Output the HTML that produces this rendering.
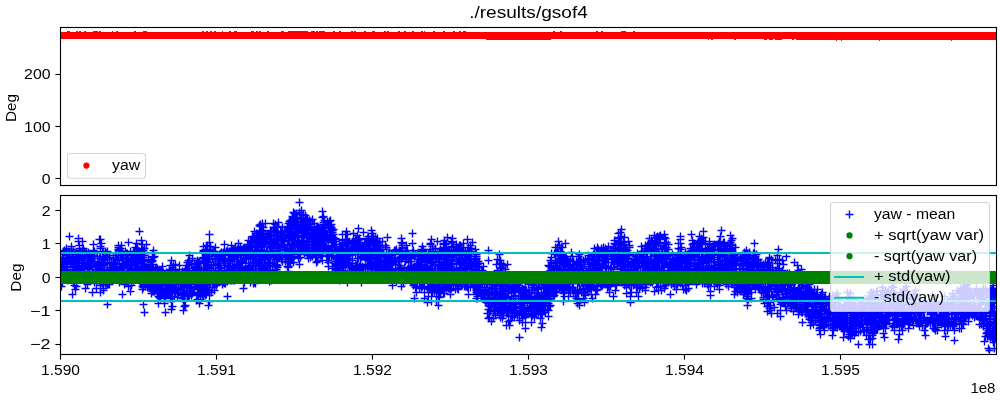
<!DOCTYPE html><html><head><meta charset="utf-8"><title>gsof4</title><style>html,body{margin:0;padding:0;background:#fff;width:1000px;height:400px;overflow:hidden}</style></head><body><svg width="1000" height="400" viewBox="0 0 1000 400" style="position:absolute;left:0;top:0;will-change:transform" font-family="Liberation Sans, sans-serif" fill="#000">
<defs><clipPath id="c1"><rect x="60.5" y="27.5" width="936" height="158"/></clipPath><clipPath id="c2"><rect x="60.5" y="195.5" width="936" height="159"/></clipPath></defs>
<g clip-path="url(#c1)"><path d="M60 32.0L61 32.0L62 32.0L63 32.0L64 32.0L65 32.0L66 32.0L67 31.0L68 31.0L69 31.0L70 31.8L71 31.8L72 31.9L73 31.9L74 32.0L75 32.0L76 31.8L77 31.0L78 31.8L79 31.8L80 31.0L81 31.8L82 31.8L83 31.8L84 31.8L85 31.0L86 32.0L87 32.0L88 32.0L89 32.0L90 32.0L91 32.0L92 31.9L93 31.9L94 31.1L95 31.1L96 31.9L97 31.0L98 31.8L99 31.8L100 31.0L101 31.8L102 31.8L103 31.8L104 32.0L105 32.0L106 32.0L107 32.0L108 32.0L109 32.0L110 32.0L111 32.1L112 31.3L113 31.2L114 32.0L115 32.0L116 31.9L117 31.1L118 31.9L119 31.9L120 31.9L121 31.9L122 31.9L123 31.9L124 31.2L125 32.0L126 31.8L127 31.8L128 31.8L129 31.8L130 31.8L131 31.8L132 32.0L133 31.9L134 31.9L135 31.1L136 31.9L137 31.7L138 31.7L139 31.7L140 31.7L141 31.7L142 31.7L143 31.8L144 31.0L145 31.9L146 31.1L147 31.9L148 31.9L149 32.1L150 32.1L151 31.2L152 32.0L153 32.0L154 31.2L155 32.0L156 32.1L157 32.1L158 32.2L159 32.2L160 31.4L161 32.2L162 32.2L163 32.2L164 32.2L165 32.2L166 32.2L167 32.2L168 31.4L169 32.1L170 31.3L171 32.1L172 32.1L173 32.1L174 32.2L175 32.2L176 32.2L177 31.4L178 32.2L179 32.2L180 32.2L181 32.2L182 32.2L183 32.2L184 31.4L185 32.2L186 32.1L187 32.1L188 32.1L189 32.1L190 32.1L191 32.1L192 32.1L193 31.3L194 32.1L195 31.3L196 32.1L197 31.3L198 32.1L199 32.1L200 32.1L201 31.9L202 31.9L203 31.1L204 31.9L205 31.9L206 31.9L207 30.9L208 31.7L209 31.7L210 31.7L211 30.9L212 31.7L213 32.0L214 31.9L215 31.1L216 31.9L217 31.9L218 31.9L219 32.0L220 32.0L221 32.0L222 31.1L223 31.9L224 31.9L225 31.9L226 31.9L227 31.9L228 32.0L229 31.9L230 31.1L231 31.9L232 31.9L233 31.9L234 31.9L235 31.1L236 31.1L237 31.9L238 31.9L239 31.9L240 31.9L241 31.9L242 31.9L243 31.9L244 31.9L245 31.9L246 31.8L247 31.8L248 31.8L249 31.8L250 31.8L251 31.8L252 30.9L253 30.9L254 31.7L255 31.7L256 31.7L257 30.9L258 31.6L259 31.6L260 30.8L261 31.6L262 31.6L263 31.6L264 31.6L265 31.6L266 31.6L267 31.6L268 30.9L269 31.7L270 31.7L271 31.6L272 31.6L273 31.6L274 31.6L275 31.6L276 31.5L277 31.5L278 31.5L279 31.5L280 31.5L281 31.5L282 30.8L283 30.8L284 31.6L285 31.6L286 31.6L287 31.5L288 31.5L289 30.7L290 31.4L291 31.4L292 31.4L293 31.4L294 31.4L295 31.4L296 31.4L297 31.2L298 31.2L299 31.2L300 30.4L301 31.2L302 31.4L303 31.4L304 31.4L305 31.4L306 31.4L307 31.4L308 31.5L309 31.5L310 31.5L311 31.5L312 30.7L313 31.5L314 30.7L315 31.6L316 31.6L317 30.8L318 31.6L319 31.6L320 30.6L321 31.4L322 30.6L323 30.6L324 30.6L325 31.5L326 31.5L327 31.5L328 31.5L329 31.5L330 31.5L331 31.5L332 31.5L333 31.5L334 30.8L335 31.7L336 31.7L337 31.8L338 31.8L339 31.9L340 30.9L341 31.7L342 31.7L343 31.7L344 31.7L345 31.7L346 31.7L347 31.7L348 31.7L349 31.7L350 31.8L351 31.7L352 30.9L353 31.7L354 31.7L355 30.9L356 31.7L357 31.6L358 31.6L359 31.6L360 31.6L361 31.6L362 31.7L363 31.7L364 31.7L365 30.9L366 31.8L367 31.8L368 31.8L369 31.7L370 31.7L371 31.7L372 31.7L373 30.9L374 30.9L375 31.7L376 31.8L377 31.8L378 31.8L379 31.8L380 31.8L381 31.8L382 31.8L383 31.8L384 31.8L385 31.0L386 31.8L387 31.8L388 31.0L389 31.8L390 32.0L391 32.0L392 32.0L393 32.0L394 32.0L395 32.0L396 31.2L397 32.0L398 31.2L399 31.0L400 31.8L401 31.8L402 31.8L403 31.8L404 31.9L405 31.1L406 31.9L407 31.9L408 31.9L409 32.0L410 31.7L411 31.7L412 31.7L413 30.9L414 31.7L415 32.0L416 32.0L417 32.0L418 32.0L419 32.0L420 32.0L421 31.9L422 31.1L423 31.9L424 31.9L425 31.1L426 32.0L427 32.0L428 32.0L429 31.8L430 31.8L431 31.8L432 31.8L433 31.8L434 31.1L435 31.8L436 31.8L437 31.8L438 31.8L439 31.8L440 32.0L441 31.9L442 31.9L443 31.8L444 31.0L445 31.8L446 31.8L447 31.8L448 31.8L449 31.8L450 31.8L451 31.8L452 31.8L453 31.8L454 31.0L455 31.9L456 31.9L457 31.9L458 31.9L459 31.9L460 31.1L461 31.9L462 31.9L463 31.9L464 31.1L465 31.1L466 31.8L467 31.8L468 31.8L469 31.8L470 31.8L471 31.9L472 31.9L473 31.9L474 31.9L475 32.0L476 32.0L477 32.0L478 32.0L479 32.1L480 32.1L481 32.2L482 31.4L483 32.2L484 32.2L485 32.2L486 32.0L487 32.0L488 32.0L489 31.2L490 32.0L491 31.4L492 32.2L493 32.2L494 32.2L495 31.3L496 32.1L497 32.0L498 31.2L499 32.0L500 32.0L501 32.0L502 31.3L503 32.2L504 32.2L505 31.4L506 32.2L507 31.4L508 32.2L509 31.4L510 32.2L511 32.2L512 32.2L513 32.2L514 32.2L515 32.2L516 31.4L517 32.2L518 32.2L519 32.2L520 32.2L521 31.4L522 32.2L523 32.2L524 32.2L525 32.2L526 31.4L527 32.2L528 32.2L529 32.2L530 32.2L531 31.4L532 32.2L533 32.2L534 32.2L535 32.2L536 31.4L537 32.2L538 32.2L539 32.2L540 32.2L541 32.2L542 32.2L543 31.4L544 32.2L545 31.4L546 32.2L547 32.2L548 32.1L549 32.1L550 32.0L551 32.0L552 32.0L553 31.9L554 31.1L555 31.9L556 31.8L557 31.8L558 31.8L559 31.8L560 31.8L561 31.1L562 31.9L563 31.9L564 31.9L565 31.9L566 31.9L567 31.9L568 32.1L569 32.1L570 32.0L571 31.2L572 32.0L573 32.0L574 32.0L575 32.1L576 32.1L577 32.1L578 32.0L579 32.0L580 31.2L581 32.0L582 32.0L583 32.1L584 31.3L585 32.1L586 31.3L587 32.1L588 32.1L589 32.1L590 32.1L591 32.0L592 32.0L593 32.0L594 32.0L595 31.9L596 31.9L597 31.1L598 31.9L599 31.9L600 32.0L601 31.9L602 31.1L603 31.9L604 31.9L605 31.9L606 31.9L607 31.9L608 31.9L609 31.9L610 31.9L611 32.0L612 31.9L613 31.8L614 31.8L615 31.8L616 31.7L617 31.7L618 31.7L619 31.7L620 31.6L621 31.6L622 30.8L623 30.8L624 31.6L625 31.0L626 31.8L627 31.8L628 31.8L629 31.8L630 31.8L631 31.9L632 31.9L633 31.3L634 31.3L635 31.3L636 32.0L637 32.0L638 32.0L639 31.9L640 31.9L641 31.9L642 31.9L643 31.9L644 31.9L645 31.9L646 31.9L647 31.8L648 31.8L649 31.8L650 31.8L651 31.8L652 31.8L653 31.8L654 31.8L655 31.8L656 31.8L657 31.8L658 31.8L659 31.8L660 31.8L661 31.8L662 31.7L663 31.7L664 31.7L665 31.7L666 31.7L667 31.8L668 31.9L669 31.9L670 31.9L671 32.0L672 32.0L673 32.0L674 32.0L675 32.0L676 32.1L677 31.9L678 31.8L679 31.8L680 31.8L681 31.8L682 31.8L683 31.8L684 32.0L685 32.0L686 32.0L687 32.0L688 32.0L689 31.7L690 31.7L691 31.7L692 31.7L693 31.7L694 31.8L695 31.9L696 31.9L697 31.8L698 31.8L699 31.8L700 31.8L701 31.7L702 31.7L703 31.7L704 31.7L705 31.7L706 31.8L707 31.8L708 31.8L709 31.8L710 31.8L711 31.8L712 31.9L713 31.9L714 31.9L715 31.9L716 31.9L717 31.9L718 31.8L719 31.8L720 31.7L721 31.7L722 31.7L723 31.7L724 31.7L725 31.9L726 31.9L727 31.9L728 31.9L729 31.8L730 31.8L731 31.8L732 31.8L733 31.8L734 31.8L735 31.9L736 31.9L737 31.9L738 32.0L739 32.1L740 32.1L741 32.1L742 32.0L743 32.0L744 32.0L745 32.0L746 32.0L747 32.0L748 32.0L749 32.0L750 32.0L751 32.0L752 31.9L753 31.9L754 31.9L755 31.9L756 31.9L757 32.0L758 32.0L759 32.1L760 32.1L761 32.1L762 32.2L763 32.2L764 32.2L765 32.2L766 32.2L767 32.1L768 32.1L769 32.1L770 32.1L771 32.1L772 32.1L773 32.1L774 32.1L775 32.1L776 32.1L777 32.0L778 32.0L779 32.0L780 32.0L781 32.0L782 32.1L783 32.1L784 32.1L785 32.1L786 32.1L787 32.1L788 32.1L789 32.2L790 32.2L791 32.2L792 32.2L793 32.2L794 32.2L795 32.2L796 32.2L797 32.2L798 32.2L799 32.2L800 32.2L801 32.2L802 32.2L803 32.2L804 32.2L805 32.2L806 32.2L807 32.2L808 32.2L809 32.2L810 32.2L811 32.2L812 32.2L813 32.2L814 32.2L815 32.2L816 32.2L817 32.2L818 32.2L819 32.2L820 32.2L821 32.2L822 32.2L823 32.2L824 32.2L825 32.2L826 32.2L827 32.2L828 32.2L829 32.2L830 32.2L831 32.2L832 32.2L833 32.2L834 32.2L835 32.2L836 32.2L837 32.2L838 32.2L839 32.2L840 32.2L841 32.2L842 32.2L843 32.2L844 32.2L845 32.2L846 32.2L847 32.2L848 32.2L849 32.2L850 32.2L851 32.2L852 32.2L853 32.2L854 32.2L855 32.2L856 32.2L857 32.2L858 32.2L859 32.2L860 32.2L861 32.2L862 32.2L863 32.2L864 32.2L865 32.2L866 32.2L867 32.2L868 32.2L869 32.2L870 32.2L871 32.2L872 32.2L873 32.2L874 32.2L875 32.2L876 32.2L877 32.2L878 32.2L879 32.2L880 32.2L881 32.2L882 32.2L883 32.2L884 32.2L885 32.2L886 32.2L887 32.2L888 32.2L889 32.2L890 32.2L891 32.2L892 32.2L893 32.2L894 32.2L895 32.2L896 32.2L897 32.2L898 32.2L899 32.2L900 32.2L901 32.2L902 32.2L903 32.2L904 32.2L905 32.2L906 32.2L907 32.2L908 32.2L909 32.2L910 32.2L911 32.2L912 32.2L913 32.2L914 32.2L915 32.2L916 32.2L917 32.2L918 32.2L919 32.2L920 32.2L921 32.2L922 32.2L923 32.2L924 32.2L925 32.2L926 32.2L927 32.2L928 32.2L929 32.2L930 32.2L931 32.2L932 32.2L933 32.2L934 32.2L935 32.2L936 32.2L937 32.2L938 32.2L939 32.2L940 32.2L941 32.2L942 32.2L943 32.2L944 32.2L945 32.2L946 32.2L947 32.2L948 32.2L949 32.2L950 32.2L951 32.2L952 32.2L953 32.2L954 32.2L955 32.2L956 32.2L957 32.2L958 32.2L959 32.2L960 32.2L961 32.2L962 32.2L963 32.2L964 32.2L965 32.2L966 32.2L967 32.2L968 32.2L969 32.2L970 32.2L971 32.2L972 32.2L973 32.2L974 32.2L975 32.2L976 32.2L977 32.2L978 32.2L979 32.2L980 32.2L981 32.2L982 32.2L983 32.2L984 32.2L985 32.2L986 32.2L987 32.2L988 32.2L989 32.2L990 32.2L991 32.2L992 32.2L993 32.2L994 32.2L995 32.2L996 32.2L997 32.2L997 40.0L996 40.0L995 40.0L994 40.0L993 40.0L992 39.9L991 40.0L990 40.0L989 40.0L988 40.8L987 40.0L986 40.0L985 40.7L984 39.9L983 39.9L982 39.7L981 39.6L980 39.6L979 39.6L978 39.6L977 39.6L976 39.5L975 39.5L974 39.5L973 39.5L972 39.5L971 39.5L970 39.6L969 40.4L968 39.6L967 39.6L966 39.6L965 39.6L964 39.6L963 39.7L962 39.7L961 39.7L960 39.7L959 39.7L958 39.7L957 39.6L956 39.9L955 40.7L954 39.9L953 39.9L952 40.7L951 40.4L950 39.7L949 39.7L948 39.7L947 39.8L946 39.8L945 39.8L944 39.8L943 39.8L942 39.7L941 39.6L940 39.7L939 39.7L938 39.7L937 39.7L936 39.7L935 39.7L934 39.7L933 39.7L932 40.5L931 39.7L930 39.6L929 39.6L928 39.6L927 39.8L926 39.8L925 39.8L924 39.8L923 39.8L922 40.5L921 39.7L920 39.7L919 39.7L918 39.7L917 40.5L916 39.6L915 39.6L914 39.6L913 39.6L912 40.4L911 40.4L910 39.7L909 39.7L908 39.7L907 39.7L906 39.7L905 39.7L904 39.7L903 39.7L902 39.7L901 40.7L900 39.9L899 40.7L898 39.9L897 39.9L896 39.7L895 40.5L894 39.7L893 39.7L892 39.7L891 39.7L890 40.4L889 39.6L888 39.6L887 39.7L886 39.8L885 39.8L884 39.8L883 39.8L882 39.8L881 39.7L880 40.5L879 40.5L878 39.7L877 40.5L876 39.8L875 40.6L874 39.9L873 40.7L872 39.9L871 39.9L870 39.9L869 39.9L868 39.9L867 39.9L866 40.7L865 39.8L864 39.8L863 40.5L862 39.7L861 39.8L860 39.9L859 39.9L858 39.9L857 39.9L856 39.9L855 40.6L854 39.8L853 39.9L852 39.9L851 39.9L850 39.9L849 39.9L848 39.9L847 39.8L846 39.8L845 39.8L844 39.8L843 39.8L842 40.6L841 40.6L840 39.7L839 39.7L838 39.7L837 40.5L836 40.5L835 39.8L834 39.8L833 39.8L832 40.6L831 39.8L830 39.6L829 40.4L828 39.6L827 40.5L826 39.7L825 39.7L824 39.7L823 39.7L822 39.8L821 40.6L820 39.8L819 39.8L818 39.8L817 39.6L816 39.6L815 39.6L814 39.6L813 39.6L812 39.6L811 39.6L810 40.4L809 39.6L808 39.6L807 40.4L806 39.5L805 39.5L804 39.6L803 39.6L802 39.6L801 39.6L800 39.6L799 39.5L798 39.5L797 39.5L796 39.5L795 39.4L794 39.4L793 40.2L792 39.4L791 39.4L790 39.4L789 39.4L788 39.4L787 39.4L786 39.4L785 39.4L784 39.4L783 39.3L782 39.5L781 39.5L780 39.5L779 40.3L778 39.5L777 39.5L776 40.3L775 39.5L774 39.4L773 39.5L772 39.5L771 39.5L770 39.5L769 39.5L768 39.4L767 39.4L766 40.2L765 40.2L764 39.3L763 39.3L762 39.3L761 39.2L760 39.1L759 39.1L758 39.1L757 39.1L756 39.1L755 39.1L754 39.2L753 39.2L752 39.2L751 39.2L750 39.2L749 39.3L748 39.3L747 39.3L746 39.3L745 39.3L744 39.2L743 39.2L742 39.2L741 39.2L740 39.1L739 39.1L738 39.1L737 39.2L736 39.2L735 40.0L734 39.2L733 39.2L732 39.0L731 39.0L730 39.0L729 39.8L728 39.0L727 39.0L726 39.0L725 39.0L724 39.8L723 39.0L722 39.1L721 39.1L720 39.9L719 39.1L718 39.1L717 39.0L716 39.8L715 39.0L714 39.8L713 39.2L712 40.0L711 39.2L710 39.2L709 39.2L708 39.9L707 39.0L706 39.0L705 39.0L704 39.0L703 39.0L702 39.0L701 39.0L700 39.0L699 39.0L698 39.8L697 39.0L696 39.0L695 39.0L694 39.0L693 38.9L692 39.7L691 39.0L690 39.1L689 39.1L688 39.1L687 39.1L686 39.1L685 39.1L684 39.1L683 39.1L682 39.1L681 39.1L680 39.0L679 39.1L678 39.1L677 39.1L676 39.1L675 39.1L674 39.0L673 39.0L672 39.2L671 39.2L670 39.2L669 39.2L668 39.2L667 39.8L666 39.1L665 39.1L664 39.1L663 39.1L662 39.9L661 39.1L660 39.1L659 39.9L658 39.1L657 39.1L656 39.1L655 39.1L654 39.9L653 39.1L652 39.1L651 39.0L650 39.0L649 39.0L648 39.8L647 39.1L646 39.1L645 39.1L644 39.1L643 39.9L642 39.1L641 39.2L640 39.2L639 39.2L638 39.2L637 39.2L636 39.2L635 39.1L634 39.1L633 39.1L632 39.3L631 39.3L630 39.3L629 39.3L628 39.3L627 39.2L626 39.2L625 39.2L624 39.2L623 39.0L622 39.0L621 39.0L620 39.0L619 39.0L618 39.0L617 39.1L616 39.1L615 39.2L614 39.2L613 39.2L612 39.2L611 39.2L610 39.1L609 39.1L608 39.1L607 39.1L606 39.1L605 39.0L604 39.0L603 39.0L602 39.0L601 39.0L600 39.1L599 39.1L598 39.1L597 39.2L596 39.2L595 39.2L594 39.2L593 39.2L592 39.2L591 39.2L590 39.2L589 39.2L588 39.2L587 39.3L586 39.3L585 39.3L584 39.3L583 39.3L582 39.3L581 39.3L580 39.3L579 39.3L578 39.3L577 39.3L576 39.3L575 39.2L574 39.2L573 39.2L572 39.1L571 39.2L570 39.2L569 39.2L568 39.2L567 39.2L566 39.2L565 39.3L564 39.3L563 39.3L562 39.3L561 39.3L560 39.1L559 39.1L558 39.1L557 39.2L556 39.2L555 39.2L554 39.2L553 39.3L552 39.3L551 39.5L550 39.5L549 39.5L548 39.5L547 39.5L546 39.5L545 39.5L544 39.6L543 39.7L542 39.7L541 39.7L540 39.7L539 39.7L538 39.5L537 39.5L536 39.5L535 39.5L534 39.6L533 39.6L532 39.6L531 39.6L530 39.6L529 39.5L528 39.7L527 39.7L526 39.7L525 39.7L524 39.7L523 39.6L522 39.6L521 39.8L520 39.8L519 39.8L518 39.8L517 39.8L516 39.5L515 39.5L514 39.5L513 39.5L512 39.7L511 39.7L510 39.7L509 39.7L508 39.7L507 39.6L506 39.6L505 39.6L504 39.6L503 39.5L502 39.5L501 39.5L500 39.5L499 39.5L498 39.5L497 39.5L496 39.5L495 39.5L494 39.6L493 39.6L492 39.6L491 39.6L490 39.6L489 39.5L488 39.5L487 39.5L486 39.5L485 39.3L484 39.3L483 39.3L482 39.2L481 39.2L480 39.2L479 39.2L478 39.2L477 39.2L476 39.2L475 39.2L474 39.2L473 39.1L472 39.1L471 39.1L470 39.2L469 39.2L468 39.2L467 39.2L466 39.2L465 39.1L464 39.0L463 39.0L462 39.0L461 39.1L460 39.1L459 39.1L458 39.1L457 39.1L456 39.1L455 39.1L454 39.1L453 39.2L452 39.2L451 39.2L450 39.2L449 39.2L448 39.1L447 39.1L446 39.2L445 39.2L444 39.2L443 39.2L442 39.2L441 39.3L440 39.3L439 39.3L438 39.3L437 39.3L436 39.3L435 39.3L434 39.3L433 39.3L432 39.3L431 39.3L430 39.3L429 39.3L428 39.3L427 39.3L426 39.3L425 39.3L424 39.2L423 39.2L422 39.1L421 39.1L420 39.1L419 39.1L418 39.1L417 39.2L416 39.2L415 39.2L414 39.2L413 39.2L412 39.0L411 39.0L410 39.0L409 38.9L408 38.9L407 38.9L406 38.9L405 39.0L404 39.0L403 39.0L402 39.0L401 39.0L400 39.0L399 39.0L398 39.0L397 39.0L396 39.0L395 39.0L394 39.0L393 39.0L392 39.0L391 39.0L390 38.9L389 38.9L388 38.8L387 38.9L386 38.9L385 38.9L384 38.9L383 38.9L382 38.9L381 38.9L380 38.8L379 38.8L378 38.8L377 38.8L376 38.8L375 38.8L374 38.8L373 38.8L372 38.8L371 38.8L370 38.8L369 38.8L368 38.8L367 38.8L366 38.8L365 38.8L364 38.8L363 39.0L362 39.0L361 39.0L360 39.0L359 39.0L358 38.8L357 38.8L356 38.8L355 38.8L354 38.8L353 38.8L352 38.8L351 38.8L350 38.8L349 39.0L348 39.0L347 39.0L346 39.0L345 39.0L344 38.8L343 38.8L342 39.0L341 39.0L340 39.0L339 39.0L338 39.0L337 39.0L336 38.9L335 38.9L334 38.8L333 38.8L332 38.8L331 38.8L330 38.7L329 38.7L328 38.7L327 38.7L326 38.7L325 38.7L324 38.7L323 38.7L322 38.7L321 38.7L320 38.7L319 38.7L318 38.7L317 38.7L316 38.7L315 38.7L314 38.7L313 38.7L312 38.7L311 38.7L310 38.7L309 38.7L308 38.7L307 38.7L306 38.7L305 38.7L304 38.7L303 38.7L302 38.7L301 38.7L300 38.7L299 38.7L298 38.7L297 38.7L296 38.7L295 38.7L294 38.7L293 38.7L292 38.7L291 38.8L290 38.8L289 38.8L288 38.8L287 38.8L286 38.7L285 38.7L284 38.7L283 38.7L282 38.7L281 38.7L280 38.7L279 38.8L278 38.8L277 38.8L276 38.8L275 38.8L274 38.9L273 39.0L272 39.0L271 39.0L270 39.0L269 39.0L268 39.0L267 39.0L266 38.8L265 38.8L264 38.8L263 38.8L262 38.8L261 38.8L260 38.9L259 38.9L258 38.9L257 39.0L256 39.0L255 39.0L254 39.0L253 39.0L252 39.0L251 39.0L250 39.0L249 39.0L248 39.0L247 39.0L246 39.0L245 39.1L244 39.1L243 39.1L242 39.1L241 39.1L240 38.9L239 38.8L238 38.8L237 39.0L236 39.0L235 39.0L234 39.0L233 39.0L232 39.0L231 39.0L230 39.2L229 39.2L228 39.2L227 39.2L226 39.2L225 39.2L224 39.0L223 39.0L222 39.0L221 39.0L220 39.0L219 39.0L218 39.0L217 39.1L216 39.1L215 39.1L214 39.1L213 39.1L212 39.3L211 39.3L210 39.3L209 39.3L208 39.3L207 39.3L206 39.3L205 39.2L204 39.2L203 39.2L202 39.3L201 39.3L200 39.3L199 39.3L198 39.3L197 39.3L196 39.3L195 39.3L194 39.3L193 39.2L192 39.2L191 39.2L190 39.2L189 39.2L188 39.3L187 39.4L186 39.4L185 39.4L184 39.4L183 39.4L182 39.4L181 39.4L180 39.2L179 39.2L178 39.2L177 39.2L176 39.2L175 39.3L174 39.4L173 39.4L172 39.4L171 39.4L170 39.4L169 39.3L168 39.4L167 39.4L166 39.4L165 39.4L164 39.4L163 39.4L162 39.3L161 39.2L160 39.3L159 39.3L158 39.3L157 39.3L156 39.3L155 39.1L154 39.1L153 39.1L152 39.1L151 39.1L150 39.1L149 39.1L148 39.1L147 39.4L146 39.4L145 39.4L144 39.4L143 39.4L142 39.4L141 39.3L140 39.0L139 38.9L138 38.9L137 38.8L136 38.8L135 38.9L134 39.0L133 39.1L132 39.1L131 39.1L130 39.1L129 39.1L128 39.0L127 39.0L126 39.0L125 39.2L124 39.2L123 39.2L122 39.2L121 39.2L120 39.2L119 39.0L118 39.0L117 38.9L116 38.9L115 38.9L114 38.9L113 38.9L112 38.9L111 39.0L110 39.0L109 39.3L108 39.3L107 39.3L106 39.3L105 39.3L104 39.1L103 39.1L102 39.1L101 39.1L100 39.1L99 39.1L98 39.1L97 39.1L96 39.1L95 39.1L94 39.1L93 39.1L92 39.1L91 39.1L90 39.1L89 39.0L88 39.1L87 39.1L86 39.1L85 39.1L84 39.1L83 38.9L82 38.9L81 38.9L80 38.9L79 38.9L78 39.1L77 39.1L76 39.1L75 39.2L74 39.2L73 39.2L72 39.2L71 39.2L70 39.2L69 39.0L68 39.0L67 39.0L66 39.0L65 39.0L64 39.0L63 39.0L62 39.0L61 39.0L60 39.0Z" fill="#f00" shape-rendering="crispEdges"/></g>
<g clip-path="url(#c2)"><path d="M635.5 283.5h8m-4-4v8M882.5 309.5h8m-4-4v8M763.5 287.5h8m-4-4v8M276.5 255.5h8m-4-4v8M342.5 239.5h8m-4-4v8M862.5 319.5h8m-4-4v8M62.5 266.5h8m-4-4v8M805.5 290.5h8m-4-4v8M499.5 282.5h8m-4-4v8M345.5 253.5h8m-4-4v8M322.5 247.5h8m-4-4v8M299.5 223.5h8m-4-4v8M476.5 291.5h8m-4-4v8M534.5 287.5h8m-4-4v8M575.5 273.5h8m-4-4v8M989.5 301.5h8m-4-4v8M779.5 302.5h8m-4-4v8M632.5 262.5h8m-4-4v8M985.5 331.5h8m-4-4v8M268.5 248.5h8m-4-4v8M220.5 258.5h8m-4-4v8M623.5 265.5h8m-4-4v8M103.5 257.5h8m-4-4v8M96.5 271.5h8m-4-4v8M544.5 295.5h8m-4-4v8M497.5 294.5h8m-4-4v8M901.5 317.5h8m-4-4v8M543.5 297.5h8m-4-4v8M526.5 308.5h8m-4-4v8M294.5 230.5h8m-4-4v8M69.5 254.5h8m-4-4v8M250.5 258.5h8m-4-4v8M694.5 259.5h8m-4-4v8M256.5 239.5h8m-4-4v8M60.5 262.5h8m-4-4v8M815.5 314.5h8m-4-4v8M215.5 256.5h8m-4-4v8M311.5 230.5h8m-4-4v8M868.5 297.5h8m-4-4v8M540.5 310.5h8m-4-4v8M833.5 320.5h8m-4-4v8M647.5 256.5h8m-4-4v8M733.5 257.5h8m-4-4v8M564.5 283.5h8m-4-4v8M538.5 310.5h8m-4-4v8M860.5 306.5h8m-4-4v8M613.5 248.5h8m-4-4v8M122.5 253.5h8m-4-4v8M429.5 256.5h8m-4-4v8M363.5 239.5h8m-4-4v8M211.5 259.5h8m-4-4v8M800.5 307.5h8m-4-4v8M422.5 271.5h8m-4-4v8M977.5 316.5h8m-4-4v8M607.5 251.5h8m-4-4v8M617.5 272.5h8m-4-4v8M645.5 249.5h8m-4-4v8M680.5 261.5h8m-4-4v8M211.5 284.5h8m-4-4v8M471.5 280.5h8m-4-4v8M288.5 247.5h8m-4-4v8M441.5 274.5h8m-4-4v8M161.5 280.5h8m-4-4v8M965.5 306.5h8m-4-4v8M267.5 245.5h8m-4-4v8M342.5 262.5h8m-4-4v8M863.5 329.5h8m-4-4v8M197.5 289.5h8m-4-4v8M831.5 303.5h8m-4-4v8M940.5 303.5h8m-4-4v8M888.5 302.5h8m-4-4v8M590.5 287.5h8m-4-4v8M250.5 260.5h8m-4-4v8M915.5 320.5h8m-4-4v8M574.5 282.5h8m-4-4v8M239.5 248.5h8m-4-4v8M871.5 309.5h8m-4-4v8M590.5 282.5h8m-4-4v8M420.5 257.5h8m-4-4v8M447.5 288.5h8m-4-4v8M288.5 238.5h8m-4-4v8M98.5 262.5h8m-4-4v8M865.5 313.5h8m-4-4v8M499.5 311.5h8m-4-4v8M570.5 290.5h8m-4-4v8M362.5 251.5h8m-4-4v8M84.5 252.5h8m-4-4v8M416.5 281.5h8m-4-4v8M90.5 253.5h8m-4-4v8M190.5 286.5h8m-4-4v8M964.5 298.5h8m-4-4v8M661.5 253.5h8m-4-4v8M461.5 255.5h8m-4-4v8M550.5 295.5h8m-4-4v8M862.5 308.5h8m-4-4v8M385.5 259.5h8m-4-4v8M607.5 254.5h8m-4-4v8M687.5 263.5h8m-4-4v8M399.5 270.5h8m-4-4v8M547.5 270.5h8m-4-4v8M893.5 301.5h8m-4-4v8M212.5 254.5h8m-4-4v8M923.5 320.5h8m-4-4v8M62.5 259.5h8m-4-4v8M795.5 311.5h8m-4-4v8M201.5 283.5h8m-4-4v8M453.5 261.5h8m-4-4v8M799.5 302.5h8m-4-4v8M72.5 270.5h8m-4-4v8M638.5 257.5h8m-4-4v8M779.5 302.5h8m-4-4v8M542.5 282.5h8m-4-4v8M720.5 243.5h8m-4-4v8M278.5 247.5h8m-4-4v8M254.5 254.5h8m-4-4v8M407.5 257.5h8m-4-4v8M238.5 261.5h8m-4-4v8M387.5 255.5h8m-4-4v8M944.5 321.5h8m-4-4v8M593.5 270.5h8m-4-4v8M380.5 260.5h8m-4-4v8M315.5 228.5h8m-4-4v8M949.5 325.5h8m-4-4v8M475.5 271.5h8m-4-4v8M979.5 311.5h8m-4-4v8M545.5 298.5h8m-4-4v8M882.5 300.5h8m-4-4v8M460.5 255.5h8m-4-4v8M867.5 305.5h8m-4-4v8M448.5 255.5h8m-4-4v8M908.5 302.5h8m-4-4v8M133.5 267.5h8m-4-4v8M463.5 287.5h8m-4-4v8M547.5 271.5h8m-4-4v8M948.5 325.5h8m-4-4v8M296.5 228.5h8m-4-4v8M791.5 306.5h8m-4-4v8M680.5 255.5h8m-4-4v8M713.5 255.5h8m-4-4v8M639.5 280.5h8m-4-4v8M969.5 312.5h8m-4-4v8M372.5 267.5h8m-4-4v8M258.5 245.5h8m-4-4v8M266.5 251.5h8m-4-4v8M899.5 318.5h8m-4-4v8M826.5 309.5h8m-4-4v8M180.5 295.5h8m-4-4v8M616.5 265.5h8m-4-4v8M509.5 306.5h8m-4-4v8M610.5 248.5h8m-4-4v8M662.5 263.5h8m-4-4v8M348.5 242.5h8m-4-4v8M958.5 300.5h8m-4-4v8M497.5 298.5h8m-4-4v8M637.5 260.5h8m-4-4v8M643.5 245.5h8m-4-4v8M242.5 258.5h8m-4-4v8M125.5 270.5h8m-4-4v8M448.5 263.5h8m-4-4v8M752.5 279.5h8m-4-4v8M799.5 294.5h8m-4-4v8M723.5 264.5h8m-4-4v8M897.5 294.5h8m-4-4v8M787.5 300.5h8m-4-4v8M866.5 315.5h8m-4-4v8M550.5 288.5h8m-4-4v8M899.5 316.5h8m-4-4v8M90.5 261.5h8m-4-4v8M79.5 258.5h8m-4-4v8M298.5 222.5h8m-4-4v8M294.5 232.5h8m-4-4v8M246.5 263.5h8m-4-4v8M588.5 285.5h8m-4-4v8M99.5 290.5h8m-4-4v8M225.5 267.5h8m-4-4v8M681.5 260.5h8m-4-4v8M80.5 266.5h8m-4-4v8M352.5 249.5h8m-4-4v8M930.5 321.5h8m-4-4v8M561.5 262.5h8m-4-4v8M796.5 292.5h8m-4-4v8M661.5 255.5h8m-4-4v8M621.5 256.5h8m-4-4v8M249.5 268.5h8m-4-4v8M594.5 259.5h8m-4-4v8M100.5 264.5h8m-4-4v8M956.5 318.5h8m-4-4v8M842.5 328.5h8m-4-4v8M111.5 264.5h8m-4-4v8M378.5 271.5h8m-4-4v8M358.5 246.5h8m-4-4v8M636.5 271.5h8m-4-4v8M354.5 270.5h8m-4-4v8M852.5 331.5h8m-4-4v8M195.5 274.5h8m-4-4v8M754.5 270.5h8m-4-4v8M870.5 331.5h8m-4-4v8M593.5 254.5h8m-4-4v8M646.5 282.5h8m-4-4v8M620.5 270.5h8m-4-4v8M161.5 283.5h8m-4-4v8M664.5 265.5h8m-4-4v8M808.5 294.5h8m-4-4v8M789.5 288.5h8m-4-4v8M366.5 243.5h8m-4-4v8M716.5 257.5h8m-4-4v8M856.5 326.5h8m-4-4v8M878.5 319.5h8m-4-4v8M221.5 254.5h8m-4-4v8M86.5 257.5h8m-4-4v8M655.5 270.5h8m-4-4v8M267.5 236.5h8m-4-4v8M585.5 258.5h8m-4-4v8M940.5 322.5h8m-4-4v8M422.5 255.5h8m-4-4v8M298.5 249.5h8m-4-4v8M489.5 297.5h8m-4-4v8M660.5 261.5h8m-4-4v8M423.5 267.5h8m-4-4v8M199.5 291.5h8m-4-4v8M665.5 270.5h8m-4-4v8M815.5 299.5h8m-4-4v8M420.5 274.5h8m-4-4v8M415.5 265.5h8m-4-4v8M562.5 288.5h8m-4-4v8M267.5 236.5h8m-4-4v8M294.5 233.5h8m-4-4v8M369.5 241.5h8m-4-4v8M490.5 286.5h8m-4-4v8M145.5 280.5h8m-4-4v8M598.5 285.5h8m-4-4v8M342.5 244.5h8m-4-4v8M142.5 270.5h8m-4-4v8M751.5 256.5h8m-4-4v8M197.5 283.5h8m-4-4v8M199.5 257.5h8m-4-4v8M197.5 293.5h8m-4-4v8M145.5 273.5h8m-4-4v8M890.5 307.5h8m-4-4v8M312.5 234.5h8m-4-4v8M348.5 253.5h8m-4-4v8M818.5 320.5h8m-4-4v8M630.5 282.5h8m-4-4v8M245.5 255.5h8m-4-4v8M467.5 281.5h8m-4-4v8M871.5 306.5h8m-4-4v8M419.5 257.5h8m-4-4v8M708.5 252.5h8m-4-4v8M161.5 282.5h8m-4-4v8M721.5 259.5h8m-4-4v8M763.5 270.5h8m-4-4v8M810.5 312.5h8m-4-4v8M677.5 259.5h8m-4-4v8M128.5 264.5h8m-4-4v8M547.5 288.5h8m-4-4v8M746.5 285.5h8m-4-4v8M248.5 266.5h8m-4-4v8M309.5 241.5h8m-4-4v8M739.5 274.5h8m-4-4v8M882.5 324.5h8m-4-4v8M193.5 289.5h8m-4-4v8M243.5 248.5h8m-4-4v8M650.5 260.5h8m-4-4v8M990.5 296.5h8m-4-4v8M931.5 308.5h8m-4-4v8M829.5 327.5h8m-4-4v8M764.5 289.5h8m-4-4v8M435.5 271.5h8m-4-4v8M648.5 250.5h8m-4-4v8M243.5 244.5h8m-4-4v8M748.5 263.5h8m-4-4v8M746.5 258.5h8m-4-4v8M475.5 280.5h8m-4-4v8M421.5 272.5h8m-4-4v8M454.5 272.5h8m-4-4v8M94.5 265.5h8m-4-4v8M830.5 307.5h8m-4-4v8M565.5 282.5h8m-4-4v8M429.5 280.5h8m-4-4v8M570.5 290.5h8m-4-4v8M716.5 261.5h8m-4-4v8M424.5 258.5h8m-4-4v8M815.5 322.5h8m-4-4v8M903.5 297.5h8m-4-4v8M429.5 257.5h8m-4-4v8M202.5 282.5h8m-4-4v8M748.5 282.5h8m-4-4v8M987.5 336.5h8m-4-4v8M209.5 273.5h8m-4-4v8M709.5 254.5h8m-4-4v8M809.5 293.5h8m-4-4v8M905.5 316.5h8m-4-4v8M191.5 284.5h8m-4-4v8M155.5 271.5h8m-4-4v8M984.5 325.5h8m-4-4v8M185.5 295.5h8m-4-4v8M236.5 252.5h8m-4-4v8M594.5 274.5h8m-4-4v8M477.5 281.5h8m-4-4v8M248.5 243.5h8m-4-4v8M898.5 320.5h8m-4-4v8M269.5 240.5h8m-4-4v8M756.5 280.5h8m-4-4v8M132.5 257.5h8m-4-4v8M504.5 286.5h8m-4-4v8M354.5 248.5h8m-4-4v8M353.5 271.5h8m-4-4v8M487.5 295.5h8m-4-4v8M118.5 266.5h8m-4-4v8M989.5 291.5h8m-4-4v8M875.5 318.5h8m-4-4v8M900.5 314.5h8m-4-4v8M293.5 237.5h8m-4-4v8M434.5 282.5h8m-4-4v8M278.5 245.5h8m-4-4v8M192.5 274.5h8m-4-4v8M94.5 271.5h8m-4-4v8M533.5 300.5h8m-4-4v8M190.5 283.5h8m-4-4v8M235.5 252.5h8m-4-4v8M849.5 309.5h8m-4-4v8M514.5 290.5h8m-4-4v8M242.5 271.5h8m-4-4v8M673.5 281.5h8m-4-4v8M309.5 252.5h8m-4-4v8M553.5 275.5h8m-4-4v8M326.5 251.5h8m-4-4v8M545.5 271.5h8m-4-4v8M638.5 261.5h8m-4-4v8M560.5 289.5h8m-4-4v8M435.5 261.5h8m-4-4v8M862.5 314.5h8m-4-4v8M238.5 270.5h8m-4-4v8M201.5 295.5h8m-4-4v8M181.5 269.5h8m-4-4v8M978.5 312.5h8m-4-4v8M935.5 321.5h8m-4-4v8M282.5 256.5h8m-4-4v8M967.5 313.5h8m-4-4v8M261.5 255.5h8m-4-4v8M536.5 309.5h8m-4-4v8M527.5 298.5h8m-4-4v8M899.5 310.5h8m-4-4v8M100.5 273.5h8m-4-4v8M356.5 254.5h8m-4-4v8M614.5 259.5h8m-4-4v8M130.5 269.5h8m-4-4v8M286.5 224.5h8m-4-4v8M496.5 307.5h8m-4-4v8M869.5 320.5h8m-4-4v8M749.5 257.5h8m-4-4v8M813.5 304.5h8m-4-4v8M749.5 281.5h8m-4-4v8M705.5 259.5h8m-4-4v8M836.5 325.5h8m-4-4v8M685.5 262.5h8m-4-4v8M728.5 283.5h8m-4-4v8M343.5 252.5h8m-4-4v8M227.5 280.5h8m-4-4v8M745.5 266.5h8m-4-4v8M225.5 263.5h8m-4-4v8M903.5 301.5h8m-4-4v8M369.5 243.5h8m-4-4v8M928.5 319.5h8m-4-4v8M215.5 267.5h8m-4-4v8M544.5 303.5h8m-4-4v8M155.5 286.5h8m-4-4v8M962.5 315.5h8m-4-4v8M594.5 271.5h8m-4-4v8M789.5 282.5h8m-4-4v8M325.5 254.5h8m-4-4v8M787.5 304.5h8m-4-4v8M649.5 267.5h8m-4-4v8M947.5 307.5h8m-4-4v8M466.5 251.5h8m-4-4v8M450.5 280.5h8m-4-4v8M694.5 267.5h8m-4-4v8M820.5 309.5h8m-4-4v8M374.5 259.5h8m-4-4v8M262.5 239.5h8m-4-4v8M574.5 262.5h8m-4-4v8M756.5 262.5h8m-4-4v8M721.5 250.5h8m-4-4v8M955.5 292.5h8m-4-4v8M500.5 302.5h8m-4-4v8M446.5 269.5h8m-4-4v8M715.5 261.5h8m-4-4v8M550.5 253.5h8m-4-4v8M723.5 265.5h8m-4-4v8M149.5 281.5h8m-4-4v8M584.5 286.5h8m-4-4v8M579.5 288.5h8m-4-4v8M921.5 320.5h8m-4-4v8M99.5 253.5h8m-4-4v8M485.5 305.5h8m-4-4v8M640.5 267.5h8m-4-4v8M573.5 290.5h8m-4-4v8M139.5 284.5h8m-4-4v8M609.5 247.5h8m-4-4v8M274.5 244.5h8m-4-4v8M252.5 256.5h8m-4-4v8M867.5 317.5h8m-4-4v8M254.5 274.5h8m-4-4v8M705.5 262.5h8m-4-4v8M575.5 265.5h8m-4-4v8M792.5 299.5h8m-4-4v8M497.5 304.5h8m-4-4v8M630.5 261.5h8m-4-4v8M803.5 288.5h8m-4-4v8M681.5 266.5h8m-4-4v8M648.5 282.5h8m-4-4v8M443.5 281.5h8m-4-4v8M580.5 282.5h8m-4-4v8M436.5 265.5h8m-4-4v8M735.5 289.5h8m-4-4v8M423.5 270.5h8m-4-4v8M498.5 284.5h8m-4-4v8M534.5 288.5h8m-4-4v8M377.5 269.5h8m-4-4v8M811.5 307.5h8m-4-4v8M424.5 280.5h8m-4-4v8M831.5 324.5h8m-4-4v8M772.5 294.5h8m-4-4v8M478.5 293.5h8m-4-4v8M709.5 274.5h8m-4-4v8M95.5 263.5h8m-4-4v8M431.5 251.5h8m-4-4v8M849.5 311.5h8m-4-4v8M579.5 271.5h8m-4-4v8M667.5 284.5h8m-4-4v8M681.5 261.5h8m-4-4v8M455.5 253.5h8m-4-4v8M242.5 259.5h8m-4-4v8M335.5 267.5h8m-4-4v8M335.5 270.5h8m-4-4v8M463.5 252.5h8m-4-4v8M991.5 329.5h8m-4-4v8M395.5 272.5h8m-4-4v8M415.5 281.5h8m-4-4v8M600.5 252.5h8m-4-4v8M944.5 318.5h8m-4-4v8M875.5 326.5h8m-4-4v8M420.5 258.5h8m-4-4v8M310.5 245.5h8m-4-4v8M872.5 295.5h8m-4-4v8M523.5 303.5h8m-4-4v8M688.5 256.5h8m-4-4v8M138.5 272.5h8m-4-4v8M856.5 325.5h8m-4-4v8M354.5 245.5h8m-4-4v8M524.5 295.5h8m-4-4v8M254.5 239.5h8m-4-4v8M455.5 264.5h8m-4-4v8M812.5 296.5h8m-4-4v8M812.5 294.5h8m-4-4v8M504.5 305.5h8m-4-4v8M755.5 281.5h8m-4-4v8M568.5 282.5h8m-4-4v8M256.5 247.5h8m-4-4v8M357.5 249.5h8m-4-4v8M704.5 251.5h8m-4-4v8M758.5 280.5h8m-4-4v8M118.5 255.5h8m-4-4v8M725.5 264.5h8m-4-4v8M801.5 296.5h8m-4-4v8M476.5 281.5h8m-4-4v8M126.5 270.5h8m-4-4v8M686.5 254.5h8m-4-4v8M293.5 226.5h8m-4-4v8M649.5 262.5h8m-4-4v8M420.5 266.5h8m-4-4v8M645.5 272.5h8m-4-4v8M302.5 221.5h8m-4-4v8M507.5 312.5h8m-4-4v8M551.5 292.5h8m-4-4v8M640.5 251.5h8m-4-4v8M258.5 251.5h8m-4-4v8M958.5 299.5h8m-4-4v8M332.5 250.5h8m-4-4v8M347.5 246.5h8m-4-4v8M300.5 235.5h8m-4-4v8M132.5 272.5h8m-4-4v8M457.5 258.5h8m-4-4v8M759.5 287.5h8m-4-4v8M707.5 273.5h8m-4-4v8M252.5 261.5h8m-4-4v8M201.5 290.5h8m-4-4v8M361.5 259.5h8m-4-4v8M756.5 284.5h8m-4-4v8M518.5 315.5h8m-4-4v8M908.5 320.5h8m-4-4v8M659.5 267.5h8m-4-4v8M631.5 267.5h8m-4-4v8M740.5 281.5h8m-4-4v8M384.5 266.5h8m-4-4v8M301.5 230.5h8m-4-4v8M469.5 280.5h8m-4-4v8M519.5 295.5h8m-4-4v8M205.5 256.5h8m-4-4v8M472.5 289.5h8m-4-4v8M647.5 281.5h8m-4-4v8M200.5 271.5h8m-4-4v8M233.5 249.5h8m-4-4v8M327.5 256.5h8m-4-4v8M958.5 300.5h8m-4-4v8M85.5 267.5h8m-4-4v8M242.5 248.5h8m-4-4v8M224.5 254.5h8m-4-4v8M505.5 300.5h8m-4-4v8M73.5 268.5h8m-4-4v8M490.5 310.5h8m-4-4v8M222.5 272.5h8m-4-4v8M313.5 242.5h8m-4-4v8M778.5 290.5h8m-4-4v8M243.5 252.5h8m-4-4v8M627.5 269.5h8m-4-4v8M443.5 273.5h8m-4-4v8M452.5 254.5h8m-4-4v8M801.5 292.5h8m-4-4v8M220.5 255.5h8m-4-4v8M909.5 302.5h8m-4-4v8M879.5 305.5h8m-4-4v8M671.5 264.5h8m-4-4v8M109.5 270.5h8m-4-4v8M666.5 265.5h8m-4-4v8M614.5 241.5h8m-4-4v8M759.5 290.5h8m-4-4v8M266.5 232.5h8m-4-4v8M950.5 296.5h8m-4-4v8M873.5 291.5h8m-4-4v8M182.5 291.5h8m-4-4v8M356.5 251.5h8m-4-4v8M815.5 304.5h8m-4-4v8M899.5 305.5h8m-4-4v8M986.5 323.5h8m-4-4v8M622.5 284.5h8m-4-4v8M669.5 281.5h8m-4-4v8M682.5 262.5h8m-4-4v8M949.5 298.5h8m-4-4v8M619.5 266.5h8m-4-4v8M375.5 263.5h8m-4-4v8M543.5 284.5h8m-4-4v8M77.5 268.5h8m-4-4v8M718.5 253.5h8m-4-4v8M695.5 272.5h8m-4-4v8M455.5 252.5h8m-4-4v8M839.5 317.5h8m-4-4v8M745.5 289.5h8m-4-4v8M376.5 263.5h8m-4-4v8M141.5 286.5h8m-4-4v8M198.5 294.5h8m-4-4v8M243.5 269.5h8m-4-4v8M345.5 266.5h8m-4-4v8M479.5 293.5h8m-4-4v8M915.5 313.5h8m-4-4v8M322.5 248.5h8m-4-4v8M883.5 316.5h8m-4-4v8M841.5 304.5h8m-4-4v8M441.5 250.5h8m-4-4v8M60.5 263.5h8m-4-4v8M773.5 292.5h8m-4-4v8M292.5 231.5h8m-4-4v8M205.5 267.5h8m-4-4v8M785.5 273.5h8m-4-4v8M689.5 266.5h8m-4-4v8M265.5 265.5h8m-4-4v8M310.5 242.5h8m-4-4v8M932.5 308.5h8m-4-4v8M311.5 242.5h8m-4-4v8M701.5 255.5h8m-4-4v8M196.5 271.5h8m-4-4v8M799.5 283.5h8m-4-4v8M185.5 288.5h8m-4-4v8M545.5 266.5h8m-4-4v8M572.5 261.5h8m-4-4v8M833.5 322.5h8m-4-4v8M148.5 272.5h8m-4-4v8M317.5 234.5h8m-4-4v8M752.5 270.5h8m-4-4v8M619.5 250.5h8m-4-4v8M353.5 246.5h8m-4-4v8M487.5 307.5h8m-4-4v8M851.5 307.5h8m-4-4v8M335.5 250.5h8m-4-4v8M746.5 288.5h8m-4-4v8M643.5 272.5h8m-4-4v8M732.5 285.5h8m-4-4v8M421.5 268.5h8m-4-4v8M719.5 272.5h8m-4-4v8M698.5 269.5h8m-4-4v8M429.5 280.5h8m-4-4v8M86.5 263.5h8m-4-4v8M959.5 297.5h8m-4-4v8M710.5 257.5h8m-4-4v8M259.5 237.5h8m-4-4v8M723.5 246.5h8m-4-4v8M322.5 236.5h8m-4-4v8M500.5 309.5h8m-4-4v8M848.5 313.5h8m-4-4v8M480.5 291.5h8m-4-4v8M331.5 264.5h8m-4-4v8M347.5 243.5h8m-4-4v8M141.5 267.5h8m-4-4v8M272.5 243.5h8m-4-4v8M314.5 245.5h8m-4-4v8M126.5 251.5h8m-4-4v8M497.5 298.5h8m-4-4v8M267.5 230.5h8m-4-4v8M730.5 262.5h8m-4-4v8M907.5 310.5h8m-4-4v8M316.5 232.5h8m-4-4v8M592.5 267.5h8m-4-4v8M537.5 294.5h8m-4-4v8M139.5 270.5h8m-4-4v8M192.5 269.5h8m-4-4v8M872.5 306.5h8m-4-4v8M505.5 287.5h8m-4-4v8M790.5 289.5h8m-4-4v8M131.5 269.5h8m-4-4v8M610.5 243.5h8m-4-4v8M854.5 332.5h8m-4-4v8M856.5 307.5h8m-4-4v8M62.5 271.5h8m-4-4v8M549.5 268.5h8m-4-4v8M413.5 256.5h8m-4-4v8M748.5 279.5h8m-4-4v8M138.5 272.5h8m-4-4v8M308.5 230.5h8m-4-4v8M797.5 292.5h8m-4-4v8M500.5 309.5h8m-4-4v8M485.5 300.5h8m-4-4v8M966.5 296.5h8m-4-4v8M360.5 246.5h8m-4-4v8M101.5 273.5h8m-4-4v8M433.5 255.5h8m-4-4v8M214.5 258.5h8m-4-4v8M146.5 284.5h8m-4-4v8M588.5 280.5h8m-4-4v8M950.5 296.5h8m-4-4v8M598.5 268.5h8m-4-4v8M652.5 259.5h8m-4-4v8M363.5 264.5h8m-4-4v8M591.5 268.5h8m-4-4v8M742.5 261.5h8m-4-4v8M606.5 281.5h8m-4-4v8M788.5 280.5h8m-4-4v8M573.5 282.5h8m-4-4v8M254.5 246.5h8m-4-4v8M601.5 274.5h8m-4-4v8M521.5 291.5h8m-4-4v8M629.5 270.5h8m-4-4v8M801.5 305.5h8m-4-4v8M200.5 285.5h8m-4-4v8M726.5 264.5h8m-4-4v8M441.5 253.5h8m-4-4v8M313.5 240.5h8m-4-4v8M416.5 272.5h8m-4-4v8M564.5 288.5h8m-4-4v8M689.5 255.5h8m-4-4v8M580.5 264.5h8m-4-4v8M174.5 282.5h8m-4-4v8M802.5 309.5h8m-4-4v8M909.5 302.5h8m-4-4v8M167.5 273.5h8m-4-4v8M295.5 254.5h8m-4-4v8M233.5 265.5h8m-4-4v8M836.5 322.5h8m-4-4v8M894.5 305.5h8m-4-4v8M103.5 259.5h8m-4-4v8M371.5 263.5h8m-4-4v8M250.5 247.5h8m-4-4v8M501.5 295.5h8m-4-4v8M906.5 305.5h8m-4-4v8M230.5 261.5h8m-4-4v8M517.5 307.5h8m-4-4v8M551.5 260.5h8m-4-4v8M469.5 263.5h8m-4-4v8M204.5 256.5h8m-4-4v8M396.5 257.5h8m-4-4v8M980.5 292.5h8m-4-4v8M184.5 283.5h8m-4-4v8M793.5 306.5h8m-4-4v8M352.5 240.5h8m-4-4v8M768.5 280.5h8m-4-4v8M860.5 312.5h8m-4-4v8M222.5 251.5h8m-4-4v8M488.5 303.5h8m-4-4v8M664.5 254.5h8m-4-4v8M538.5 304.5h8m-4-4v8M225.5 266.5h8m-4-4v8M203.5 289.5h8m-4-4v8M328.5 245.5h8m-4-4v8M113.5 270.5h8m-4-4v8M269.5 239.5h8m-4-4v8M196.5 295.5h8m-4-4v8M496.5 286.5h8m-4-4v8M400.5 271.5h8m-4-4v8M324.5 240.5h8m-4-4v8M95.5 262.5h8m-4-4v8M370.5 244.5h8m-4-4v8M744.5 283.5h8m-4-4v8M300.5 223.5h8m-4-4v8M442.5 283.5h8m-4-4v8M744.5 287.5h8m-4-4v8M444.5 257.5h8m-4-4v8M874.5 301.5h8m-4-4v8M902.5 315.5h8m-4-4v8M351.5 265.5h8m-4-4v8M728.5 250.5h8m-4-4v8M298.5 246.5h8m-4-4v8M203.5 287.5h8m-4-4v8M926.5 323.5h8m-4-4v8M208.5 258.5h8m-4-4v8M709.5 280.5h8m-4-4v8M506.5 309.5h8m-4-4v8M971.5 292.5h8m-4-4v8M696.5 279.5h8m-4-4v8M195.5 286.5h8m-4-4v8M890.5 302.5h8m-4-4v8M169.5 280.5h8m-4-4v8M156.5 295.5h8m-4-4v8M371.5 248.5h8m-4-4v8M930.5 320.5h8m-4-4v8M93.5 263.5h8m-4-4v8M902.5 315.5h8m-4-4v8M131.5 254.5h8m-4-4v8M589.5 263.5h8m-4-4v8M491.5 282.5h8m-4-4v8M585.5 270.5h8m-4-4v8M729.5 255.5h8m-4-4v8M990.5 328.5h8m-4-4v8M217.5 270.5h8m-4-4v8M797.5 285.5h8m-4-4v8M447.5 256.5h8m-4-4v8M770.5 286.5h8m-4-4v8M877.5 322.5h8m-4-4v8M987.5 335.5h8m-4-4v8M309.5 251.5h8m-4-4v8M485.5 287.5h8m-4-4v8M937.5 318.5h8m-4-4v8M941.5 314.5h8m-4-4v8M416.5 273.5h8m-4-4v8M933.5 317.5h8m-4-4v8M443.5 260.5h8m-4-4v8M418.5 264.5h8m-4-4v8M745.5 267.5h8m-4-4v8M502.5 288.5h8m-4-4v8M480.5 297.5h8m-4-4v8M428.5 265.5h8m-4-4v8M465.5 251.5h8m-4-4v8M743.5 274.5h8m-4-4v8M585.5 266.5h8m-4-4v8M788.5 295.5h8m-4-4v8M281.5 249.5h8m-4-4v8M284.5 240.5h8m-4-4v8M321.5 247.5h8m-4-4v8M345.5 262.5h8m-4-4v8M749.5 270.5h8m-4-4v8M418.5 266.5h8m-4-4v8M363.5 266.5h8m-4-4v8M644.5 281.5h8m-4-4v8M245.5 245.5h8m-4-4v8M173.5 272.5h8m-4-4v8M697.5 244.5h8m-4-4v8M745.5 285.5h8m-4-4v8M339.5 260.5h8m-4-4v8M644.5 260.5h8m-4-4v8M95.5 280.5h8m-4-4v8M442.5 286.5h8m-4-4v8M597.5 267.5h8m-4-4v8M298.5 228.5h8m-4-4v8M390.5 261.5h8m-4-4v8M620.5 269.5h8m-4-4v8M607.5 281.5h8m-4-4v8M214.5 281.5h8m-4-4v8M705.5 253.5h8m-4-4v8M144.5 284.5h8m-4-4v8M967.5 291.5h8m-4-4v8M257.5 241.5h8m-4-4v8M298.5 230.5h8m-4-4v8M256.5 236.5h8m-4-4v8M987.5 306.5h8m-4-4v8M329.5 234.5h8m-4-4v8M617.5 274.5h8m-4-4v8M986.5 322.5h8m-4-4v8M947.5 307.5h8m-4-4v8M102.5 272.5h8m-4-4v8M549.5 274.5h8m-4-4v8M701.5 252.5h8m-4-4v8M375.5 251.5h8m-4-4v8M367.5 266.5h8m-4-4v8M61.5 270.5h8m-4-4v8M96.5 274.5h8m-4-4v8M572.5 263.5h8m-4-4v8M140.5 255.5h8m-4-4v8M257.5 270.5h8m-4-4v8M372.5 272.5h8m-4-4v8M135.5 257.5h8m-4-4v8M91.5 264.5h8m-4-4v8M913.5 312.5h8m-4-4v8M467.5 261.5h8m-4-4v8M259.5 234.5h8m-4-4v8M706.5 253.5h8m-4-4v8M292.5 232.5h8m-4-4v8M957.5 296.5h8m-4-4v8M883.5 292.5h8m-4-4v8M644.5 270.5h8m-4-4v8M157.5 293.5h8m-4-4v8M358.5 247.5h8m-4-4v8M88.5 271.5h8m-4-4v8M271.5 231.5h8m-4-4v8M85.5 254.5h8m-4-4v8M193.5 283.5h8m-4-4v8M642.5 248.5h8m-4-4v8M166.5 283.5h8m-4-4v8M216.5 267.5h8m-4-4v8M887.5 290.5h8m-4-4v8M375.5 268.5h8m-4-4v8M372.5 265.5h8m-4-4v8M150.5 288.5h8m-4-4v8M782.5 293.5h8m-4-4v8M680.5 260.5h8m-4-4v8M569.5 283.5h8m-4-4v8M166.5 287.5h8m-4-4v8M303.5 244.5h8m-4-4v8M601.5 261.5h8m-4-4v8M949.5 324.5h8m-4-4v8M801.5 298.5h8m-4-4v8M647.5 256.5h8m-4-4v8M547.5 283.5h8m-4-4v8M877.5 315.5h8m-4-4v8M131.5 253.5h8m-4-4v8M195.5 267.5h8m-4-4v8M694.5 268.5h8m-4-4v8M797.5 312.5h8m-4-4v8M773.5 286.5h8m-4-4v8M485.5 294.5h8m-4-4v8M236.5 246.5h8m-4-4v8M96.5 256.5h8m-4-4v8M839.5 325.5h8m-4-4v8M977.5 297.5h8m-4-4v8M291.5 236.5h8m-4-4v8M855.5 323.5h8m-4-4v8M441.5 272.5h8m-4-4v8M352.5 265.5h8m-4-4v8M535.5 304.5h8m-4-4v8M65.5 258.5h8m-4-4v8M255.5 263.5h8m-4-4v8M709.5 245.5h8m-4-4v8M532.5 314.5h8m-4-4v8M858.5 321.5h8m-4-4v8M882.5 323.5h8m-4-4v8M357.5 268.5h8m-4-4v8M324.5 225.5h8m-4-4v8M931.5 305.5h8m-4-4v8M534.5 310.5h8m-4-4v8M105.5 284.5h8m-4-4v8M986.5 337.5h8m-4-4v8M598.5 280.5h8m-4-4v8M116.5 268.5h8m-4-4v8M541.5 293.5h8m-4-4v8M534.5 312.5h8m-4-4v8M467.5 274.5h8m-4-4v8M948.5 301.5h8m-4-4v8M945.5 319.5h8m-4-4v8M192.5 272.5h8m-4-4v8M212.5 255.5h8m-4-4v8M444.5 263.5h8m-4-4v8M819.5 320.5h8m-4-4v8M634.5 280.5h8m-4-4v8M723.5 257.5h8m-4-4v8M595.5 282.5h8m-4-4v8M263.5 251.5h8m-4-4v8M802.5 294.5h8m-4-4v8M72.5 253.5h8m-4-4v8M698.5 268.5h8m-4-4v8M251.5 246.5h8m-4-4v8M502.5 297.5h8m-4-4v8M974.5 295.5h8m-4-4v8M119.5 254.5h8m-4-4v8M462.5 260.5h8m-4-4v8M663.5 271.5h8m-4-4v8M118.5 273.5h8m-4-4v8M297.5 243.5h8m-4-4v8M77.5 258.5h8m-4-4v8M563.5 269.5h8m-4-4v8M424.5 271.5h8m-4-4v8M534.5 313.5h8m-4-4v8M338.5 246.5h8m-4-4v8M232.5 252.5h8m-4-4v8M891.5 318.5h8m-4-4v8M957.5 293.5h8m-4-4v8M523.5 297.5h8m-4-4v8M497.5 292.5h8m-4-4v8M848.5 322.5h8m-4-4v8M332.5 252.5h8m-4-4v8M788.5 301.5h8m-4-4v8M330.5 268.5h8m-4-4v8M715.5 270.5h8m-4-4v8M373.5 243.5h8m-4-4v8M616.5 241.5h8m-4-4v8M912.5 319.5h8m-4-4v8M115.5 263.5h8m-4-4v8M792.5 293.5h8m-4-4v8M564.5 286.5h8m-4-4v8M392.5 261.5h8m-4-4v8M134.5 259.5h8m-4-4v8M302.5 218.5h8m-4-4v8M633.5 261.5h8m-4-4v8M162.5 272.5h8m-4-4v8M672.5 265.5h8m-4-4v8M959.5 316.5h8m-4-4v8M979.5 293.5h8m-4-4v8M875.5 308.5h8m-4-4v8M792.5 297.5h8m-4-4v8M968.5 315.5h8m-4-4v8M257.5 259.5h8m-4-4v8M858.5 320.5h8m-4-4v8M867.5 322.5h8m-4-4v8M632.5 271.5h8m-4-4v8M549.5 290.5h8m-4-4v8M256.5 268.5h8m-4-4v8M547.5 268.5h8m-4-4v8M333.5 258.5h8m-4-4v8M193.5 271.5h8m-4-4v8M195.5 262.5h8m-4-4v8M787.5 287.5h8m-4-4v8M907.5 314.5h8m-4-4v8M205.5 273.5h8m-4-4v8M71.5 260.5h8m-4-4v8M307.5 238.5h8m-4-4v8M199.5 274.5h8m-4-4v8M247.5 241.5h8m-4-4v8M462.5 267.5h8m-4-4v8M260.5 256.5h8m-4-4v8M667.5 262.5h8m-4-4v8M332.5 264.5h8m-4-4v8M438.5 267.5h8m-4-4v8M495.5 301.5h8m-4-4v8M889.5 312.5h8m-4-4v8M293.5 231.5h8m-4-4v8M714.5 249.5h8m-4-4v8M350.5 271.5h8m-4-4v8M880.5 319.5h8m-4-4v8M434.5 265.5h8m-4-4v8M535.5 296.5h8m-4-4v8M866.5 327.5h8m-4-4v8M676.5 274.5h8m-4-4v8M201.5 288.5h8m-4-4v8M986.5 306.5h8m-4-4v8M89.5 273.5h8m-4-4v8M343.5 243.5h8m-4-4v8M955.5 321.5h8m-4-4v8M73.5 260.5h8m-4-4v8M221.5 280.5h8m-4-4v8M266.5 239.5h8m-4-4v8M150.5 274.5h8m-4-4v8M503.5 288.5h8m-4-4v8M609.5 269.5h8m-4-4v8M359.5 247.5h8m-4-4v8M176.5 289.5h8m-4-4v8M795.5 301.5h8m-4-4v8M790.5 301.5h8m-4-4v8M583.5 273.5h8m-4-4v8M202.5 270.5h8m-4-4v8M564.5 265.5h8m-4-4v8M639.5 266.5h8m-4-4v8M461.5 269.5h8m-4-4v8M853.5 311.5h8m-4-4v8M431.5 272.5h8m-4-4v8M541.5 284.5h8m-4-4v8M182.5 280.5h8m-4-4v8M584.5 268.5h8m-4-4v8M754.5 273.5h8m-4-4v8M724.5 273.5h8m-4-4v8M301.5 215.5h8m-4-4v8M987.5 311.5h8m-4-4v8M715.5 246.5h8m-4-4v8M457.5 262.5h8m-4-4v8M766.5 286.5h8m-4-4v8M235.5 270.5h8m-4-4v8M714.5 255.5h8m-4-4v8M545.5 281.5h8m-4-4v8M862.5 307.5h8m-4-4v8M500.5 291.5h8m-4-4v8M496.5 300.5h8m-4-4v8M328.5 250.5h8m-4-4v8M903.5 315.5h8m-4-4v8M357.5 257.5h8m-4-4v8M696.5 242.5h8m-4-4v8M446.5 274.5h8m-4-4v8M926.5 321.5h8m-4-4v8M944.5 323.5h8m-4-4v8M90.5 251.5h8m-4-4v8M988.5 308.5h8m-4-4v8M617.5 260.5h8m-4-4v8M138.5 274.5h8m-4-4v8M527.5 310.5h8m-4-4v8M109.5 258.5h8m-4-4v8M571.5 290.5h8m-4-4v8M244.5 257.5h8m-4-4v8M412.5 286.5h8m-4-4v8M346.5 266.5h8m-4-4v8M615.5 256.5h8m-4-4v8M806.5 316.5h8m-4-4v8M928.5 313.5h8m-4-4v8M368.5 244.5h8m-4-4v8M590.5 260.5h8m-4-4v8M62.5 264.5h8m-4-4v8M416.5 280.5h8m-4-4v8M957.5 299.5h8m-4-4v8M187.5 295.5h8m-4-4v8M859.5 310.5h8m-4-4v8M656.5 281.5h8m-4-4v8M336.5 262.5h8m-4-4v8M765.5 289.5h8m-4-4v8M332.5 252.5h8m-4-4v8M880.5 308.5h8m-4-4v8M147.5 270.5h8m-4-4v8M187.5 281.5h8m-4-4v8M740.5 286.5h8m-4-4v8M481.5 297.5h8m-4-4v8M209.5 283.5h8m-4-4v8M543.5 288.5h8m-4-4v8M339.5 249.5h8m-4-4v8M571.5 280.5h8m-4-4v8M735.5 288.5h8m-4-4v8M845.5 323.5h8m-4-4v8M121.5 257.5h8m-4-4v8M982.5 328.5h8m-4-4v8M492.5 303.5h8m-4-4v8M757.5 283.5h8m-4-4v8M162.5 289.5h8m-4-4v8M863.5 319.5h8m-4-4v8M600.5 265.5h8m-4-4v8M875.5 316.5h8m-4-4v8M773.5 282.5h8m-4-4v8M858.5 307.5h8m-4-4v8M119.5 274.5h8m-4-4v8M253.5 240.5h8m-4-4v8M309.5 247.5h8m-4-4v8M364.5 260.5h8m-4-4v8M608.5 259.5h8m-4-4v8M637.5 262.5h8m-4-4v8M920.5 306.5h8m-4-4v8M70.5 262.5h8m-4-4v8M250.5 246.5h8m-4-4v8M406.5 272.5h8m-4-4v8M802.5 314.5h8m-4-4v8M572.5 271.5h8m-4-4v8M542.5 286.5h8m-4-4v8M748.5 270.5h8m-4-4v8M658.5 249.5h8m-4-4v8M332.5 246.5h8m-4-4v8M151.5 269.5h8m-4-4v8M494.5 307.5h8m-4-4v8M868.5 313.5h8m-4-4v8M114.5 273.5h8m-4-4v8M471.5 264.5h8m-4-4v8M427.5 258.5h8m-4-4v8M600.5 253.5h8m-4-4v8M948.5 313.5h8m-4-4v8M377.5 269.5h8m-4-4v8M445.5 274.5h8m-4-4v8M624.5 258.5h8m-4-4v8M873.5 308.5h8m-4-4v8M704.5 258.5h8m-4-4v8M502.5 284.5h8m-4-4v8M799.5 285.5h8m-4-4v8M515.5 307.5h8m-4-4v8M960.5 308.5h8m-4-4v8M326.5 239.5h8m-4-4v8M194.5 263.5h8m-4-4v8M815.5 302.5h8m-4-4v8M339.5 254.5h8m-4-4v8M834.5 322.5h8m-4-4v8M620.5 261.5h8m-4-4v8M539.5 305.5h8m-4-4v8M773.5 288.5h8m-4-4v8M130.5 270.5h8m-4-4v8M962.5 301.5h8m-4-4v8M866.5 314.5h8m-4-4v8M345.5 241.5h8m-4-4v8M194.5 262.5h8m-4-4v8M872.5 317.5h8m-4-4v8M510.5 285.5h8m-4-4v8M192.5 267.5h8m-4-4v8M528.5 300.5h8m-4-4v8M293.5 252.5h8m-4-4v8M445.5 288.5h8m-4-4v8M899.5 304.5h8m-4-4v8M220.5 263.5h8m-4-4v8M508.5 283.5h8m-4-4v8M521.5 294.5h8m-4-4v8M985.5 324.5h8m-4-4v8M151.5 283.5h8m-4-4v8M541.5 310.5h8m-4-4v8M898.5 302.5h8m-4-4v8M438.5 265.5h8m-4-4v8M305.5 244.5h8m-4-4v8M578.5 270.5h8m-4-4v8M360.5 246.5h8m-4-4v8M914.5 323.5h8m-4-4v8M148.5 272.5h8m-4-4v8M260.5 265.5h8m-4-4v8M148.5 273.5h8m-4-4v8M336.5 268.5h8m-4-4v8M885.5 299.5h8m-4-4v8M879.5 291.5h8m-4-4v8M927.5 317.5h8m-4-4v8M300.5 227.5h8m-4-4v8M56.5 259.5h8m-4-4v8M959.5 301.5h8m-4-4v8M751.5 262.5h8m-4-4v8M122.5 273.5h8m-4-4v8M702.5 273.5h8m-4-4v8M901.5 317.5h8m-4-4v8M965.5 298.5h8m-4-4v8M712.5 281.5h8m-4-4v8M852.5 318.5h8m-4-4v8M827.5 308.5h8m-4-4v8M402.5 254.5h8m-4-4v8M164.5 292.5h8m-4-4v8M721.5 270.5h8m-4-4v8M201.5 293.5h8m-4-4v8M426.5 255.5h8m-4-4v8M989.5 292.5h8m-4-4v8M581.5 289.5h8m-4-4v8M549.5 267.5h8m-4-4v8M944.5 310.5h8m-4-4v8M327.5 230.5h8m-4-4v8M991.5 314.5h8m-4-4v8M896.5 297.5h8m-4-4v8M408.5 255.5h8m-4-4v8M367.5 271.5h8m-4-4v8M193.5 264.5h8m-4-4v8M899.5 304.5h8m-4-4v8M244.5 249.5h8m-4-4v8M66.5 272.5h8m-4-4v8M876.5 318.5h8m-4-4v8M612.5 281.5h8m-4-4v8M675.5 266.5h8m-4-4v8M725.5 273.5h8m-4-4v8M102.5 283.5h8m-4-4v8M156.5 292.5h8m-4-4v8M530.5 290.5h8m-4-4v8M110.5 267.5h8m-4-4v8M534.5 304.5h8m-4-4v8M728.5 259.5h8m-4-4v8M105.5 280.5h8m-4-4v8M286.5 250.5h8m-4-4v8M882.5 304.5h8m-4-4v8M191.5 266.5h8m-4-4v8M557.5 261.5h8m-4-4v8M110.5 268.5h8m-4-4v8M931.5 323.5h8m-4-4v8M231.5 255.5h8m-4-4v8M446.5 281.5h8m-4-4v8M569.5 269.5h8m-4-4v8M714.5 265.5h8m-4-4v8M929.5 322.5h8m-4-4v8M728.5 264.5h8m-4-4v8M388.5 254.5h8m-4-4v8M140.5 264.5h8m-4-4v8M705.5 272.5h8m-4-4v8M970.5 305.5h8m-4-4v8M75.5 267.5h8m-4-4v8M762.5 270.5h8m-4-4v8M235.5 271.5h8m-4-4v8M492.5 306.5h8m-4-4v8M550.5 274.5h8m-4-4v8M624.5 262.5h8m-4-4v8M985.5 319.5h8m-4-4v8M690.5 272.5h8m-4-4v8M433.5 268.5h8m-4-4v8M711.5 265.5h8m-4-4v8M498.5 305.5h8m-4-4v8M449.5 284.5h8m-4-4v8M410.5 256.5h8m-4-4v8M523.5 307.5h8m-4-4v8M324.5 227.5h8m-4-4v8M290.5 225.5h8m-4-4v8M471.5 259.5h8m-4-4v8M336.5 262.5h8m-4-4v8M822.5 319.5h8m-4-4v8M834.5 320.5h8m-4-4v8M384.5 268.5h8m-4-4v8M887.5 306.5h8m-4-4v8M576.5 273.5h8m-4-4v8M474.5 267.5h8m-4-4v8M655.5 262.5h8m-4-4v8M956.5 308.5h8m-4-4v8M202.5 267.5h8m-4-4v8M962.5 316.5h8m-4-4v8M668.5 264.5h8m-4-4v8M643.5 266.5h8m-4-4v8M859.5 308.5h8m-4-4v8M366.5 261.5h8m-4-4v8M706.5 254.5h8m-4-4v8M307.5 232.5h8m-4-4v8M539.5 303.5h8m-4-4v8M685.5 271.5h8m-4-4v8M256.5 235.5h8m-4-4v8M124.5 265.5h8m-4-4v8M777.5 288.5h8m-4-4v8M794.5 289.5h8m-4-4v8M668.5 266.5h8m-4-4v8M361.5 259.5h8m-4-4v8M148.5 285.5h8m-4-4v8M595.5 271.5h8m-4-4v8M627.5 266.5h8m-4-4v8M478.5 291.5h8m-4-4v8M277.5 235.5h8m-4-4v8M719.5 242.5h8m-4-4v8M496.5 284.5h8m-4-4v8M736.5 258.5h8m-4-4v8M409.5 267.5h8m-4-4v8M565.5 290.5h8m-4-4v8M633.5 284.5h8m-4-4v8M906.5 319.5h8m-4-4v8M874.5 317.5h8m-4-4v8M119.5 257.5h8m-4-4v8M759.5 266.5h8m-4-4v8M304.5 247.5h8m-4-4v8M697.5 271.5h8m-4-4v8M422.5 256.5h8m-4-4v8M362.5 253.5h8m-4-4v8M518.5 293.5h8m-4-4v8M555.5 274.5h8m-4-4v8M695.5 259.5h8m-4-4v8M645.5 263.5h8m-4-4v8M682.5 270.5h8m-4-4v8M426.5 281.5h8m-4-4v8M386.5 260.5h8m-4-4v8M619.5 258.5h8m-4-4v8M491.5 307.5h8m-4-4v8M584.5 258.5h8m-4-4v8M76.5 271.5h8m-4-4v8M528.5 287.5h8m-4-4v8M272.5 240.5h8m-4-4v8M428.5 287.5h8m-4-4v8M138.5 263.5h8m-4-4v8M660.5 248.5h8m-4-4v8M879.5 294.5h8m-4-4v8M397.5 273.5h8m-4-4v8M171.5 282.5h8m-4-4v8M630.5 269.5h8m-4-4v8M194.5 292.5h8m-4-4v8M877.5 320.5h8m-4-4v8M190.5 271.5h8m-4-4v8M406.5 256.5h8m-4-4v8M524.5 313.5h8m-4-4v8M359.5 254.5h8m-4-4v8M318.5 228.5h8m-4-4v8M710.5 259.5h8m-4-4v8M983.5 332.5h8m-4-4v8M407.5 281.5h8m-4-4v8M598.5 256.5h8m-4-4v8M465.5 269.5h8m-4-4v8M331.5 263.5h8m-4-4v8M805.5 295.5h8m-4-4v8M199.5 261.5h8m-4-4v8M335.5 250.5h8m-4-4v8M803.5 305.5h8m-4-4v8M987.5 306.5h8m-4-4v8M622.5 257.5h8m-4-4v8M861.5 311.5h8m-4-4v8M982.5 323.5h8m-4-4v8M732.5 268.5h8m-4-4v8M650.5 267.5h8m-4-4v8M273.5 239.5h8m-4-4v8M633.5 258.5h8m-4-4v8M913.5 303.5h8m-4-4v8M344.5 246.5h8m-4-4v8M435.5 281.5h8m-4-4v8M81.5 255.5h8m-4-4v8M697.5 257.5h8m-4-4v8M474.5 292.5h8m-4-4v8M783.5 280.5h8m-4-4v8M284.5 227.5h8m-4-4v8M662.5 258.5h8m-4-4v8M676.5 268.5h8m-4-4v8M496.5 310.5h8m-4-4v8M247.5 241.5h8m-4-4v8M441.5 270.5h8m-4-4v8M736.5 257.5h8m-4-4v8M154.5 280.5h8m-4-4v8M494.5 302.5h8m-4-4v8M284.5 231.5h8m-4-4v8M786.5 289.5h8m-4-4v8M801.5 309.5h8m-4-4v8M940.5 305.5h8m-4-4v8M825.5 304.5h8m-4-4v8M652.5 255.5h8m-4-4v8M245.5 271.5h8m-4-4v8M807.5 315.5h8m-4-4v8M721.5 271.5h8m-4-4v8M738.5 266.5h8m-4-4v8M698.5 253.5h8m-4-4v8M814.5 315.5h8m-4-4v8M340.5 254.5h8m-4-4v8M675.5 263.5h8m-4-4v8M546.5 305.5h8m-4-4v8M377.5 253.5h8m-4-4v8M366.5 266.5h8m-4-4v8M216.5 256.5h8m-4-4v8M521.5 314.5h8m-4-4v8M413.5 263.5h8m-4-4v8M456.5 283.5h8m-4-4v8M839.5 322.5h8m-4-4v8M684.5 270.5h8m-4-4v8M982.5 294.5h8m-4-4v8M270.5 244.5h8m-4-4v8M538.5 313.5h8m-4-4v8M156.5 272.5h8m-4-4v8M433.5 271.5h8m-4-4v8M947.5 314.5h8m-4-4v8M746.5 261.5h8m-4-4v8M854.5 312.5h8m-4-4v8M539.5 287.5h8m-4-4v8M783.5 281.5h8m-4-4v8M472.5 256.5h8m-4-4v8M396.5 267.5h8m-4-4v8M536.5 311.5h8m-4-4v8M251.5 245.5h8m-4-4v8M349.5 241.5h8m-4-4v8M347.5 252.5h8m-4-4v8M985.5 294.5h8m-4-4v8M374.5 256.5h8m-4-4v8M280.5 237.5h8m-4-4v8M932.5 315.5h8m-4-4v8M202.5 284.5h8m-4-4v8M963.5 313.5h8m-4-4v8M841.5 323.5h8m-4-4v8M461.5 286.5h8m-4-4v8M253.5 251.5h8m-4-4v8M391.5 260.5h8m-4-4v8M909.5 319.5h8m-4-4v8M560.5 259.5h8m-4-4v8M986.5 315.5h8m-4-4v8M716.5 245.5h8m-4-4v8M208.5 274.5h8m-4-4v8M575.5 290.5h8m-4-4v8M219.5 261.5h8m-4-4v8M938.5 317.5h8m-4-4v8M377.5 264.5h8m-4-4v8M247.5 246.5h8m-4-4v8M167.5 285.5h8m-4-4v8M656.5 245.5h8m-4-4v8M493.5 292.5h8m-4-4v8M69.5 251.5h8m-4-4v8M711.5 280.5h8m-4-4v8M300.5 227.5h8m-4-4v8M767.5 274.5h8m-4-4v8M518.5 314.5h8m-4-4v8M559.5 269.5h8m-4-4v8M489.5 295.5h8m-4-4v8M985.5 315.5h8m-4-4v8M783.5 285.5h8m-4-4v8M134.5 270.5h8m-4-4v8M524.5 295.5h8m-4-4v8M284.5 226.5h8m-4-4v8M168.5 290.5h8m-4-4v8M252.5 256.5h8m-4-4v8M294.5 254.5h8m-4-4v8M956.5 307.5h8m-4-4v8M736.5 287.5h8m-4-4v8M840.5 305.5h8m-4-4v8M699.5 241.5h8m-4-4v8M356.5 251.5h8m-4-4v8M432.5 283.5h8m-4-4v8M472.5 271.5h8m-4-4v8M336.5 260.5h8m-4-4v8M456.5 262.5h8m-4-4v8M758.5 272.5h8m-4-4v8M140.5 265.5h8m-4-4v8M320.5 232.5h8m-4-4v8M509.5 283.5h8m-4-4v8M680.5 272.5h8m-4-4v8M651.5 255.5h8m-4-4v8M172.5 287.5h8m-4-4v8M240.5 250.5h8m-4-4v8M350.5 249.5h8m-4-4v8M325.5 230.5h8m-4-4v8M745.5 281.5h8m-4-4v8M988.5 302.5h8m-4-4v8M686.5 266.5h8m-4-4v8M94.5 263.5h8m-4-4v8M340.5 252.5h8m-4-4v8M788.5 303.5h8m-4-4v8M910.5 313.5h8m-4-4v8M610.5 255.5h8m-4-4v8M390.5 253.5h8m-4-4v8M398.5 257.5h8m-4-4v8M642.5 252.5h8m-4-4v8M853.5 322.5h8m-4-4v8M381.5 266.5h8m-4-4v8M248.5 262.5h8m-4-4v8M59.5 269.5h8m-4-4v8M202.5 284.5h8m-4-4v8M838.5 318.5h8m-4-4v8M634.5 262.5h8m-4-4v8M986.5 321.5h8m-4-4v8M134.5 252.5h8m-4-4v8M410.5 269.5h8m-4-4v8M664.5 273.5h8m-4-4v8M131.5 268.5h8m-4-4v8M440.5 262.5h8m-4-4v8M645.5 267.5h8m-4-4v8M690.5 269.5h8m-4-4v8M484.5 292.5h8m-4-4v8M246.5 250.5h8m-4-4v8M963.5 292.5h8m-4-4v8M498.5 309.5h8m-4-4v8M713.5 246.5h8m-4-4v8M559.5 260.5h8m-4-4v8M145.5 282.5h8m-4-4v8M286.5 220.5h8m-4-4v8M126.5 255.5h8m-4-4v8M248.5 253.5h8m-4-4v8M255.5 240.5h8m-4-4v8M450.5 250.5h8m-4-4v8M361.5 265.5h8m-4-4v8M407.5 258.5h8m-4-4v8M801.5 312.5h8m-4-4v8M80.5 252.5h8m-4-4v8M792.5 296.5h8m-4-4v8M558.5 255.5h8m-4-4v8M470.5 270.5h8m-4-4v8M310.5 238.5h8m-4-4v8M273.5 261.5h8m-4-4v8M847.5 315.5h8m-4-4v8M808.5 317.5h8m-4-4v8M362.5 246.5h8m-4-4v8M84.5 268.5h8m-4-4v8M874.5 306.5h8m-4-4v8M341.5 265.5h8m-4-4v8M660.5 265.5h8m-4-4v8M846.5 327.5h8m-4-4v8M851.5 311.5h8m-4-4v8M519.5 302.5h8m-4-4v8M828.5 317.5h8m-4-4v8M493.5 291.5h8m-4-4v8M307.5 247.5h8m-4-4v8M511.5 295.5h8m-4-4v8M374.5 271.5h8m-4-4v8M754.5 287.5h8m-4-4v8M816.5 297.5h8m-4-4v8M426.5 254.5h8m-4-4v8M495.5 304.5h8m-4-4v8M953.5 312.5h8m-4-4v8M935.5 314.5h8m-4-4v8M964.5 296.5h8m-4-4v8M722.5 271.5h8m-4-4v8M681.5 258.5h8m-4-4v8M313.5 229.5h8m-4-4v8M416.5 266.5h8m-4-4v8M818.5 307.5h8m-4-4v8M319.5 228.5h8m-4-4v8M143.5 269.5h8m-4-4v8M356.5 265.5h8m-4-4v8M363.5 260.5h8m-4-4v8M718.5 270.5h8m-4-4v8M62.5 272.5h8m-4-4v8M281.5 238.5h8m-4-4v8M882.5 301.5h8m-4-4v8M843.5 327.5h8m-4-4v8M638.5 263.5h8m-4-4v8M274.5 258.5h8m-4-4v8M864.5 320.5h8m-4-4v8M749.5 284.5h8m-4-4v8M543.5 274.5h8m-4-4v8M220.5 270.5h8m-4-4v8M268.5 248.5h8m-4-4v8M422.5 268.5h8m-4-4v8M370.5 250.5h8m-4-4v8M124.5 261.5h8m-4-4v8M444.5 281.5h8m-4-4v8M480.5 289.5h8m-4-4v8M330.5 241.5h8m-4-4v8M371.5 267.5h8m-4-4v8M420.5 269.5h8m-4-4v8M629.5 262.5h8m-4-4v8M527.5 308.5h8m-4-4v8M254.5 263.5h8m-4-4v8M781.5 294.5h8m-4-4v8M543.5 274.5h8m-4-4v8M490.5 282.5h8m-4-4v8M710.5 281.5h8m-4-4v8M742.5 274.5h8m-4-4v8M836.5 310.5h8m-4-4v8M796.5 280.5h8m-4-4v8M672.5 267.5h8m-4-4v8M716.5 254.5h8m-4-4v8M217.5 255.5h8m-4-4v8M699.5 266.5h8m-4-4v8M299.5 221.5h8m-4-4v8M302.5 251.5h8m-4-4v8M188.5 271.5h8m-4-4v8M436.5 284.5h8m-4-4v8M78.5 260.5h8m-4-4v8M660.5 257.5h8m-4-4v8M739.5 283.5h8m-4-4v8M763.5 280.5h8m-4-4v8M195.5 262.5h8m-4-4v8M824.5 313.5h8m-4-4v8M96.5 270.5h8m-4-4v8M250.5 252.5h8m-4-4v8M311.5 248.5h8m-4-4v8M494.5 299.5h8m-4-4v8M231.5 251.5h8m-4-4v8M562.5 287.5h8m-4-4v8M384.5 262.5h8m-4-4v8M658.5 255.5h8m-4-4v8M556.5 253.5h8m-4-4v8M689.5 243.5h8m-4-4v8M293.5 218.5h8m-4-4v8M705.5 252.5h8m-4-4v8M727.5 265.5h8m-4-4v8M717.5 250.5h8m-4-4v8M133.5 271.5h8m-4-4v8M941.5 314.5h8m-4-4v8M596.5 267.5h8m-4-4v8M315.5 236.5h8m-4-4v8M466.5 259.5h8m-4-4v8M546.5 285.5h8m-4-4v8M546.5 272.5h8m-4-4v8M294.5 226.5h8m-4-4v8M308.5 237.5h8m-4-4v8M408.5 273.5h8m-4-4v8M99.5 265.5h8m-4-4v8M484.5 305.5h8m-4-4v8M256.5 239.5h8m-4-4v8M70.5 266.5h8m-4-4v8M976.5 300.5h8m-4-4v8M336.5 255.5h8m-4-4v8M561.5 258.5h8m-4-4v8M402.5 259.5h8m-4-4v8M114.5 257.5h8m-4-4v8M886.5 312.5h8m-4-4v8M926.5 319.5h8m-4-4v8M245.5 269.5h8m-4-4v8M453.5 283.5h8m-4-4v8M417.5 267.5h8m-4-4v8M226.5 269.5h8m-4-4v8M664.5 282.5h8m-4-4v8M768.5 283.5h8m-4-4v8M748.5 270.5h8m-4-4v8M679.5 271.5h8m-4-4v8M76.5 251.5h8m-4-4v8M281.5 257.5h8m-4-4v8M544.5 285.5h8m-4-4v8M702.5 271.5h8m-4-4v8M428.5 256.5h8m-4-4v8M481.5 290.5h8m-4-4v8M826.5 314.5h8m-4-4v8M83.5 271.5h8m-4-4v8M311.5 241.5h8m-4-4v8M333.5 261.5h8m-4-4v8M987.5 335.5h8m-4-4v8M279.5 238.5h8m-4-4v8M106.5 269.5h8m-4-4v8M452.5 282.5h8m-4-4v8M654.5 261.5h8m-4-4v8M214.5 271.5h8m-4-4v8M825.5 312.5h8m-4-4v8M703.5 269.5h8m-4-4v8M869.5 292.5h8m-4-4v8M256.5 249.5h8m-4-4v8M724.5 272.5h8m-4-4v8M824.5 302.5h8m-4-4v8M299.5 244.5h8m-4-4v8M157.5 295.5h8m-4-4v8M529.5 307.5h8m-4-4v8M509.5 291.5h8m-4-4v8M768.5 270.5h8m-4-4v8M495.5 311.5h8m-4-4v8M527.5 298.5h8m-4-4v8M517.5 314.5h8m-4-4v8M487.5 299.5h8m-4-4v8M443.5 286.5h8m-4-4v8M220.5 250.5h8m-4-4v8M338.5 266.5h8m-4-4v8M308.5 245.5h8m-4-4v8M294.5 236.5h8m-4-4v8M769.5 272.5h8m-4-4v8M182.5 274.5h8m-4-4v8M260.5 267.5h8m-4-4v8M552.5 268.5h8m-4-4v8M353.5 265.5h8m-4-4v8M288.5 257.5h8m-4-4v8M417.5 262.5h8m-4-4v8M532.5 287.5h8m-4-4v8M677.5 253.5h8m-4-4v8M970.5 300.5h8m-4-4v8M840.5 325.5h8m-4-4v8M484.5 295.5h8m-4-4v8M451.5 249.5h8m-4-4v8M288.5 226.5h8m-4-4v8M948.5 302.5h8m-4-4v8M133.5 255.5h8m-4-4v8M259.5 237.5h8m-4-4v8M664.5 253.5h8m-4-4v8M606.5 268.5h8m-4-4v8M322.5 234.5h8m-4-4v8M928.5 310.5h8m-4-4v8M446.5 259.5h8m-4-4v8M877.5 295.5h8m-4-4v8M434.5 259.5h8m-4-4v8M872.5 304.5h8m-4-4v8M940.5 311.5h8m-4-4v8M888.5 297.5h8m-4-4v8M812.5 311.5h8m-4-4v8M284.5 228.5h8m-4-4v8M484.5 303.5h8m-4-4v8M126.5 263.5h8m-4-4v8M957.5 312.5h8m-4-4v8M65.5 256.5h8m-4-4v8M365.5 249.5h8m-4-4v8M258.5 268.5h8m-4-4v8M71.5 263.5h8m-4-4v8M529.5 308.5h8m-4-4v8M140.5 281.5h8m-4-4v8M885.5 313.5h8m-4-4v8M690.5 259.5h8m-4-4v8M414.5 267.5h8m-4-4v8M827.5 300.5h8m-4-4v8M783.5 300.5h8m-4-4v8M366.5 263.5h8m-4-4v8M834.5 304.5h8m-4-4v8M917.5 320.5h8m-4-4v8M630.5 267.5h8m-4-4v8M394.5 269.5h8m-4-4v8M885.5 294.5h8m-4-4v8M937.5 303.5h8m-4-4v8M388.5 269.5h8m-4-4v8M150.5 291.5h8m-4-4v8M857.5 317.5h8m-4-4v8M667.5 281.5h8m-4-4v8M283.5 227.5h8m-4-4v8M587.5 260.5h8m-4-4v8M349.5 272.5h8m-4-4v8M903.5 321.5h8m-4-4v8M382.5 265.5h8m-4-4v8M253.5 249.5h8m-4-4v8M382.5 247.5h8m-4-4v8M985.5 306.5h8m-4-4v8M270.5 259.5h8m-4-4v8M490.5 285.5h8m-4-4v8M970.5 292.5h8m-4-4v8M63.5 263.5h8m-4-4v8M338.5 262.5h8m-4-4v8M805.5 296.5h8m-4-4v8M160.5 292.5h8m-4-4v8M916.5 322.5h8m-4-4v8M819.5 303.5h8m-4-4v8M205.5 267.5h8m-4-4v8M609.5 279.5h8m-4-4v8M695.5 271.5h8m-4-4v8M348.5 250.5h8m-4-4v8M426.5 283.5h8m-4-4v8M289.5 250.5h8m-4-4v8M334.5 266.5h8m-4-4v8M889.5 302.5h8m-4-4v8M874.5 309.5h8m-4-4v8M404.5 273.5h8m-4-4v8M694.5 270.5h8m-4-4v8M520.5 302.5h8m-4-4v8M324.5 226.5h8m-4-4v8M391.5 254.5h8m-4-4v8M962.5 302.5h8m-4-4v8M381.5 267.5h8m-4-4v8M597.5 285.5h8m-4-4v8M940.5 325.5h8m-4-4v8M340.5 252.5h8m-4-4v8M794.5 310.5h8m-4-4v8M726.5 251.5h8m-4-4v8M792.5 307.5h8m-4-4v8M823.5 300.5h8m-4-4v8M974.5 300.5h8m-4-4v8M708.5 274.5h8m-4-4v8M976.5 308.5h8m-4-4v8M322.5 250.5h8m-4-4v8M267.5 246.5h8m-4-4v8M147.5 271.5h8m-4-4v8M715.5 264.5h8m-4-4v8M765.5 282.5h8m-4-4v8M75.5 268.5h8m-4-4v8M936.5 314.5h8m-4-4v8M293.5 242.5h8m-4-4v8M335.5 257.5h8m-4-4v8M817.5 318.5h8m-4-4v8M879.5 296.5h8m-4-4v8M728.5 261.5h8m-4-4v8M372.5 251.5h8m-4-4v8M494.5 308.5h8m-4-4v8M820.5 313.5h8m-4-4v8M401.5 274.5h8m-4-4v8M790.5 294.5h8m-4-4v8M769.5 297.5h8m-4-4v8M500.5 305.5h8m-4-4v8M882.5 320.5h8m-4-4v8M427.5 263.5h8m-4-4v8M740.5 292.5h8m-4-4v8M646.5 256.5h8m-4-4v8M370.5 265.5h8m-4-4v8M618.5 255.5h8m-4-4v8M560.5 257.5h8m-4-4v8M178.5 271.5h8m-4-4v8M986.5 290.5h8m-4-4v8M963.5 304.5h8m-4-4v8M98.5 272.5h8m-4-4v8M939.5 305.5h8m-4-4v8M556.5 253.5h8m-4-4v8M193.5 260.5h8m-4-4v8M804.5 304.5h8m-4-4v8M811.5 306.5h8m-4-4v8M561.5 282.5h8m-4-4v8M109.5 263.5h8m-4-4v8M806.5 290.5h8m-4-4v8M695.5 264.5h8m-4-4v8M894.5 300.5h8m-4-4v8M313.5 235.5h8m-4-4v8M771.5 272.5h8m-4-4v8M862.5 323.5h8m-4-4v8M398.5 271.5h8m-4-4v8M373.5 247.5h8m-4-4v8M62.5 257.5h8m-4-4v8M282.5 232.5h8m-4-4v8M371.5 273.5h8m-4-4v8M175.5 281.5h8m-4-4v8M753.5 260.5h8m-4-4v8M460.5 280.5h8m-4-4v8M588.5 262.5h8m-4-4v8M328.5 230.5h8m-4-4v8M404.5 262.5h8m-4-4v8M743.5 253.5h8m-4-4v8M501.5 295.5h8m-4-4v8M611.5 260.5h8m-4-4v8M457.5 261.5h8m-4-4v8M882.5 317.5h8m-4-4v8M310.5 233.5h8m-4-4v8M547.5 271.5h8m-4-4v8M690.5 266.5h8m-4-4v8M958.5 297.5h8m-4-4v8M528.5 314.5h8m-4-4v8M292.5 222.5h8m-4-4v8M749.5 265.5h8m-4-4v8M799.5 291.5h8m-4-4v8M900.5 313.5h8m-4-4v8M153.5 293.5h8m-4-4v8M553.5 262.5h8m-4-4v8M734.5 283.5h8m-4-4v8M900.5 313.5h8m-4-4v8M648.5 248.5h8m-4-4v8M615.5 249.5h8m-4-4v8M430.5 283.5h8m-4-4v8M591.5 268.5h8m-4-4v8M577.5 266.5h8m-4-4v8M889.5 293.5h8m-4-4v8M811.5 301.5h8m-4-4v8M729.5 272.5h8m-4-4v8M909.5 304.5h8m-4-4v8M130.5 255.5h8m-4-4v8M757.5 287.5h8m-4-4v8M495.5 288.5h8m-4-4v8M742.5 280.5h8m-4-4v8M338.5 267.5h8m-4-4v8M499.5 305.5h8m-4-4v8M809.5 309.5h8m-4-4v8M96.5 265.5h8m-4-4v8M334.5 264.5h8m-4-4v8M518.5 296.5h8m-4-4v8M839.5 323.5h8m-4-4v8M313.5 244.5h8m-4-4v8M807.5 292.5h8m-4-4v8M292.5 213.5h8m-4-4v8M345.5 262.5h8m-4-4v8M657.5 267.5h8m-4-4v8M868.5 319.5h8m-4-4v8M868.5 312.5h8m-4-4v8M296.5 218.5h8m-4-4v8M643.5 256.5h8m-4-4v8M428.5 270.5h8m-4-4v8M763.5 265.5h8m-4-4v8M882.5 323.5h8m-4-4v8M509.5 288.5h8m-4-4v8M900.5 323.5h8m-4-4v8M194.5 288.5h8m-4-4v8M225.5 261.5h8m-4-4v8M752.5 273.5h8m-4-4v8M347.5 246.5h8m-4-4v8M603.5 251.5h8m-4-4v8M527.5 301.5h8m-4-4v8M207.5 253.5h8m-4-4v8M744.5 258.5h8m-4-4v8M733.5 257.5h8m-4-4v8M207.5 273.5h8m-4-4v8M303.5 241.5h8m-4-4v8M786.5 305.5h8m-4-4v8M896.5 298.5h8m-4-4v8M859.5 327.5h8m-4-4v8M532.5 303.5h8m-4-4v8M411.5 254.5h8m-4-4v8M525.5 308.5h8m-4-4v8M282.5 250.5h8m-4-4v8M221.5 273.5h8m-4-4v8M423.5 288.5h8m-4-4v8M127.5 265.5h8m-4-4v8M501.5 284.5h8m-4-4v8M697.5 242.5h8m-4-4v8M655.5 265.5h8m-4-4v8M974.5 293.5h8m-4-4v8M873.5 326.5h8m-4-4v8M642.5 284.5h8m-4-4v8M882.5 309.5h8m-4-4v8M475.5 282.5h8m-4-4v8M328.5 255.5h8m-4-4v8M553.5 269.5h8m-4-4v8M978.5 317.5h8m-4-4v8M613.5 259.5h8m-4-4v8M537.5 308.5h8m-4-4v8M774.5 273.5h8m-4-4v8M353.5 272.5h8m-4-4v8M816.5 314.5h8m-4-4v8M77.5 259.5h8m-4-4v8M287.5 234.5h8m-4-4v8M236.5 253.5h8m-4-4v8M301.5 234.5h8m-4-4v8M940.5 323.5h8m-4-4v8M83.5 263.5h8m-4-4v8M341.5 250.5h8m-4-4v8M594.5 269.5h8m-4-4v8M702.5 258.5h8m-4-4v8M426.5 272.5h8m-4-4v8M272.5 254.5h8m-4-4v8M840.5 322.5h8m-4-4v8M190.5 263.5h8m-4-4v8M282.5 238.5h8m-4-4v8M522.5 299.5h8m-4-4v8M936.5 314.5h8m-4-4v8M585.5 258.5h8m-4-4v8M549.5 293.5h8m-4-4v8M695.5 268.5h8m-4-4v8M636.5 271.5h8m-4-4v8M376.5 256.5h8m-4-4v8M157.5 284.5h8m-4-4v8M256.5 262.5h8m-4-4v8M769.5 282.5h8m-4-4v8M642.5 282.5h8m-4-4v8M783.5 290.5h8m-4-4v8M103.5 269.5h8m-4-4v8M885.5 320.5h8m-4-4v8M425.5 254.5h8m-4-4v8M913.5 321.5h8m-4-4v8M610.5 263.5h8m-4-4v8M570.5 265.5h8m-4-4v8M802.5 306.5h8m-4-4v8M635.5 263.5h8m-4-4v8M678.5 266.5h8m-4-4v8M217.5 268.5h8m-4-4v8M617.5 282.5h8m-4-4v8M400.5 267.5h8m-4-4v8M140.5 269.5h8m-4-4v8M199.5 281.5h8m-4-4v8M510.5 304.5h8m-4-4v8M306.5 224.5h8m-4-4v8M753.5 267.5h8m-4-4v8M190.5 268.5h8m-4-4v8M71.5 253.5h8m-4-4v8M990.5 306.5h8m-4-4v8M354.5 240.5h8m-4-4v8M540.5 286.5h8m-4-4v8M263.5 237.5h8m-4-4v8M262.5 251.5h8m-4-4v8M440.5 266.5h8m-4-4v8M776.5 273.5h8m-4-4v8M99.5 290.5h8m-4-4v8M822.5 318.5h8m-4-4v8M986.5 323.5h8m-4-4v8M580.5 281.5h8m-4-4v8M404.5 271.5h8m-4-4v8M284.5 229.5h8m-4-4v8M241.5 268.5h8m-4-4v8M363.5 251.5h8m-4-4v8M839.5 309.5h8m-4-4v8M59.5 258.5h8m-4-4v8M772.5 295.5h8m-4-4v8M670.5 266.5h8m-4-4v8M78.5 274.5h8m-4-4v8M727.5 280.5h8m-4-4v8M676.5 266.5h8m-4-4v8M354.5 258.5h8m-4-4v8M850.5 320.5h8m-4-4v8M263.5 234.5h8m-4-4v8M183.5 291.5h8m-4-4v8M651.5 251.5h8m-4-4v8M151.5 274.5h8m-4-4v8M238.5 266.5h8m-4-4v8M754.5 287.5h8m-4-4v8M530.5 296.5h8m-4-4v8M664.5 280.5h8m-4-4v8M726.5 248.5h8m-4-4v8M618.5 264.5h8m-4-4v8M254.5 247.5h8m-4-4v8M183.5 273.5h8m-4-4v8M313.5 226.5h8m-4-4v8M480.5 287.5h8m-4-4v8M182.5 290.5h8m-4-4v8M172.5 290.5h8m-4-4v8M656.5 256.5h8m-4-4v8M414.5 259.5h8m-4-4v8M431.5 268.5h8m-4-4v8M261.5 264.5h8m-4-4v8M549.5 263.5h8m-4-4v8M599.5 260.5h8m-4-4v8M923.5 311.5h8m-4-4v8M100.5 260.5h8m-4-4v8M893.5 307.5h8m-4-4v8M986.5 310.5h8m-4-4v8M387.5 263.5h8m-4-4v8M719.5 243.5h8m-4-4v8M809.5 315.5h8m-4-4v8M655.5 258.5h8m-4-4v8M331.5 241.5h8m-4-4v8M866.5 303.5h8m-4-4v8M510.5 308.5h8m-4-4v8M82.5 252.5h8m-4-4v8M831.5 326.5h8m-4-4v8M765.5 273.5h8m-4-4v8M105.5 274.5h8m-4-4v8M737.5 261.5h8m-4-4v8M693.5 281.5h8m-4-4v8M193.5 294.5h8m-4-4v8M691.5 252.5h8m-4-4v8M374.5 254.5h8m-4-4v8M534.5 302.5h8m-4-4v8M975.5 296.5h8m-4-4v8M644.5 268.5h8m-4-4v8M532.5 312.5h8m-4-4v8M130.5 255.5h8m-4-4v8M189.5 272.5h8m-4-4v8M838.5 328.5h8m-4-4v8M734.5 284.5h8m-4-4v8M820.5 298.5h8m-4-4v8M597.5 255.5h8m-4-4v8M555.5 286.5h8m-4-4v8M727.5 282.5h8m-4-4v8M369.5 245.5h8m-4-4v8M526.5 300.5h8m-4-4v8M501.5 297.5h8m-4-4v8M268.5 247.5h8m-4-4v8M84.5 252.5h8m-4-4v8M152.5 267.5h8m-4-4v8M238.5 262.5h8m-4-4v8M845.5 308.5h8m-4-4v8M713.5 262.5h8m-4-4v8M169.5 286.5h8m-4-4v8M497.5 280.5h8m-4-4v8M852.5 323.5h8m-4-4v8M539.5 281.5h8m-4-4v8M641.5 265.5h8m-4-4v8M418.5 260.5h8m-4-4v8M211.5 265.5h8m-4-4v8M636.5 280.5h8m-4-4v8M515.5 312.5h8m-4-4v8M386.5 270.5h8m-4-4v8M302.5 242.5h8m-4-4v8M696.5 262.5h8m-4-4v8M358.5 266.5h8m-4-4v8M595.5 254.5h8m-4-4v8M303.5 218.5h8m-4-4v8M743.5 287.5h8m-4-4v8M509.5 296.5h8m-4-4v8M915.5 308.5h8m-4-4v8M714.5 280.5h8m-4-4v8M728.5 256.5h8m-4-4v8M379.5 253.5h8m-4-4v8M826.5 325.5h8m-4-4v8M428.5 281.5h8m-4-4v8M984.5 330.5h8m-4-4v8M881.5 322.5h8m-4-4v8M662.5 282.5h8m-4-4v8M816.5 306.5h8m-4-4v8M566.5 267.5h8m-4-4v8M725.5 265.5h8m-4-4v8M192.5 274.5h8m-4-4v8M985.5 305.5h8m-4-4v8M786.5 292.5h8m-4-4v8M205.5 290.5h8m-4-4v8M290.5 237.5h8m-4-4v8M594.5 264.5h8m-4-4v8M750.5 258.5h8m-4-4v8M210.5 282.5h8m-4-4v8M957.5 309.5h8m-4-4v8M387.5 253.5h8m-4-4v8M989.5 330.5h8m-4-4v8M742.5 255.5h8m-4-4v8M515.5 287.5h8m-4-4v8M407.5 261.5h8m-4-4v8M161.5 291.5h8m-4-4v8M152.5 281.5h8m-4-4v8M639.5 274.5h8m-4-4v8M761.5 292.5h8m-4-4v8M892.5 323.5h8m-4-4v8M409.5 281.5h8m-4-4v8M929.5 312.5h8m-4-4v8M339.5 258.5h8m-4-4v8M932.5 303.5h8m-4-4v8M903.5 298.5h8m-4-4v8M215.5 265.5h8m-4-4v8M849.5 313.5h8m-4-4v8M702.5 262.5h8m-4-4v8M701.5 241.5h8m-4-4v8M826.5 325.5h8m-4-4v8M560.5 271.5h8m-4-4v8M537.5 288.5h8m-4-4v8M854.5 320.5h8m-4-4v8M886.5 313.5h8m-4-4v8M220.5 283.5h8m-4-4v8M319.5 224.5h8m-4-4v8M242.5 250.5h8m-4-4v8M253.5 252.5h8m-4-4v8M593.5 261.5h8m-4-4v8M323.5 239.5h8m-4-4v8M290.5 241.5h8m-4-4v8M163.5 285.5h8m-4-4v8M364.5 241.5h8m-4-4v8M761.5 263.5h8m-4-4v8M80.5 251.5h8m-4-4v8M512.5 306.5h8m-4-4v8M616.5 256.5h8m-4-4v8M109.5 269.5h8m-4-4v8M336.5 254.5h8m-4-4v8M891.5 312.5h8m-4-4v8M988.5 339.5h8m-4-4v8M837.5 319.5h8m-4-4v8M229.5 255.5h8m-4-4v8M483.5 284.5h8m-4-4v8M230.5 270.5h8m-4-4v8M511.5 302.5h8m-4-4v8M908.5 301.5h8m-4-4v8M866.5 303.5h8m-4-4v8M432.5 259.5h8m-4-4v8M127.5 260.5h8m-4-4v8M885.5 319.5h8m-4-4v8M983.5 323.5h8m-4-4v8M541.5 294.5h8m-4-4v8M277.5 243.5h8m-4-4v8M566.5 259.5h8m-4-4v8M697.5 249.5h8m-4-4v8M512.5 312.5h8m-4-4v8M395.5 258.5h8m-4-4v8M294.5 224.5h8m-4-4v8M339.5 271.5h8m-4-4v8M109.5 262.5h8m-4-4v8M299.5 245.5h8m-4-4v8M950.5 308.5h8m-4-4v8M65.5 260.5h8m-4-4v8M721.5 255.5h8m-4-4v8M442.5 259.5h8m-4-4v8M611.5 254.5h8m-4-4v8M273.5 246.5h8m-4-4v8M671.5 267.5h8m-4-4v8M705.5 243.5h8m-4-4v8M726.5 260.5h8m-4-4v8M521.5 311.5h8m-4-4v8M968.5 308.5h8m-4-4v8M855.5 307.5h8m-4-4v8M592.5 260.5h8m-4-4v8M686.5 269.5h8m-4-4v8M318.5 243.5h8m-4-4v8M938.5 304.5h8m-4-4v8M651.5 255.5h8m-4-4v8M880.5 307.5h8m-4-4v8M331.5 261.5h8m-4-4v8M980.5 312.5h8m-4-4v8M172.5 288.5h8m-4-4v8M555.5 288.5h8m-4-4v8M178.5 294.5h8m-4-4v8M247.5 247.5h8m-4-4v8M752.5 283.5h8m-4-4v8M130.5 256.5h8m-4-4v8M425.5 253.5h8m-4-4v8M249.5 268.5h8m-4-4v8M837.5 327.5h8m-4-4v8M146.5 262.5h8m-4-4v8M376.5 266.5h8m-4-4v8M844.5 306.5h8m-4-4v8M702.5 260.5h8m-4-4v8M986.5 313.5h8m-4-4v8M667.5 264.5h8m-4-4v8M739.5 259.5h8m-4-4v8M710.5 250.5h8m-4-4v8M137.5 270.5h8m-4-4v8M148.5 288.5h8m-4-4v8M760.5 274.5h8m-4-4v8M622.5 249.5h8m-4-4v8M306.5 227.5h8m-4-4v8M66.5 263.5h8m-4-4v8M558.5 254.5h8m-4-4v8M154.5 271.5h8m-4-4v8M739.5 264.5h8m-4-4v8M380.5 269.5h8m-4-4v8M792.5 291.5h8m-4-4v8M160.5 274.5h8m-4-4v8M523.5 302.5h8m-4-4v8M165.5 286.5h8m-4-4v8M767.5 286.5h8m-4-4v8M581.5 284.5h8m-4-4v8M285.5 244.5h8m-4-4v8M959.5 290.5h8m-4-4v8M685.5 268.5h8m-4-4v8M376.5 262.5h8m-4-4v8M843.5 317.5h8m-4-4v8M423.5 259.5h8m-4-4v8M936.5 307.5h8m-4-4v8M339.5 260.5h8m-4-4v8M982.5 323.5h8m-4-4v8M126.5 253.5h8m-4-4v8M727.5 274.5h8m-4-4v8M334.5 256.5h8m-4-4v8M458.5 272.5h8m-4-4v8M105.5 257.5h8m-4-4v8M275.5 254.5h8m-4-4v8M170.5 291.5h8m-4-4v8M731.5 269.5h8m-4-4v8M273.5 238.5h8m-4-4v8M528.5 303.5h8m-4-4v8M368.5 259.5h8m-4-4v8M285.5 236.5h8m-4-4v8M926.5 314.5h8m-4-4v8M537.5 305.5h8m-4-4v8M655.5 274.5h8m-4-4v8M805.5 316.5h8m-4-4v8M306.5 221.5h8m-4-4v8M143.5 285.5h8m-4-4v8M498.5 309.5h8m-4-4v8M229.5 280.5h8m-4-4v8M79.5 272.5h8m-4-4v8M904.5 322.5h8m-4-4v8M636.5 286.5h8m-4-4v8M450.5 254.5h8m-4-4v8M201.5 257.5h8m-4-4v8M749.5 270.5h8m-4-4v8M557.5 289.5h8m-4-4v8M233.5 264.5h8m-4-4v8M980.5 310.5h8m-4-4v8M947.5 322.5h8m-4-4v8M914.5 315.5h8m-4-4v8M811.5 316.5h8m-4-4v8M342.5 257.5h8m-4-4v8M655.5 262.5h8m-4-4v8M627.5 261.5h8m-4-4v8M130.5 260.5h8m-4-4v8M71.5 253.5h8m-4-4v8M711.5 268.5h8m-4-4v8M383.5 258.5h8m-4-4v8M820.5 322.5h8m-4-4v8M626.5 266.5h8m-4-4v8M833.5 327.5h8m-4-4v8M662.5 279.5h8m-4-4v8M914.5 308.5h8m-4-4v8M882.5 308.5h8m-4-4v8M102.5 255.5h8m-4-4v8M311.5 242.5h8m-4-4v8M297.5 232.5h8m-4-4v8M236.5 260.5h8m-4-4v8M862.5 316.5h8m-4-4v8M84.5 272.5h8m-4-4v8M241.5 251.5h8m-4-4v8M748.5 281.5h8m-4-4v8M275.5 254.5h8m-4-4v8M302.5 230.5h8m-4-4v8M964.5 315.5h8m-4-4v8M750.5 272.5h8m-4-4v8M480.5 290.5h8m-4-4v8M312.5 233.5h8m-4-4v8M980.5 310.5h8m-4-4v8M777.5 273.5h8m-4-4v8M134.5 268.5h8m-4-4v8M705.5 256.5h8m-4-4v8M715.5 265.5h8m-4-4v8M338.5 273.5h8m-4-4v8M196.5 285.5h8m-4-4v8M78.5 250.5h8m-4-4v8M338.5 244.5h8m-4-4v8M849.5 317.5h8m-4-4v8M877.5 309.5h8m-4-4v8M686.5 263.5h8m-4-4v8M739.5 282.5h8m-4-4v8M251.5 274.5h8m-4-4v8M397.5 251.5h8m-4-4v8M884.5 311.5h8m-4-4v8M983.5 303.5h8m-4-4v8M474.5 272.5h8m-4-4v8M763.5 295.5h8m-4-4v8M923.5 304.5h8m-4-4v8M990.5 299.5h8m-4-4v8M338.5 257.5h8m-4-4v8M657.5 273.5h8m-4-4v8M431.5 288.5h8m-4-4v8M497.5 312.5h8m-4-4v8M494.5 310.5h8m-4-4v8M322.5 248.5h8m-4-4v8M78.5 262.5h8m-4-4v8M754.5 266.5h8m-4-4v8M826.5 319.5h8m-4-4v8M286.5 251.5h8m-4-4v8M611.5 282.5h8m-4-4v8M928.5 314.5h8m-4-4v8M503.5 288.5h8m-4-4v8M256.5 234.5h8m-4-4v8M610.5 252.5h8m-4-4v8M954.5 313.5h8m-4-4v8M857.5 313.5h8m-4-4v8M884.5 296.5h8m-4-4v8M447.5 253.5h8m-4-4v8M305.5 220.5h8m-4-4v8M860.5 319.5h8m-4-4v8M774.5 290.5h8m-4-4v8M838.5 328.5h8m-4-4v8M432.5 281.5h8m-4-4v8M329.5 237.5h8m-4-4v8M288.5 223.5h8m-4-4v8M860.5 331.5h8m-4-4v8M903.5 305.5h8m-4-4v8M411.5 271.5h8m-4-4v8M863.5 327.5h8m-4-4v8M479.5 279.5h8m-4-4v8M587.5 271.5h8m-4-4v8M273.5 248.5h8m-4-4v8M310.5 239.5h8m-4-4v8M310.5 226.5h8m-4-4v8M303.5 252.5h8m-4-4v8M545.5 287.5h8m-4-4v8M166.5 289.5h8m-4-4v8M767.5 291.5h8m-4-4v8M234.5 255.5h8m-4-4v8M474.5 263.5h8m-4-4v8M648.5 268.5h8m-4-4v8M202.5 291.5h8m-4-4v8M446.5 284.5h8m-4-4v8M584.5 287.5h8m-4-4v8M572.5 268.5h8m-4-4v8M878.5 321.5h8m-4-4v8M771.5 270.5h8m-4-4v8M189.5 273.5h8m-4-4v8M818.5 319.5h8m-4-4v8M572.5 264.5h8m-4-4v8M682.5 274.5h8m-4-4v8M503.5 311.5h8m-4-4v8M783.5 296.5h8m-4-4v8M791.5 281.5h8m-4-4v8M269.5 234.5h8m-4-4v8M817.5 298.5h8m-4-4v8M589.5 265.5h8m-4-4v8M671.5 263.5h8m-4-4v8M839.5 329.5h8m-4-4v8M443.5 282.5h8m-4-4v8M904.5 300.5h8m-4-4v8M869.5 311.5h8m-4-4v8M792.5 304.5h8m-4-4v8M423.5 268.5h8m-4-4v8M554.5 273.5h8m-4-4v8M748.5 285.5h8m-4-4v8M877.5 295.5h8m-4-4v8M736.5 272.5h8m-4-4v8M695.5 241.5h8m-4-4v8M97.5 262.5h8m-4-4v8M901.5 320.5h8m-4-4v8M509.5 288.5h8m-4-4v8M312.5 228.5h8m-4-4v8M768.5 281.5h8m-4-4v8M377.5 271.5h8m-4-4v8M543.5 283.5h8m-4-4v8M251.5 239.5h8m-4-4v8M618.5 280.5h8m-4-4v8M437.5 262.5h8m-4-4v8M792.5 308.5h8m-4-4v8M669.5 274.5h8m-4-4v8M716.5 274.5h8m-4-4v8M296.5 226.5h8m-4-4v8M127.5 269.5h8m-4-4v8M868.5 325.5h8m-4-4v8M926.5 317.5h8m-4-4v8M649.5 280.5h8m-4-4v8M906.5 321.5h8m-4-4v8M704.5 265.5h8m-4-4v8M618.5 281.5h8m-4-4v8M399.5 272.5h8m-4-4v8M519.5 289.5h8m-4-4v8M274.5 240.5h8m-4-4v8M461.5 255.5h8m-4-4v8M538.5 283.5h8m-4-4v8M91.5 269.5h8m-4-4v8M434.5 288.5h8m-4-4v8M327.5 249.5h8m-4-4v8M642.5 284.5h8m-4-4v8M796.5 307.5h8m-4-4v8M624.5 274.5h8m-4-4v8M666.5 266.5h8m-4-4v8M624.5 259.5h8m-4-4v8M300.5 251.5h8m-4-4v8M420.5 287.5h8m-4-4v8M830.5 325.5h8m-4-4v8M941.5 310.5h8m-4-4v8M240.5 269.5h8m-4-4v8M68.5 264.5h8m-4-4v8M958.5 314.5h8m-4-4v8M848.5 319.5h8m-4-4v8M619.5 242.5h8m-4-4v8M801.5 291.5h8m-4-4v8M610.5 254.5h8m-4-4v8M889.5 300.5h8m-4-4v8M290.5 228.5h8m-4-4v8M475.5 263.5h8m-4-4v8M674.5 267.5h8m-4-4v8M268.5 263.5h8m-4-4v8M711.5 267.5h8m-4-4v8M305.5 226.5h8m-4-4v8M707.5 282.5h8m-4-4v8M789.5 304.5h8m-4-4v8M458.5 282.5h8m-4-4v8M986.5 295.5h8m-4-4v8M640.5 273.5h8m-4-4v8M745.5 264.5h8m-4-4v8M79.5 272.5h8m-4-4v8M708.5 253.5h8m-4-4v8M937.5 324.5h8m-4-4v8M638.5 281.5h8m-4-4v8M896.5 312.5h8m-4-4v8M121.5 264.5h8m-4-4v8M877.5 310.5h8m-4-4v8M866.5 320.5h8m-4-4v8M638.5 265.5h8m-4-4v8M462.5 265.5h8m-4-4v8M703.5 252.5h8m-4-4v8M291.5 240.5h8m-4-4v8M670.5 262.5h8m-4-4v8M695.5 257.5h8m-4-4v8M563.5 265.5h8m-4-4v8M303.5 250.5h8m-4-4v8M58.5 264.5h8m-4-4v8M252.5 242.5h8m-4-4v8M819.5 300.5h8m-4-4v8M265.5 259.5h8m-4-4v8M139.5 285.5h8m-4-4v8M293.5 222.5h8m-4-4v8M547.5 284.5h8m-4-4v8M604.5 268.5h8m-4-4v8M866.5 312.5h8m-4-4v8M842.5 322.5h8m-4-4v8M966.5 310.5h8m-4-4v8M871.5 323.5h8m-4-4v8M482.5 284.5h8m-4-4v8M952.5 298.5h8m-4-4v8M280.5 235.5h8m-4-4v8M632.5 268.5h8m-4-4v8M307.5 239.5h8m-4-4v8M801.5 298.5h8m-4-4v8M256.5 235.5h8m-4-4v8M455.5 267.5h8m-4-4v8M272.5 236.5h8m-4-4v8M849.5 308.5h8m-4-4v8M629.5 285.5h8m-4-4v8M640.5 271.5h8m-4-4v8M355.5 247.5h8m-4-4v8M235.5 271.5h8m-4-4v8M846.5 331.5h8m-4-4v8M752.5 282.5h8m-4-4v8M726.5 251.5h8m-4-4v8M990.5 322.5h8m-4-4v8M581.5 273.5h8m-4-4v8M237.5 260.5h8m-4-4v8M620.5 253.5h8m-4-4v8M330.5 239.5h8m-4-4v8M543.5 309.5h8m-4-4v8M491.5 293.5h8m-4-4v8M584.5 262.5h8m-4-4v8M906.5 310.5h8m-4-4v8M795.5 293.5h8m-4-4v8M450.5 254.5h8m-4-4v8M801.5 307.5h8m-4-4v8M849.5 321.5h8m-4-4v8M761.5 286.5h8m-4-4v8M573.5 289.5h8m-4-4v8M884.5 319.5h8m-4-4v8M521.5 316.5h8m-4-4v8M172.5 289.5h8m-4-4v8M315.5 253.5h8m-4-4v8M660.5 282.5h8m-4-4v8M422.5 261.5h8m-4-4v8M457.5 264.5h8m-4-4v8M440.5 268.5h8m-4-4v8M249.5 256.5h8m-4-4v8M158.5 273.5h8m-4-4v8M108.5 267.5h8m-4-4v8M364.5 256.5h8m-4-4v8M489.5 299.5h8m-4-4v8M926.5 318.5h8m-4-4v8M636.5 274.5h8m-4-4v8M750.5 264.5h8m-4-4v8M950.5 319.5h8m-4-4v8M131.5 260.5h8m-4-4v8M426.5 289.5h8m-4-4v8M946.5 325.5h8m-4-4v8M496.5 296.5h8m-4-4v8M944.5 325.5h8m-4-4v8M243.5 250.5h8m-4-4v8M123.5 263.5h8m-4-4v8M881.5 322.5h8m-4-4v8M447.5 252.5h8m-4-4v8M538.5 298.5h8m-4-4v8M927.5 312.5h8m-4-4v8M271.5 243.5h8m-4-4v8M965.5 301.5h8m-4-4v8M436.5 273.5h8m-4-4v8M294.5 251.5h8m-4-4v8M284.5 223.5h8m-4-4v8M547.5 267.5h8m-4-4v8M498.5 303.5h8m-4-4v8M873.5 311.5h8m-4-4v8M111.5 272.5h8m-4-4v8M103.5 284.5h8m-4-4v8M618.5 253.5h8m-4-4v8M768.5 273.5h8m-4-4v8M510.5 303.5h8m-4-4v8M624.5 254.5h8m-4-4v8M649.5 267.5h8m-4-4v8M78.5 267.5h8m-4-4v8M293.5 233.5h8m-4-4v8M990.5 332.5h8m-4-4v8M370.5 243.5h8m-4-4v8M942.5 303.5h8m-4-4v8M522.5 314.5h8m-4-4v8M274.5 258.5h8m-4-4v8M59.5 251.5h8m-4-4v8M270.5 255.5h8m-4-4v8M361.5 259.5h8m-4-4v8M470.5 258.5h8m-4-4v8M478.5 284.5h8m-4-4v8M570.5 280.5h8m-4-4v8M505.5 301.5h8m-4-4v8M93.5 256.5h8m-4-4v8M310.5 223.5h8m-4-4v8M959.5 291.5h8m-4-4v8M87.5 257.5h8m-4-4v8M726.5 257.5h8m-4-4v8M507.5 288.5h8m-4-4v8M705.5 256.5h8m-4-4v8M371.5 245.5h8m-4-4v8M414.5 267.5h8m-4-4v8M893.5 299.5h8m-4-4v8M368.5 253.5h8m-4-4v8M150.5 290.5h8m-4-4v8M98.5 281.5h8m-4-4v8M869.5 297.5h8m-4-4v8M354.5 242.5h8m-4-4v8M187.5 282.5h8m-4-4v8M611.5 244.5h8m-4-4v8M831.5 323.5h8m-4-4v8M614.5 256.5h8m-4-4v8M212.5 285.5h8m-4-4v8M443.5 263.5h8m-4-4v8M309.5 239.5h8m-4-4v8M75.5 252.5h8m-4-4v8M962.5 294.5h8m-4-4v8M491.5 284.5h8m-4-4v8M200.5 293.5h8m-4-4v8M872.5 329.5h8m-4-4v8M982.5 318.5h8m-4-4v8M800.5 302.5h8m-4-4v8M298.5 244.5h8m-4-4v8M248.5 256.5h8m-4-4v8M552.5 291.5h8m-4-4v8M601.5 259.5h8m-4-4v8M867.5 329.5h8m-4-4v8M964.5 290.5h8m-4-4v8M894.5 309.5h8m-4-4v8M382.5 263.5h8m-4-4v8M191.5 268.5h8m-4-4v8M135.5 280.5h8m-4-4v8M189.5 273.5h8m-4-4v8M343.5 259.5h8m-4-4v8M351.5 273.5h8m-4-4v8M703.5 255.5h8m-4-4v8M140.5 260.5h8m-4-4v8M178.5 273.5h8m-4-4v8M659.5 282.5h8m-4-4v8M676.5 260.5h8m-4-4v8M708.5 273.5h8m-4-4v8M715.5 244.5h8m-4-4v8M665.5 266.5h8m-4-4v8M574.5 280.5h8m-4-4v8M265.5 246.5h8m-4-4v8M733.5 260.5h8m-4-4v8M250.5 254.5h8m-4-4v8M556.5 270.5h8m-4-4v8M304.5 228.5h8m-4-4v8M464.5 255.5h8m-4-4v8M819.5 321.5h8m-4-4v8M663.5 256.5h8m-4-4v8M317.5 237.5h8m-4-4v8M790.5 280.5h8m-4-4v8M471.5 259.5h8m-4-4v8M858.5 327.5h8m-4-4v8M694.5 242.5h8m-4-4v8M979.5 290.5h8m-4-4v8M667.5 269.5h8m-4-4v8M885.5 307.5h8m-4-4v8M707.5 280.5h8m-4-4v8M828.5 320.5h8m-4-4v8M154.5 291.5h8m-4-4v8M505.5 306.5h8m-4-4v8M120.5 272.5h8m-4-4v8M775.5 298.5h8m-4-4v8M711.5 272.5h8m-4-4v8M927.5 307.5h8m-4-4v8M416.5 271.5h8m-4-4v8M500.5 303.5h8m-4-4v8M896.5 307.5h8m-4-4v8M447.5 268.5h8m-4-4v8M819.5 305.5h8m-4-4v8M455.5 255.5h8m-4-4v8M377.5 270.5h8m-4-4v8M320.5 235.5h8m-4-4v8M266.5 231.5h8m-4-4v8M464.5 263.5h8m-4-4v8M221.5 283.5h8m-4-4v8M812.5 294.5h8m-4-4v8M973.5 312.5h8m-4-4v8M116.5 253.5h8m-4-4v8M921.5 308.5h8m-4-4v8M138.5 286.5h8m-4-4v8M684.5 258.5h8m-4-4v8M345.5 251.5h8m-4-4v8M293.5 224.5h8m-4-4v8M692.5 274.5h8m-4-4v8M76.5 273.5h8m-4-4v8M854.5 315.5h8m-4-4v8M588.5 259.5h8m-4-4v8M285.5 254.5h8m-4-4v8M262.5 237.5h8m-4-4v8M658.5 259.5h8m-4-4v8M639.5 256.5h8m-4-4v8M358.5 269.5h8m-4-4v8M373.5 251.5h8m-4-4v8M495.5 298.5h8m-4-4v8M894.5 312.5h8m-4-4v8M561.5 264.5h8m-4-4v8M825.5 314.5h8m-4-4v8M647.5 272.5h8m-4-4v8M583.5 291.5h8m-4-4v8M519.5 299.5h8m-4-4v8M684.5 261.5h8m-4-4v8M521.5 296.5h8m-4-4v8M720.5 264.5h8m-4-4v8M241.5 254.5h8m-4-4v8M362.5 253.5h8m-4-4v8M862.5 321.5h8m-4-4v8M829.5 319.5h8m-4-4v8M930.5 317.5h8m-4-4v8M597.5 256.5h8m-4-4v8M167.5 289.5h8m-4-4v8M746.5 259.5h8m-4-4v8M333.5 270.5h8m-4-4v8M852.5 311.5h8m-4-4v8M513.5 315.5h8m-4-4v8M119.5 268.5h8m-4-4v8M132.5 270.5h8m-4-4v8M280.5 253.5h8m-4-4v8M621.5 272.5h8m-4-4v8M799.5 285.5h8m-4-4v8M164.5 286.5h8m-4-4v8M632.5 283.5h8m-4-4v8M446.5 266.5h8m-4-4v8M472.5 290.5h8m-4-4v8M804.5 314.5h8m-4-4v8M903.5 308.5h8m-4-4v8M964.5 312.5h8m-4-4v8M766.5 274.5h8m-4-4v8M59.5 254.5h8m-4-4v8M211.5 268.5h8m-4-4v8M605.5 280.5h8m-4-4v8M952.5 317.5h8m-4-4v8M145.5 268.5h8m-4-4v8M544.5 288.5h8m-4-4v8M436.5 280.5h8m-4-4v8M311.5 252.5h8m-4-4v8M314.5 228.5h8m-4-4v8M287.5 248.5h8m-4-4v8M169.5 289.5h8m-4-4v8M576.5 271.5h8m-4-4v8M477.5 295.5h8m-4-4v8M710.5 262.5h8m-4-4v8M647.5 269.5h8m-4-4v8M949.5 326.5h8m-4-4v8M379.5 261.5h8m-4-4v8M870.5 318.5h8m-4-4v8M427.5 274.5h8m-4-4v8M790.5 298.5h8m-4-4v8M436.5 255.5h8m-4-4v8M477.5 271.5h8m-4-4v8M640.5 281.5h8m-4-4v8M178.5 290.5h8m-4-4v8M556.5 256.5h8m-4-4v8M159.5 294.5h8m-4-4v8M276.5 252.5h8m-4-4v8M970.5 308.5h8m-4-4v8M991.5 335.5h8m-4-4v8M304.5 228.5h8m-4-4v8M208.5 252.5h8m-4-4v8M547.5 289.5h8m-4-4v8M472.5 266.5h8m-4-4v8M756.5 281.5h8m-4-4v8M707.5 270.5h8m-4-4v8M583.5 285.5h8m-4-4v8M631.5 262.5h8m-4-4v8M600.5 257.5h8m-4-4v8M680.5 267.5h8m-4-4v8M915.5 306.5h8m-4-4v8M942.5 314.5h8m-4-4v8M978.5 299.5h8m-4-4v8M848.5 331.5h8m-4-4v8M171.5 293.5h8m-4-4v8M484.5 301.5h8m-4-4v8M768.5 295.5h8m-4-4v8M337.5 248.5h8m-4-4v8M618.5 263.5h8m-4-4v8M116.5 267.5h8m-4-4v8M258.5 234.5h8m-4-4v8M439.5 259.5h8m-4-4v8M458.5 259.5h8m-4-4v8M281.5 259.5h8m-4-4v8M850.5 317.5h8m-4-4v8M359.5 256.5h8m-4-4v8M423.5 258.5h8m-4-4v8M787.5 302.5h8m-4-4v8M581.5 273.5h8m-4-4v8M110.5 262.5h8m-4-4v8M270.5 236.5h8m-4-4v8M622.5 254.5h8m-4-4v8M255.5 266.5h8m-4-4v8M294.5 228.5h8m-4-4v8M524.5 296.5h8m-4-4v8M312.5 251.5h8m-4-4v8M642.5 263.5h8m-4-4v8M99.5 288.5h8m-4-4v8M317.5 248.5h8m-4-4v8M349.5 272.5h8m-4-4v8M867.5 324.5h8m-4-4v8M111.5 260.5h8m-4-4v8M388.5 260.5h8m-4-4v8M251.5 268.5h8m-4-4v8M696.5 250.5h8m-4-4v8M796.5 293.5h8m-4-4v8M119.5 255.5h8m-4-4v8M852.5 316.5h8m-4-4v8M696.5 263.5h8m-4-4v8M269.5 236.5h8m-4-4v8M899.5 311.5h8m-4-4v8M336.5 246.5h8m-4-4v8M775.5 285.5h8m-4-4v8M488.5 301.5h8m-4-4v8M536.5 297.5h8m-4-4v8M882.5 295.5h8m-4-4v8M822.5 324.5h8m-4-4v8M112.5 266.5h8m-4-4v8M463.5 251.5h8m-4-4v8M419.5 280.5h8m-4-4v8M989.5 328.5h8m-4-4v8M684.5 272.5h8m-4-4v8M442.5 267.5h8m-4-4v8M409.5 268.5h8m-4-4v8M755.5 284.5h8m-4-4v8M160.5 295.5h8m-4-4v8M801.5 302.5h8m-4-4v8M674.5 271.5h8m-4-4v8M467.5 282.5h8m-4-4v8M707.5 257.5h8m-4-4v8M437.5 256.5h8m-4-4v8M206.5 283.5h8m-4-4v8M452.5 272.5h8m-4-4v8M111.5 263.5h8m-4-4v8M151.5 290.5h8m-4-4v8M470.5 280.5h8m-4-4v8M809.5 292.5h8m-4-4v8M258.5 252.5h8m-4-4v8M531.5 306.5h8m-4-4v8M978.5 320.5h8m-4-4v8M812.5 313.5h8m-4-4v8M886.5 297.5h8m-4-4v8M678.5 257.5h8m-4-4v8M606.5 286.5h8m-4-4v8M600.5 283.5h8m-4-4v8M615.5 257.5h8m-4-4v8M496.5 293.5h8m-4-4v8M405.5 273.5h8m-4-4v8M287.5 244.5h8m-4-4v8M129.5 258.5h8m-4-4v8M413.5 270.5h8m-4-4v8M757.5 292.5h8m-4-4v8M223.5 250.5h8m-4-4v8M798.5 283.5h8m-4-4v8M101.5 257.5h8m-4-4v8M920.5 317.5h8m-4-4v8M656.5 257.5h8m-4-4v8M578.5 283.5h8m-4-4v8M448.5 259.5h8m-4-4v8M809.5 314.5h8m-4-4v8M63.5 263.5h8m-4-4v8M548.5 291.5h8m-4-4v8M339.5 256.5h8m-4-4v8M440.5 287.5h8m-4-4v8M560.5 265.5h8m-4-4v8M103.5 270.5h8m-4-4v8M981.5 304.5h8m-4-4v8M681.5 252.5h8m-4-4v8M730.5 254.5h8m-4-4v8M557.5 256.5h8m-4-4v8M690.5 246.5h8m-4-4v8M729.5 263.5h8m-4-4v8M986.5 316.5h8m-4-4v8M186.5 283.5h8m-4-4v8M989.5 321.5h8m-4-4v8M507.5 287.5h8m-4-4v8M256.5 245.5h8m-4-4v8M417.5 259.5h8m-4-4v8M409.5 283.5h8m-4-4v8M881.5 295.5h8m-4-4v8M131.5 264.5h8m-4-4v8M711.5 245.5h8m-4-4v8M527.5 311.5h8m-4-4v8M799.5 298.5h8m-4-4v8M105.5 272.5h8m-4-4v8M854.5 325.5h8m-4-4v8M878.5 300.5h8m-4-4v8M65.5 260.5h8m-4-4v8M507.5 286.5h8m-4-4v8M189.5 292.5h8m-4-4v8M555.5 267.5h8m-4-4v8M153.5 291.5h8m-4-4v8M874.5 322.5h8m-4-4v8M242.5 257.5h8m-4-4v8M671.5 271.5h8m-4-4v8M657.5 253.5h8m-4-4v8M361.5 255.5h8m-4-4v8M267.5 241.5h8m-4-4v8M899.5 321.5h8m-4-4v8M299.5 249.5h8m-4-4v8M366.5 248.5h8m-4-4v8M602.5 258.5h8m-4-4v8M413.5 254.5h8m-4-4v8M179.5 286.5h8m-4-4v8M590.5 263.5h8m-4-4v8M718.5 252.5h8m-4-4v8M703.5 260.5h8m-4-4v8M519.5 303.5h8m-4-4v8M348.5 265.5h8m-4-4v8M68.5 274.5h8m-4-4v8M557.5 259.5h8m-4-4v8M638.5 267.5h8m-4-4v8M472.5 288.5h8m-4-4v8M956.5 301.5h8m-4-4v8M257.5 255.5h8m-4-4v8M798.5 295.5h8m-4-4v8M714.5 271.5h8m-4-4v8M884.5 314.5h8m-4-4v8M910.5 310.5h8m-4-4v8M286.5 229.5h8m-4-4v8M906.5 314.5h8m-4-4v8M441.5 286.5h8m-4-4v8M683.5 263.5h8m-4-4v8M950.5 311.5h8m-4-4v8M611.5 252.5h8m-4-4v8M601.5 284.5h8m-4-4v8M135.5 253.5h8m-4-4v8M611.5 258.5h8m-4-4v8M289.5 218.5h8m-4-4v8M430.5 268.5h8m-4-4v8M971.5 292.5h8m-4-4v8M645.5 271.5h8m-4-4v8M719.5 252.5h8m-4-4v8M232.5 255.5h8m-4-4v8M346.5 250.5h8m-4-4v8M866.5 330.5h8m-4-4v8M188.5 293.5h8m-4-4v8M950.5 305.5h8m-4-4v8M461.5 251.5h8m-4-4v8M431.5 254.5h8m-4-4v8M544.5 287.5h8m-4-4v8M474.5 261.5h8m-4-4v8M502.5 303.5h8m-4-4v8M458.5 271.5h8m-4-4v8M701.5 257.5h8m-4-4v8M319.5 228.5h8m-4-4v8M226.5 280.5h8m-4-4v8M466.5 264.5h8m-4-4v8M152.5 272.5h8m-4-4v8M478.5 298.5h8m-4-4v8M524.5 309.5h8m-4-4v8M771.5 285.5h8m-4-4v8M176.5 280.5h8m-4-4v8M436.5 281.5h8m-4-4v8M767.5 289.5h8m-4-4v8M377.5 270.5h8m-4-4v8M821.5 324.5h8m-4-4v8M714.5 265.5h8m-4-4v8M101.5 283.5h8m-4-4v8M427.5 287.5h8m-4-4v8M754.5 263.5h8m-4-4v8M986.5 328.5h8m-4-4v8M679.5 274.5h8m-4-4v8M832.5 324.5h8m-4-4v8M463.5 268.5h8m-4-4v8M68.5 258.5h8m-4-4v8M316.5 237.5h8m-4-4v8M944.5 304.5h8m-4-4v8M619.5 241.5h8m-4-4v8M327.5 227.5h8m-4-4v8M987.5 296.5h8m-4-4v8M439.5 258.5h8m-4-4v8M279.5 234.5h8m-4-4v8M575.5 262.5h8m-4-4v8M384.5 254.5h8m-4-4v8M179.5 286.5h8m-4-4v8M709.5 272.5h8m-4-4v8M693.5 260.5h8m-4-4v8M970.5 312.5h8m-4-4v8M201.5 254.5h8m-4-4v8M894.5 319.5h8m-4-4v8M783.5 273.5h8m-4-4v8M298.5 237.5h8m-4-4v8M509.5 289.5h8m-4-4v8M356.5 264.5h8m-4-4v8M174.5 292.5h8m-4-4v8M822.5 305.5h8m-4-4v8M224.5 254.5h8m-4-4v8M520.5 309.5h8m-4-4v8M887.5 304.5h8m-4-4v8M580.5 274.5h8m-4-4v8M458.5 268.5h8m-4-4v8M976.5 317.5h8m-4-4v8M395.5 252.5h8m-4-4v8M720.5 265.5h8m-4-4v8M284.5 258.5h8m-4-4v8M746.5 255.5h8m-4-4v8M741.5 282.5h8m-4-4v8M813.5 317.5h8m-4-4v8M514.5 292.5h8m-4-4v8M274.5 241.5h8m-4-4v8M641.5 262.5h8m-4-4v8M894.5 323.5h8m-4-4v8M351.5 270.5h8m-4-4v8M243.5 255.5h8m-4-4v8M922.5 322.5h8m-4-4v8M63.5 263.5h8m-4-4v8M115.5 267.5h8m-4-4v8M163.5 288.5h8m-4-4v8M878.5 316.5h8m-4-4v8M426.5 265.5h8m-4-4v8M693.5 256.5h8m-4-4v8M704.5 247.5h8m-4-4v8M466.5 282.5h8m-4-4v8M725.5 261.5h8m-4-4v8M493.5 311.5h8m-4-4v8M565.5 266.5h8m-4-4v8M348.5 260.5h8m-4-4v8M609.5 273.5h8m-4-4v8M308.5 250.5h8m-4-4v8M318.5 252.5h8m-4-4v8M867.5 315.5h8m-4-4v8M406.5 257.5h8m-4-4v8M168.5 288.5h8m-4-4v8M639.5 272.5h8m-4-4v8M561.5 266.5h8m-4-4v8M119.5 257.5h8m-4-4v8M390.5 257.5h8m-4-4v8M323.5 234.5h8m-4-4v8M983.5 326.5h8m-4-4v8M785.5 284.5h8m-4-4v8M534.5 309.5h8m-4-4v8M899.5 311.5h8m-4-4v8M95.5 280.5h8m-4-4v8M276.5 237.5h8m-4-4v8M898.5 316.5h8m-4-4v8M539.5 295.5h8m-4-4v8M229.5 255.5h8m-4-4v8M590.5 259.5h8m-4-4v8M723.5 252.5h8m-4-4v8M616.5 268.5h8m-4-4v8M104.5 283.5h8m-4-4v8M97.5 262.5h8m-4-4v8M444.5 262.5h8m-4-4v8M74.5 253.5h8m-4-4v8M649.5 247.5h8m-4-4v8M470.5 264.5h8m-4-4v8M149.5 291.5h8m-4-4v8M865.5 316.5h8m-4-4v8M412.5 264.5h8m-4-4v8M870.5 321.5h8m-4-4v8M620.5 245.5h8m-4-4v8M631.5 281.5h8m-4-4v8M675.5 266.5h8m-4-4v8M291.5 222.5h8m-4-4v8M301.5 223.5h8m-4-4v8M864.5 330.5h8m-4-4v8M258.5 260.5h8m-4-4v8M428.5 289.5h8m-4-4v8M736.5 263.5h8m-4-4v8M369.5 254.5h8m-4-4v8M893.5 309.5h8m-4-4v8M260.5 250.5h8m-4-4v8M289.5 220.5h8m-4-4v8M873.5 326.5h8m-4-4v8M318.5 230.5h8m-4-4v8M370.5 264.5h8m-4-4v8M870.5 316.5h8m-4-4v8M361.5 265.5h8m-4-4v8M990.5 328.5h8m-4-4v8M805.5 301.5h8m-4-4v8M833.5 316.5h8m-4-4v8M277.5 232.5h8m-4-4v8M269.5 256.5h8m-4-4v8M742.5 263.5h8m-4-4v8M811.5 296.5h8m-4-4v8M276.5 231.5h8m-4-4v8M260.5 242.5h8m-4-4v8M291.5 219.5h8m-4-4v8M202.5 259.5h8m-4-4v8M455.5 264.5h8m-4-4v8M533.5 295.5h8m-4-4v8M637.5 260.5h8m-4-4v8M117.5 257.5h8m-4-4v8M249.5 262.5h8m-4-4v8M185.5 283.5h8m-4-4v8M313.5 235.5h8m-4-4v8M244.5 249.5h8m-4-4v8M927.5 319.5h8m-4-4v8M417.5 258.5h8m-4-4v8M203.5 268.5h8m-4-4v8M669.5 260.5h8m-4-4v8M971.5 307.5h8m-4-4v8M780.5 288.5h8m-4-4v8M441.5 274.5h8m-4-4v8M344.5 242.5h8m-4-4v8M788.5 296.5h8m-4-4v8M519.5 310.5h8m-4-4v8M851.5 328.5h8m-4-4v8M656.5 282.5h8m-4-4v8M312.5 240.5h8m-4-4v8M289.5 244.5h8m-4-4v8M279.5 241.5h8m-4-4v8M896.5 322.5h8m-4-4v8M786.5 305.5h8m-4-4v8M884.5 313.5h8m-4-4v8M806.5 295.5h8m-4-4v8M790.5 294.5h8m-4-4v8M753.5 282.5h8m-4-4v8M226.5 270.5h8m-4-4v8M102.5 281.5h8m-4-4v8M962.5 307.5h8m-4-4v8M868.5 298.5h8m-4-4v8M224.5 273.5h8m-4-4v8M756.5 274.5h8m-4-4v8M808.5 313.5h8m-4-4v8M101.5 256.5h8m-4-4v8M587.5 272.5h8m-4-4v8M454.5 261.5h8m-4-4v8M629.5 273.5h8m-4-4v8M873.5 328.5h8m-4-4v8M717.5 272.5h8m-4-4v8M264.5 263.5h8m-4-4v8M576.5 289.5h8m-4-4v8M583.5 260.5h8m-4-4v8M69.5 269.5h8m-4-4v8M197.5 285.5h8m-4-4v8M404.5 271.5h8m-4-4v8M237.5 254.5h8m-4-4v8M286.5 233.5h8m-4-4v8M680.5 271.5h8m-4-4v8M958.5 297.5h8m-4-4v8M490.5 295.5h8m-4-4v8M651.5 259.5h8m-4-4v8M749.5 253.5h8m-4-4v8M676.5 255.5h8m-4-4v8M660.5 254.5h8m-4-4v8M57.5 262.5h8m-4-4v8M859.5 330.5h8m-4-4v8M239.5 255.5h8m-4-4v8M540.5 306.5h8m-4-4v8M604.5 280.5h8m-4-4v8M745.5 288.5h8m-4-4v8M335.5 263.5h8m-4-4v8M940.5 316.5h8m-4-4v8M638.5 274.5h8m-4-4v8M830.5 302.5h8m-4-4v8M507.5 301.5h8m-4-4v8M136.5 253.5h8m-4-4v8M70.5 267.5h8m-4-4v8M647.5 270.5h8m-4-4v8M460.5 263.5h8m-4-4v8M472.5 259.5h8m-4-4v8M365.5 257.5h8m-4-4v8M237.5 251.5h8m-4-4v8M504.5 293.5h8m-4-4v8M299.5 242.5h8m-4-4v8M878.5 290.5h8m-4-4v8M965.5 313.5h8m-4-4v8M849.5 314.5h8m-4-4v8M426.5 283.5h8m-4-4v8M760.5 289.5h8m-4-4v8M497.5 293.5h8m-4-4v8M796.5 291.5h8m-4-4v8M815.5 301.5h8m-4-4v8M256.5 266.5h8m-4-4v8M890.5 312.5h8m-4-4v8M62.5 267.5h8m-4-4v8M513.5 284.5h8m-4-4v8M343.5 246.5h8m-4-4v8M457.5 251.5h8m-4-4v8M509.5 292.5h8m-4-4v8M499.5 299.5h8m-4-4v8M892.5 308.5h8m-4-4v8M902.5 312.5h8m-4-4v8M387.5 257.5h8m-4-4v8M330.5 266.5h8m-4-4v8M657.5 261.5h8m-4-4v8M254.5 244.5h8m-4-4v8M439.5 265.5h8m-4-4v8M713.5 257.5h8m-4-4v8M62.5 255.5h8m-4-4v8M759.5 280.5h8m-4-4v8M726.5 264.5h8m-4-4v8M429.5 251.5h8m-4-4v8M294.5 225.5h8m-4-4v8M563.5 259.5h8m-4-4v8M338.5 251.5h8m-4-4v8M805.5 292.5h8m-4-4v8M607.5 250.5h8m-4-4v8M348.5 252.5h8m-4-4v8M619.5 244.5h8m-4-4v8M197.5 284.5h8m-4-4v8M449.5 257.5h8m-4-4v8M519.5 309.5h8m-4-4v8M939.5 312.5h8m-4-4v8M361.5 258.5h8m-4-4v8M480.5 297.5h8m-4-4v8M976.5 292.5h8m-4-4v8M459.5 250.5h8m-4-4v8M811.5 303.5h8m-4-4v8M161.5 296.5h8m-4-4v8M434.5 264.5h8m-4-4v8M242.5 257.5h8m-4-4v8M871.5 315.5h8m-4-4v8M574.5 261.5h8m-4-4v8M271.5 250.5h8m-4-4v8M156.5 287.5h8m-4-4v8M455.5 283.5h8m-4-4v8M161.5 288.5h8m-4-4v8M515.5 306.5h8m-4-4v8M722.5 246.5h8m-4-4v8M351.5 254.5h8m-4-4v8M227.5 256.5h8m-4-4v8M406.5 261.5h8m-4-4v8M225.5 251.5h8m-4-4v8M830.5 311.5h8m-4-4v8M161.5 275.5h8m-4-4v8M732.5 264.5h8m-4-4v8M373.5 244.5h8m-4-4v8M722.5 280.5h8m-4-4v8M758.5 274.5h8m-4-4v8M200.5 267.5h8m-4-4v8M941.5 319.5h8m-4-4v8M651.5 255.5h8m-4-4v8M362.5 257.5h8m-4-4v8M234.5 261.5h8m-4-4v8M735.5 282.5h8m-4-4v8M804.5 298.5h8m-4-4v8M260.5 267.5h8m-4-4v8M181.5 280.5h8m-4-4v8M395.5 254.5h8m-4-4v8M636.5 282.5h8m-4-4v8M409.5 255.5h8m-4-4v8M961.5 317.5h8m-4-4v8M778.5 302.5h8m-4-4v8M900.5 308.5h8m-4-4v8M614.5 253.5h8m-4-4v8M745.5 255.5h8m-4-4v8M948.5 311.5h8m-4-4v8M594.5 259.5h8m-4-4v8M245.5 266.5h8m-4-4v8M781.5 281.5h8m-4-4v8M283.5 245.5h8m-4-4v8M733.5 281.5h8m-4-4v8M372.5 257.5h8m-4-4v8M655.5 268.5h8m-4-4v8M682.5 261.5h8m-4-4v8M893.5 309.5h8m-4-4v8M862.5 327.5h8m-4-4v8M469.5 284.5h8m-4-4v8M241.5 253.5h8m-4-4v8M163.5 274.5h8m-4-4v8M710.5 244.5h8m-4-4v8M891.5 294.5h8m-4-4v8M737.5 282.5h8m-4-4v8M545.5 272.5h8m-4-4v8M723.5 245.5h8m-4-4v8M589.5 282.5h8m-4-4v8M407.5 265.5h8m-4-4v8M838.5 307.5h8m-4-4v8M413.5 274.5h8m-4-4v8M888.5 315.5h8m-4-4v8M785.5 274.5h8m-4-4v8M779.5 284.5h8m-4-4v8M818.5 299.5h8m-4-4v8M984.5 335.5h8m-4-4v8M986.5 310.5h8m-4-4v8M531.5 299.5h8m-4-4v8M725.5 274.5h8m-4-4v8M965.5 314.5h8m-4-4v8M639.5 263.5h8m-4-4v8M85.5 262.5h8m-4-4v8M98.5 283.5h8m-4-4v8M496.5 304.5h8m-4-4v8M774.5 291.5h8m-4-4v8M874.5 320.5h8m-4-4v8M418.5 286.5h8m-4-4v8M546.5 265.5h8m-4-4v8M543.5 294.5h8m-4-4v8M551.5 254.5h8m-4-4v8M534.5 297.5h8m-4-4v8M852.5 317.5h8m-4-4v8M240.5 247.5h8m-4-4v8M840.5 312.5h8m-4-4v8M314.5 235.5h8m-4-4v8M562.5 258.5h8m-4-4v8M705.5 273.5h8m-4-4v8M207.5 265.5h8m-4-4v8M942.5 313.5h8m-4-4v8M954.5 317.5h8m-4-4v8M967.5 313.5h8m-4-4v8M58.5 257.5h8m-4-4v8M649.5 273.5h8m-4-4v8M674.5 261.5h8m-4-4v8M868.5 330.5h8m-4-4v8M256.5 271.5h8m-4-4v8M794.5 280.5h8m-4-4v8M305.5 248.5h8m-4-4v8M130.5 268.5h8m-4-4v8M156.5 291.5h8m-4-4v8M651.5 263.5h8m-4-4v8M559.5 290.5h8m-4-4v8M739.5 269.5h8m-4-4v8M792.5 302.5h8m-4-4v8M59.5 253.5h8m-4-4v8M922.5 322.5h8m-4-4v8M868.5 306.5h8m-4-4v8M923.5 306.5h8m-4-4v8M756.5 272.5h8m-4-4v8M426.5 257.5h8m-4-4v8M294.5 236.5h8m-4-4v8M896.5 311.5h8m-4-4v8M455.5 258.5h8m-4-4v8M518.5 288.5h8m-4-4v8M691.5 268.5h8m-4-4v8M695.5 266.5h8m-4-4v8M633.5 287.5h8m-4-4v8M539.5 284.5h8m-4-4v8M754.5 274.5h8m-4-4v8M435.5 251.5h8m-4-4v8M305.5 248.5h8m-4-4v8M893.5 318.5h8m-4-4v8M832.5 312.5h8m-4-4v8M713.5 265.5h8m-4-4v8M227.5 272.5h8m-4-4v8M907.5 316.5h8m-4-4v8M937.5 309.5h8m-4-4v8M315.5 245.5h8m-4-4v8M77.5 263.5h8m-4-4v8M434.5 271.5h8m-4-4v8M703.5 257.5h8m-4-4v8M405.5 269.5h8m-4-4v8M792.5 307.5h8m-4-4v8M896.5 292.5h8m-4-4v8M201.5 285.5h8m-4-4v8M691.5 270.5h8m-4-4v8M419.5 270.5h8m-4-4v8M233.5 254.5h8m-4-4v8M391.5 264.5h8m-4-4v8M512.5 308.5h8m-4-4v8M881.5 294.5h8m-4-4v8M753.5 273.5h8m-4-4v8M62.5 270.5h8m-4-4v8M118.5 259.5h8m-4-4v8M988.5 330.5h8m-4-4v8M621.5 249.5h8m-4-4v8M395.5 269.5h8m-4-4v8M816.5 296.5h8m-4-4v8M579.5 288.5h8m-4-4v8M609.5 267.5h8m-4-4v8M295.5 212.5h8m-4-4v8M764.5 269.5h8m-4-4v8M267.5 235.5h8m-4-4v8M201.5 280.5h8m-4-4v8M817.5 306.5h8m-4-4v8M335.5 262.5h8m-4-4v8M344.5 258.5h8m-4-4v8M210.5 282.5h8m-4-4v8M616.5 248.5h8m-4-4v8M758.5 265.5h8m-4-4v8M193.5 274.5h8m-4-4v8M559.5 285.5h8m-4-4v8M563.5 264.5h8m-4-4v8M173.5 292.5h8m-4-4v8M555.5 255.5h8m-4-4v8M315.5 249.5h8m-4-4v8M255.5 253.5h8m-4-4v8M983.5 328.5h8m-4-4v8M154.5 280.5h8m-4-4v8M384.5 261.5h8m-4-4v8M629.5 280.5h8m-4-4v8M442.5 255.5h8m-4-4v8M76.5 251.5h8m-4-4v8M855.5 314.5h8m-4-4v8M288.5 221.5h8m-4-4v8M448.5 257.5h8m-4-4v8M892.5 295.5h8m-4-4v8M967.5 292.5h8m-4-4v8M898.5 318.5h8m-4-4v8M447.5 273.5h8m-4-4v8M735.5 268.5h8m-4-4v8M835.5 326.5h8m-4-4v8M253.5 235.5h8m-4-4v8M967.5 313.5h8m-4-4v8M167.5 292.5h8m-4-4v8M661.5 264.5h8m-4-4v8M287.5 257.5h8m-4-4v8M267.5 242.5h8m-4-4v8M201.5 258.5h8m-4-4v8M936.5 305.5h8m-4-4v8M195.5 286.5h8m-4-4v8M896.5 300.5h8m-4-4v8M225.5 258.5h8m-4-4v8M368.5 267.5h8m-4-4v8M264.5 263.5h8m-4-4v8M984.5 308.5h8m-4-4v8M850.5 318.5h8m-4-4v8M342.5 253.5h8m-4-4v8M949.5 323.5h8m-4-4v8M741.5 274.5h8m-4-4v8M307.5 229.5h8m-4-4v8M540.5 279.5h8m-4-4v8M220.5 281.5h8m-4-4v8M444.5 262.5h8m-4-4v8M609.5 262.5h8m-4-4v8M315.5 230.5h8m-4-4v8M71.5 270.5h8m-4-4v8M931.5 305.5h8m-4-4v8M192.5 263.5h8m-4-4v8M367.5 241.5h8m-4-4v8M85.5 266.5h8m-4-4v8M425.5 281.5h8m-4-4v8M440.5 274.5h8m-4-4v8M558.5 289.5h8m-4-4v8M363.5 242.5h8m-4-4v8M295.5 243.5h8m-4-4v8M772.5 291.5h8m-4-4v8M322.5 246.5h8m-4-4v8M371.5 258.5h8m-4-4v8M521.5 289.5h8m-4-4v8M317.5 234.5h8m-4-4v8M720.5 251.5h8m-4-4v8M148.5 291.5h8m-4-4v8M363.5 265.5h8m-4-4v8M455.5 283.5h8m-4-4v8M302.5 237.5h8m-4-4v8M825.5 300.5h8m-4-4v8M397.5 268.5h8m-4-4v8M455.5 262.5h8m-4-4v8M500.5 302.5h8m-4-4v8M815.5 307.5h8m-4-4v8M271.5 250.5h8m-4-4v8M813.5 299.5h8m-4-4v8M944.5 323.5h8m-4-4v8M309.5 232.5h8m-4-4v8M775.5 299.5h8m-4-4v8M353.5 258.5h8m-4-4v8M279.5 235.5h8m-4-4v8M142.5 268.5h8m-4-4v8M624.5 270.5h8m-4-4v8M928.5 309.5h8m-4-4v8M869.5 295.5h8m-4-4v8M606.5 285.5h8m-4-4v8M470.5 275.5h8m-4-4v8M975.5 303.5h8m-4-4v8M663.5 253.5h8m-4-4v8M953.5 310.5h8m-4-4v8M691.5 273.5h8m-4-4v8M697.5 248.5h8m-4-4v8M193.5 267.5h8m-4-4v8M297.5 218.5h8m-4-4v8M130.5 271.5h8m-4-4v8M922.5 307.5h8m-4-4v8M988.5 333.5h8m-4-4v8M617.5 249.5h8m-4-4v8M216.5 253.5h8m-4-4v8M192.5 283.5h8m-4-4v8M477.5 271.5h8m-4-4v8M432.5 254.5h8m-4-4v8M252.5 260.5h8m-4-4v8M153.5 288.5h8m-4-4v8M652.5 263.5h8m-4-4v8M778.5 297.5h8m-4-4v8M126.5 255.5h8m-4-4v8M351.5 266.5h8m-4-4v8M342.5 254.5h8m-4-4v8M565.5 287.5h8m-4-4v8M617.5 243.5h8m-4-4v8M447.5 269.5h8m-4-4v8M855.5 306.5h8m-4-4v8M432.5 257.5h8m-4-4v8M345.5 251.5h8m-4-4v8M754.5 274.5h8m-4-4v8M828.5 315.5h8m-4-4v8M866.5 305.5h8m-4-4v8M228.5 259.5h8m-4-4v8M494.5 280.5h8m-4-4v8M964.5 300.5h8m-4-4v8M630.5 284.5h8m-4-4v8M366.5 259.5h8m-4-4v8M986.5 297.5h8m-4-4v8M241.5 252.5h8m-4-4v8M580.5 293.5h8m-4-4v8M678.5 269.5h8m-4-4v8M795.5 287.5h8m-4-4v8M798.5 312.5h8m-4-4v8M428.5 283.5h8m-4-4v8M314.5 246.5h8m-4-4v8M979.5 298.5h8m-4-4v8M575.5 274.5h8m-4-4v8M325.5 252.5h8m-4-4v8M202.5 264.5h8m-4-4v8M789.5 307.5h8m-4-4v8M835.5 314.5h8m-4-4v8M590.5 271.5h8m-4-4v8M426.5 281.5h8m-4-4v8M662.5 252.5h8m-4-4v8M979.5 312.5h8m-4-4v8M597.5 273.5h8m-4-4v8M773.5 274.5h8m-4-4v8M870.5 298.5h8m-4-4v8M745.5 252.5h8m-4-4v8M516.5 296.5h8m-4-4v8M237.5 267.5h8m-4-4v8M697.5 243.5h8m-4-4v8M816.5 310.5h8m-4-4v8M959.5 294.5h8m-4-4v8M181.5 270.5h8m-4-4v8M644.5 244.5h8m-4-4v8M811.5 312.5h8m-4-4v8M140.5 266.5h8m-4-4v8M624.5 284.5h8m-4-4v8M309.5 235.5h8m-4-4v8M991.5 329.5h8m-4-4v8M406.5 266.5h8m-4-4v8M146.5 274.5h8m-4-4v8M769.5 280.5h8m-4-4v8M342.5 263.5h8m-4-4v8M454.5 250.5h8m-4-4v8M196.5 288.5h8m-4-4v8M370.5 262.5h8m-4-4v8M199.5 284.5h8m-4-4v8M301.5 219.5h8m-4-4v8M341.5 257.5h8m-4-4v8M670.5 275.5h8m-4-4v8M886.5 307.5h8m-4-4v8M596.5 284.5h8m-4-4v8M89.5 273.5h8m-4-4v8M956.5 308.5h8m-4-4v8M387.5 261.5h8m-4-4v8M552.5 266.5h8m-4-4v8M629.5 285.5h8m-4-4v8M382.5 252.5h8m-4-4v8M471.5 281.5h8m-4-4v8M636.5 271.5h8m-4-4v8M489.5 310.5h8m-4-4v8M326.5 227.5h8m-4-4v8M447.5 260.5h8m-4-4v8M427.5 287.5h8m-4-4v8M334.5 260.5h8m-4-4v8M614.5 248.5h8m-4-4v8M542.5 301.5h8m-4-4v8M448.5 268.5h8m-4-4v8M707.5 266.5h8m-4-4v8M797.5 285.5h8m-4-4v8M654.5 243.5h8m-4-4v8M381.5 271.5h8m-4-4v8M928.5 317.5h8m-4-4v8M170.5 296.5h8m-4-4v8M791.5 292.5h8m-4-4v8M455.5 259.5h8m-4-4v8M436.5 251.5h8m-4-4v8M829.5 315.5h8m-4-4v8M659.5 274.5h8m-4-4v8M972.5 311.5h8m-4-4v8M867.5 309.5h8m-4-4v8M533.5 292.5h8m-4-4v8M755.5 288.5h8m-4-4v8M146.5 281.5h8m-4-4v8M987.5 335.5h8m-4-4v8M288.5 248.5h8m-4-4v8M184.5 283.5h8m-4-4v8M332.5 265.5h8m-4-4v8M385.5 264.5h8m-4-4v8M329.5 256.5h8m-4-4v8M464.5 262.5h8m-4-4v8M818.5 316.5h8m-4-4v8M546.5 270.5h8m-4-4v8M606.5 250.5h8m-4-4v8M176.5 284.5h8m-4-4v8M128.5 270.5h8m-4-4v8M948.5 305.5h8m-4-4v8M388.5 270.5h8m-4-4v8M943.5 313.5h8m-4-4v8M375.5 263.5h8m-4-4v8M154.5 286.5h8m-4-4v8M136.5 260.5h8m-4-4v8M472.5 262.5h8m-4-4v8M194.5 280.5h8m-4-4v8M338.5 259.5h8m-4-4v8M252.5 260.5h8m-4-4v8M354.5 252.5h8m-4-4v8M488.5 283.5h8m-4-4v8M352.5 270.5h8m-4-4v8M374.5 264.5h8m-4-4v8M516.5 307.5h8m-4-4v8M686.5 248.5h8m-4-4v8M101.5 272.5h8m-4-4v8M990.5 316.5h8m-4-4v8M463.5 253.5h8m-4-4v8M908.5 306.5h8m-4-4v8M64.5 254.5h8m-4-4v8M119.5 267.5h8m-4-4v8M164.5 294.5h8m-4-4v8M896.5 311.5h8m-4-4v8M448.5 261.5h8m-4-4v8M833.5 324.5h8m-4-4v8M695.5 263.5h8m-4-4v8M152.5 290.5h8m-4-4v8M406.5 269.5h8m-4-4v8M371.5 246.5h8m-4-4v8M485.5 291.5h8m-4-4v8M743.5 262.5h8m-4-4v8M147.5 270.5h8m-4-4v8M913.5 303.5h8m-4-4v8M507.5 307.5h8m-4-4v8M410.5 272.5h8m-4-4v8M698.5 253.5h8m-4-4v8M320.5 245.5h8m-4-4v8M709.5 261.5h8m-4-4v8M451.5 251.5h8m-4-4v8M508.5 309.5h8m-4-4v8M247.5 270.5h8m-4-4v8M258.5 254.5h8m-4-4v8M850.5 322.5h8m-4-4v8M595.5 272.5h8m-4-4v8M456.5 260.5h8m-4-4v8M762.5 265.5h8m-4-4v8M896.5 312.5h8m-4-4v8M218.5 259.5h8m-4-4v8M991.5 326.5h8m-4-4v8M72.5 258.5h8m-4-4v8M624.5 266.5h8m-4-4v8M307.5 250.5h8m-4-4v8M297.5 217.5h8m-4-4v8M524.5 294.5h8m-4-4v8M617.5 269.5h8m-4-4v8M468.5 267.5h8m-4-4v8M947.5 303.5h8m-4-4v8M228.5 250.5h8m-4-4v8M286.5 252.5h8m-4-4v8M620.5 251.5h8m-4-4v8M446.5 259.5h8m-4-4v8M356.5 245.5h8m-4-4v8M534.5 298.5h8m-4-4v8M892.5 306.5h8m-4-4v8M934.5 318.5h8m-4-4v8M803.5 290.5h8m-4-4v8M388.5 261.5h8m-4-4v8M871.5 299.5h8m-4-4v8M707.5 252.5h8m-4-4v8M234.5 257.5h8m-4-4v8M950.5 307.5h8m-4-4v8M293.5 243.5h8m-4-4v8M686.5 251.5h8m-4-4v8M695.5 251.5h8m-4-4v8M892.5 322.5h8m-4-4v8M669.5 265.5h8m-4-4v8M981.5 290.5h8m-4-4v8M122.5 273.5h8m-4-4v8M98.5 251.5h8m-4-4v8M252.5 251.5h8m-4-4v8M458.5 284.5h8m-4-4v8M146.5 287.5h8m-4-4v8M257.5 270.5h8m-4-4v8M598.5 273.5h8m-4-4v8M441.5 287.5h8m-4-4v8M751.5 260.5h8m-4-4v8M498.5 290.5h8m-4-4v8M866.5 320.5h8m-4-4v8M747.5 274.5h8m-4-4v8M524.5 311.5h8m-4-4v8M402.5 254.5h8m-4-4v8M266.5 244.5h8m-4-4v8M335.5 261.5h8m-4-4v8M398.5 252.5h8m-4-4v8M406.5 266.5h8m-4-4v8M238.5 274.5h8m-4-4v8M504.5 281.5h8m-4-4v8M179.5 292.5h8m-4-4v8M858.5 324.5h8m-4-4v8M367.5 266.5h8m-4-4v8M300.5 228.5h8m-4-4v8M216.5 272.5h8m-4-4v8M511.5 287.5h8m-4-4v8M242.5 269.5h8m-4-4v8M212.5 283.5h8m-4-4v8M462.5 286.5h8m-4-4v8M675.5 255.5h8m-4-4v8M501.5 307.5h8m-4-4v8M534.5 292.5h8m-4-4v8M352.5 243.5h8m-4-4v8M511.5 313.5h8m-4-4v8M382.5 249.5h8m-4-4v8M810.5 299.5h8m-4-4v8M293.5 233.5h8m-4-4v8M272.5 259.5h8m-4-4v8M385.5 259.5h8m-4-4v8M772.5 270.5h8m-4-4v8M834.5 321.5h8m-4-4v8M586.5 288.5h8m-4-4v8M405.5 256.5h8m-4-4v8M811.5 320.5h8m-4-4v8M290.5 232.5h8m-4-4v8M707.5 268.5h8m-4-4v8M431.5 289.5h8m-4-4v8M619.5 254.5h8m-4-4v8M263.5 257.5h8m-4-4v8M412.5 265.5h8m-4-4v8M567.5 271.5h8m-4-4v8M959.5 289.5h8m-4-4v8M208.5 253.5h8m-4-4v8M138.5 259.5h8m-4-4v8M937.5 314.5h8m-4-4v8M105.5 267.5h8m-4-4v8M648.5 268.5h8m-4-4v8M87.5 259.5h8m-4-4v8M573.5 272.5h8m-4-4v8M187.5 284.5h8m-4-4v8M662.5 274.5h8m-4-4v8M405.5 273.5h8m-4-4v8M658.5 265.5h8m-4-4v8M302.5 252.5h8m-4-4v8M139.5 287.5h8m-4-4v8M317.5 232.5h8m-4-4v8M224.5 273.5h8m-4-4v8M254.5 239.5h8m-4-4v8M566.5 292.5h8m-4-4v8M469.5 273.5h8m-4-4v8M809.5 294.5h8m-4-4v8M527.5 290.5h8m-4-4v8M707.5 270.5h8m-4-4v8M841.5 313.5h8m-4-4v8M602.5 267.5h8m-4-4v8M97.5 280.5h8m-4-4v8M491.5 304.5h8m-4-4v8M92.5 271.5h8m-4-4v8M617.5 255.5h8m-4-4v8M129.5 260.5h8m-4-4v8M211.5 254.5h8m-4-4v8M843.5 322.5h8m-4-4v8M158.5 289.5h8m-4-4v8M702.5 251.5h8m-4-4v8M318.5 234.5h8m-4-4v8M609.5 254.5h8m-4-4v8M369.5 255.5h8m-4-4v8M302.5 240.5h8m-4-4v8M303.5 233.5h8m-4-4v8M74.5 274.5h8m-4-4v8M676.5 269.5h8m-4-4v8M253.5 275.5h8m-4-4v8M151.5 289.5h8m-4-4v8M789.5 282.5h8m-4-4v8M555.5 265.5h8m-4-4v8M499.5 281.5h8m-4-4v8M601.5 266.5h8m-4-4v8M793.5 292.5h8m-4-4v8M634.5 267.5h8m-4-4v8M543.5 287.5h8m-4-4v8M354.5 246.5h8m-4-4v8M546.5 298.5h8m-4-4v8M984.5 308.5h8m-4-4v8M590.5 254.5h8m-4-4v8M507.5 296.5h8m-4-4v8M875.5 303.5h8m-4-4v8M116.5 257.5h8m-4-4v8M127.5 269.5h8m-4-4v8M776.5 283.5h8m-4-4v8M936.5 319.5h8m-4-4v8M111.5 270.5h8m-4-4v8M67.5 259.5h8m-4-4v8M596.5 253.5h8m-4-4v8M202.5 260.5h8m-4-4v8M582.5 284.5h8m-4-4v8M666.5 259.5h8m-4-4v8M74.5 266.5h8m-4-4v8M859.5 305.5h8m-4-4v8M297.5 248.5h8m-4-4v8M576.5 274.5h8m-4-4v8M397.5 256.5h8m-4-4v8M384.5 270.5h8m-4-4v8M60.5 266.5h8m-4-4v8M462.5 283.5h8m-4-4v8M308.5 247.5h8m-4-4v8M401.5 251.5h8m-4-4v8M222.5 279.5h8m-4-4v8M374.5 249.5h8m-4-4v8M699.5 270.5h8m-4-4v8M982.5 302.5h8m-4-4v8M253.5 247.5h8m-4-4v8M856.5 315.5h8m-4-4v8M625.5 254.5h8m-4-4v8M166.5 293.5h8m-4-4v8M73.5 257.5h8m-4-4v8M871.5 316.5h8m-4-4v8M284.5 226.5h8m-4-4v8M173.5 274.5h8m-4-4v8M659.5 246.5h8m-4-4v8M705.5 261.5h8m-4-4v8M880.5 304.5h8m-4-4v8M530.5 307.5h8m-4-4v8M353.5 254.5h8m-4-4v8M358.5 256.5h8m-4-4v8M259.5 254.5h8m-4-4v8M643.5 250.5h8m-4-4v8M936.5 311.5h8m-4-4v8M148.5 288.5h8m-4-4v8M428.5 289.5h8m-4-4v8M394.5 261.5h8m-4-4v8M144.5 267.5h8m-4-4v8M610.5 280.5h8m-4-4v8M981.5 312.5h8m-4-4v8M320.5 225.5h8m-4-4v8M721.5 248.5h8m-4-4v8M885.5 311.5h8m-4-4v8M314.5 227.5h8m-4-4v8M903.5 310.5h8m-4-4v8M739.5 291.5h8m-4-4v8M651.5 264.5h8m-4-4v8M251.5 255.5h8m-4-4v8M320.5 248.5h8m-4-4v8M167.5 285.5h8m-4-4v8M881.5 319.5h8m-4-4v8M150.5 290.5h8m-4-4v8M556.5 258.5h8m-4-4v8M266.5 238.5h8m-4-4v8M753.5 274.5h8m-4-4v8M940.5 306.5h8m-4-4v8M720.5 273.5h8m-4-4v8M166.5 284.5h8m-4-4v8M416.5 280.5h8m-4-4v8M595.5 265.5h8m-4-4v8M895.5 302.5h8m-4-4v8M415.5 272.5h8m-4-4v8M246.5 265.5h8m-4-4v8M326.5 250.5h8m-4-4v8M294.5 226.5h8m-4-4v8M215.5 272.5h8m-4-4v8M384.5 254.5h8m-4-4v8M295.5 242.5h8m-4-4v8M540.5 292.5h8m-4-4v8M880.5 322.5h8m-4-4v8M951.5 318.5h8m-4-4v8M219.5 252.5h8m-4-4v8M677.5 263.5h8m-4-4v8M213.5 261.5h8m-4-4v8M556.5 260.5h8m-4-4v8M255.5 262.5h8m-4-4v8M408.5 281.5h8m-4-4v8M364.5 254.5h8m-4-4v8M799.5 297.5h8m-4-4v8M284.5 234.5h8m-4-4v8M563.5 284.5h8m-4-4v8M603.5 287.5h8m-4-4v8M369.5 255.5h8m-4-4v8M917.5 312.5h8m-4-4v8M371.5 247.5h8m-4-4v8M365.5 249.5h8m-4-4v8M694.5 256.5h8m-4-4v8M517.5 298.5h8m-4-4v8M719.5 248.5h8m-4-4v8M213.5 263.5h8m-4-4v8M209.5 252.5h8m-4-4v8M728.5 258.5h8m-4-4v8M845.5 328.5h8m-4-4v8M284.5 230.5h8m-4-4v8M288.5 245.5h8m-4-4v8M852.5 310.5h8m-4-4v8M406.5 280.5h8m-4-4v8M272.5 231.5h8m-4-4v8M757.5 290.5h8m-4-4v8M308.5 233.5h8m-4-4v8M577.5 268.5h8m-4-4v8M820.5 309.5h8m-4-4v8M742.5 268.5h8m-4-4v8M976.5 303.5h8m-4-4v8M341.5 261.5h8m-4-4v8M865.5 299.5h8m-4-4v8M573.5 291.5h8m-4-4v8M256.5 262.5h8m-4-4v8M367.5 252.5h8m-4-4v8M202.5 294.5h8m-4-4v8M759.5 264.5h8m-4-4v8M579.5 260.5h8m-4-4v8M103.5 275.5h8m-4-4v8M867.5 320.5h8m-4-4v8M611.5 247.5h8m-4-4v8M474.5 287.5h8m-4-4v8M204.5 270.5h8m-4-4v8M501.5 291.5h8m-4-4v8M901.5 315.5h8m-4-4v8M602.5 266.5h8m-4-4v8M491.5 284.5h8m-4-4v8M619.5 260.5h8m-4-4v8M573.5 262.5h8m-4-4v8M633.5 267.5h8m-4-4v8M254.5 259.5h8m-4-4v8M210.5 253.5h8m-4-4v8M70.5 262.5h8m-4-4v8M816.5 309.5h8m-4-4v8M59.5 251.5h8m-4-4v8M300.5 222.5h8m-4-4v8M603.5 252.5h8m-4-4v8M529.5 301.5h8m-4-4v8M886.5 311.5h8m-4-4v8M266.5 230.5h8m-4-4v8M182.5 284.5h8m-4-4v8M528.5 287.5h8m-4-4v8M334.5 260.5h8m-4-4v8M487.5 288.5h8m-4-4v8M690.5 247.5h8m-4-4v8M361.5 268.5h8m-4-4v8M668.5 264.5h8m-4-4v8M78.5 273.5h8m-4-4v8M568.5 290.5h8m-4-4v8M891.5 298.5h8m-4-4v8M924.5 321.5h8m-4-4v8M592.5 286.5h8m-4-4v8M981.5 289.5h8m-4-4v8M285.5 258.5h8m-4-4v8M340.5 261.5h8m-4-4v8M539.5 298.5h8m-4-4v8M803.5 311.5h8m-4-4v8M478.5 295.5h8m-4-4v8M699.5 261.5h8m-4-4v8M274.5 233.5h8m-4-4v8M870.5 305.5h8m-4-4v8M265.5 241.5h8m-4-4v8M338.5 261.5h8m-4-4v8M201.5 263.5h8m-4-4v8M344.5 258.5h8m-4-4v8M614.5 252.5h8m-4-4v8M310.5 237.5h8m-4-4v8M107.5 272.5h8m-4-4v8M604.5 280.5h8m-4-4v8M727.5 248.5h8m-4-4v8M176.5 283.5h8m-4-4v8M458.5 261.5h8m-4-4v8M133.5 267.5h8m-4-4v8M75.5 269.5h8m-4-4v8M329.5 238.5h8m-4-4v8M864.5 304.5h8m-4-4v8M71.5 273.5h8m-4-4v8M652.5 255.5h8m-4-4v8M726.5 270.5h8m-4-4v8M452.5 249.5h8m-4-4v8M530.5 303.5h8m-4-4v8M293.5 222.5h8m-4-4v8M297.5 240.5h8m-4-4v8M114.5 255.5h8m-4-4v8M890.5 319.5h8m-4-4v8M88.5 269.5h8m-4-4v8M718.5 260.5h8m-4-4v8M490.5 304.5h8m-4-4v8M542.5 292.5h8m-4-4v8M337.5 261.5h8m-4-4v8M221.5 263.5h8m-4-4v8M785.5 273.5h8m-4-4v8M338.5 266.5h8m-4-4v8M340.5 242.5h8m-4-4v8M948.5 299.5h8m-4-4v8M234.5 253.5h8m-4-4v8M561.5 265.5h8m-4-4v8M530.5 293.5h8m-4-4v8M761.5 291.5h8m-4-4v8M105.5 255.5h8m-4-4v8M568.5 287.5h8m-4-4v8M776.5 281.5h8m-4-4v8M110.5 274.5h8m-4-4v8M569.5 270.5h8m-4-4v8M472.5 272.5h8m-4-4v8M442.5 254.5h8m-4-4v8M561.5 264.5h8m-4-4v8M702.5 268.5h8m-4-4v8M883.5 295.5h8m-4-4v8M660.5 270.5h8m-4-4v8M991.5 338.5h8m-4-4v8M667.5 272.5h8m-4-4v8M312.5 232.5h8m-4-4v8M135.5 269.5h8m-4-4v8M311.5 243.5h8m-4-4v8M187.5 291.5h8m-4-4v8M692.5 247.5h8m-4-4v8M623.5 259.5h8m-4-4v8M425.5 257.5h8m-4-4v8M495.5 313.5h8m-4-4v8M303.5 252.5h8m-4-4v8M902.5 316.5h8m-4-4v8M74.5 267.5h8m-4-4v8M360.5 244.5h8m-4-4v8M592.5 263.5h8m-4-4v8M240.5 249.5h8m-4-4v8M842.5 313.5h8m-4-4v8M510.5 286.5h8m-4-4v8M414.5 255.5h8m-4-4v8M126.5 252.5h8m-4-4v8M324.5 239.5h8m-4-4v8M606.5 254.5h8m-4-4v8M324.5 226.5h8m-4-4v8M104.5 280.5h8m-4-4v8M345.5 271.5h8m-4-4v8M833.5 323.5h8m-4-4v8M716.5 267.5h8m-4-4v8M876.5 309.5h8m-4-4v8M795.5 292.5h8m-4-4v8M368.5 251.5h8m-4-4v8M589.5 254.5h8m-4-4v8M302.5 242.5h8m-4-4v8M257.5 246.5h8m-4-4v8M260.5 259.5h8m-4-4v8M178.5 295.5h8m-4-4v8M288.5 250.5h8m-4-4v8M276.5 246.5h8m-4-4v8M676.5 268.5h8m-4-4v8M297.5 249.5h8m-4-4v8M105.5 262.5h8m-4-4v8M456.5 271.5h8m-4-4v8M256.5 258.5h8m-4-4v8M691.5 265.5h8m-4-4v8M273.5 240.5h8m-4-4v8M235.5 263.5h8m-4-4v8M512.5 310.5h8m-4-4v8M856.5 331.5h8m-4-4v8M345.5 241.5h8m-4-4v8M553.5 285.5h8m-4-4v8M470.5 270.5h8m-4-4v8M135.5 270.5h8m-4-4v8M79.5 265.5h8m-4-4v8M828.5 321.5h8m-4-4v8M380.5 257.5h8m-4-4v8M689.5 257.5h8m-4-4v8M448.5 270.5h8m-4-4v8M824.5 325.5h8m-4-4v8M252.5 253.5h8m-4-4v8M514.5 298.5h8m-4-4v8M780.5 303.5h8m-4-4v8M89.5 255.5h8m-4-4v8M407.5 271.5h8m-4-4v8M506.5 301.5h8m-4-4v8M606.5 283.5h8m-4-4v8M204.5 266.5h8m-4-4v8M695.5 251.5h8m-4-4v8M725.5 258.5h8m-4-4v8M276.5 232.5h8m-4-4v8M472.5 264.5h8m-4-4v8M340.5 252.5h8m-4-4v8M429.5 262.5h8m-4-4v8M407.5 265.5h8m-4-4v8M940.5 309.5h8m-4-4v8M71.5 257.5h8m-4-4v8M944.5 310.5h8m-4-4v8M93.5 269.5h8m-4-4v8M260.5 269.5h8m-4-4v8M330.5 238.5h8m-4-4v8M846.5 326.5h8m-4-4v8M827.5 301.5h8m-4-4v8M924.5 308.5h8m-4-4v8M431.5 251.5h8m-4-4v8M74.5 263.5h8m-4-4v8M636.5 254.5h8m-4-4v8M884.5 291.5h8m-4-4v8M174.5 288.5h8m-4-4v8M812.5 312.5h8m-4-4v8M58.5 253.5h8m-4-4v8M725.5 267.5h8m-4-4v8M523.5 299.5h8m-4-4v8M892.5 319.5h8m-4-4v8M864.5 319.5h8m-4-4v8M105.5 271.5h8m-4-4v8M528.5 315.5h8m-4-4v8M290.5 226.5h8m-4-4v8M471.5 269.5h8m-4-4v8M130.5 271.5h8m-4-4v8M405.5 272.5h8m-4-4v8M445.5 250.5h8m-4-4v8M60.5 250.5h8m-4-4v8M505.5 289.5h8m-4-4v8M880.5 324.5h8m-4-4v8M123.5 253.5h8m-4-4v8M939.5 303.5h8m-4-4v8M519.5 314.5h8m-4-4v8M264.5 236.5h8m-4-4v8M966.5 297.5h8m-4-4v8M504.5 309.5h8m-4-4v8M468.5 266.5h8m-4-4v8M420.5 256.5h8m-4-4v8M869.5 308.5h8m-4-4v8M196.5 285.5h8m-4-4v8M264.5 236.5h8m-4-4v8M326.5 234.5h8m-4-4v8M126.5 259.5h8m-4-4v8M830.5 301.5h8m-4-4v8M518.5 307.5h8m-4-4v8M615.5 242.5h8m-4-4v8M872.5 299.5h8m-4-4v8M524.5 299.5h8m-4-4v8M319.5 247.5h8m-4-4v8M556.5 254.5h8m-4-4v8M530.5 314.5h8m-4-4v8M341.5 256.5h8m-4-4v8M283.5 230.5h8m-4-4v8M401.5 255.5h8m-4-4v8M727.5 266.5h8m-4-4v8M224.5 252.5h8m-4-4v8M989.5 297.5h8m-4-4v8M285.5 261.5h8m-4-4v8M316.5 250.5h8m-4-4v8M190.5 283.5h8m-4-4v8M432.5 279.5h8m-4-4v8M416.5 258.5h8m-4-4v8M685.5 257.5h8m-4-4v8M881.5 290.5h8m-4-4v8M294.5 237.5h8m-4-4v8M350.5 243.5h8m-4-4v8M444.5 288.5h8m-4-4v8M195.5 261.5h8m-4-4v8M878.5 325.5h8m-4-4v8M417.5 273.5h8m-4-4v8M700.5 260.5h8m-4-4v8M86.5 254.5h8m-4-4v8M697.5 256.5h8m-4-4v8M278.5 241.5h8m-4-4v8M484.5 298.5h8m-4-4v8M677.5 280.5h8m-4-4v8M230.5 259.5h8m-4-4v8M553.5 252.5h8m-4-4v8M821.5 324.5h8m-4-4v8M223.5 265.5h8m-4-4v8M499.5 293.5h8m-4-4v8M243.5 269.5h8m-4-4v8M519.5 302.5h8m-4-4v8M489.5 282.5h8m-4-4v8M846.5 311.5h8m-4-4v8M704.5 266.5h8m-4-4v8M376.5 250.5h8m-4-4v8M516.5 292.5h8m-4-4v8M677.5 270.5h8m-4-4v8M824.5 318.5h8m-4-4v8M686.5 280.5h8m-4-4v8M532.5 305.5h8m-4-4v8M199.5 280.5h8m-4-4v8M857.5 320.5h8m-4-4v8M325.5 234.5h8m-4-4v8M442.5 285.5h8m-4-4v8M872.5 313.5h8m-4-4v8M261.5 233.5h8m-4-4v8M897.5 307.5h8m-4-4v8M280.5 240.5h8m-4-4v8M151.5 268.5h8m-4-4v8M543.5 298.5h8m-4-4v8M781.5 298.5h8m-4-4v8M440.5 284.5h8m-4-4v8M829.5 323.5h8m-4-4v8M436.5 288.5h8m-4-4v8M799.5 287.5h8m-4-4v8M180.5 285.5h8m-4-4v8M326.5 238.5h8m-4-4v8M190.5 287.5h8m-4-4v8M501.5 282.5h8m-4-4v8M659.5 256.5h8m-4-4v8M287.5 226.5h8m-4-4v8M727.5 249.5h8m-4-4v8M987.5 303.5h8m-4-4v8M143.5 271.5h8m-4-4v8M359.5 249.5h8m-4-4v8M859.5 306.5h8m-4-4v8M839.5 324.5h8m-4-4v8M861.5 303.5h8m-4-4v8M278.5 237.5h8m-4-4v8M584.5 280.5h8m-4-4v8M463.5 274.5h8m-4-4v8M595.5 254.5h8m-4-4v8M302.5 251.5h8m-4-4v8M456.5 264.5h8m-4-4v8M410.5 281.5h8m-4-4v8M148.5 274.5h8m-4-4v8M133.5 273.5h8m-4-4v8M768.5 267.5h8m-4-4v8M59.5 257.5h8m-4-4v8M983.5 336.5h8m-4-4v8M882.5 292.5h8m-4-4v8M984.5 330.5h8m-4-4v8M772.5 280.5h8m-4-4v8M59.5 263.5h8m-4-4v8M359.5 250.5h8m-4-4v8M123.5 263.5h8m-4-4v8M900.5 298.5h8m-4-4v8M894.5 315.5h8m-4-4v8M754.5 264.5h8m-4-4v8M298.5 235.5h8m-4-4v8M840.5 324.5h8m-4-4v8M803.5 299.5h8m-4-4v8M363.5 242.5h8m-4-4v8M194.5 286.5h8m-4-4v8M200.5 292.5h8m-4-4v8M817.5 322.5h8m-4-4v8M140.5 270.5h8m-4-4v8M462.5 257.5h8m-4-4v8M397.5 258.5h8m-4-4v8M878.5 318.5h8m-4-4v8M213.5 283.5h8m-4-4v8M659.5 255.5h8m-4-4v8M363.5 267.5h8m-4-4v8M652.5 273.5h8m-4-4v8M806.5 295.5h8m-4-4v8M808.5 314.5h8m-4-4v8M832.5 312.5h8m-4-4v8M335.5 246.5h8m-4-4v8M319.5 241.5h8m-4-4v8M190.5 271.5h8m-4-4v8M300.5 235.5h8m-4-4v8M187.5 295.5h8m-4-4v8M771.5 274.5h8m-4-4v8M106.5 272.5h8m-4-4v8M249.5 258.5h8m-4-4v8M972.5 295.5h8m-4-4v8M426.5 286.5h8m-4-4v8M104.5 284.5h8m-4-4v8M793.5 295.5h8m-4-4v8M329.5 241.5h8m-4-4v8M760.5 267.5h8m-4-4v8M78.5 256.5h8m-4-4v8M95.5 268.5h8m-4-4v8M613.5 266.5h8m-4-4v8M687.5 250.5h8m-4-4v8M583.5 283.5h8m-4-4v8M557.5 271.5h8m-4-4v8M612.5 284.5h8m-4-4v8M197.5 271.5h8m-4-4v8M127.5 263.5h8m-4-4v8M391.5 268.5h8m-4-4v8M570.5 274.5h8m-4-4v8M295.5 245.5h8m-4-4v8M238.5 263.5h8m-4-4v8M477.5 274.5h8m-4-4v8M446.5 284.5h8m-4-4v8M312.5 250.5h8m-4-4v8M914.5 305.5h8m-4-4v8M937.5 310.5h8m-4-4v8M106.5 272.5h8m-4-4v8M510.5 286.5h8m-4-4v8M287.5 234.5h8m-4-4v8M375.5 246.5h8m-4-4v8M88.5 265.5h8m-4-4v8M144.5 272.5h8m-4-4v8M193.5 289.5h8m-4-4v8M654.5 253.5h8m-4-4v8M873.5 327.5h8m-4-4v8M312.5 239.5h8m-4-4v8M693.5 246.5h8m-4-4v8M949.5 305.5h8m-4-4v8M184.5 282.5h8m-4-4v8M581.5 259.5h8m-4-4v8M497.5 295.5h8m-4-4v8M351.5 249.5h8m-4-4v8M331.5 238.5h8m-4-4v8M150.5 280.5h8m-4-4v8M652.5 251.5h8m-4-4v8M254.5 243.5h8m-4-4v8M457.5 284.5h8m-4-4v8M915.5 312.5h8m-4-4v8M389.5 262.5h8m-4-4v8M356.5 242.5h8m-4-4v8M922.5 323.5h8m-4-4v8M601.5 272.5h8m-4-4v8M591.5 263.5h8m-4-4v8M274.5 252.5h8m-4-4v8M648.5 269.5h8m-4-4v8M422.5 271.5h8m-4-4v8M566.5 273.5h8m-4-4v8M437.5 253.5h8m-4-4v8M145.5 282.5h8m-4-4v8M866.5 297.5h8m-4-4v8M693.5 243.5h8m-4-4v8M954.5 311.5h8m-4-4v8M348.5 269.5h8m-4-4v8M325.5 253.5h8m-4-4v8M200.5 262.5h8m-4-4v8M347.5 267.5h8m-4-4v8M364.5 245.5h8m-4-4v8M243.5 249.5h8m-4-4v8M307.5 236.5h8m-4-4v8M336.5 259.5h8m-4-4v8M846.5 318.5h8m-4-4v8M477.5 294.5h8m-4-4v8M804.5 301.5h8m-4-4v8M109.5 265.5h8m-4-4v8M246.5 257.5h8m-4-4v8M949.5 302.5h8m-4-4v8M110.5 272.5h8m-4-4v8M134.5 256.5h8m-4-4v8M546.5 282.5h8m-4-4v8M332.5 244.5h8m-4-4v8M251.5 265.5h8m-4-4v8M620.5 258.5h8m-4-4v8M246.5 247.5h8m-4-4v8M562.5 272.5h8m-4-4v8M487.5 306.5h8m-4-4v8M833.5 321.5h8m-4-4v8M133.5 256.5h8m-4-4v8M283.5 226.5h8m-4-4v8M832.5 312.5h8m-4-4v8M965.5 308.5h8m-4-4v8M367.5 263.5h8m-4-4v8M762.5 295.5h8m-4-4v8M295.5 229.5h8m-4-4v8M944.5 304.5h8m-4-4v8M265.5 234.5h8m-4-4v8M62.5 275.5h8m-4-4v8M133.5 257.5h8m-4-4v8M491.5 297.5h8m-4-4v8M979.5 323.5h8m-4-4v8M640.5 262.5h8m-4-4v8M589.5 263.5h8m-4-4v8M636.5 284.5h8m-4-4v8M453.5 272.5h8m-4-4v8M873.5 329.5h8m-4-4v8M709.5 274.5h8m-4-4v8M463.5 274.5h8m-4-4v8M327.5 242.5h8m-4-4v8M206.5 250.5h8m-4-4v8M356.5 267.5h8m-4-4v8M396.5 258.5h8m-4-4v8M144.5 259.5h8m-4-4v8M911.5 318.5h8m-4-4v8M302.5 252.5h8m-4-4v8M563.5 281.5h8m-4-4v8M130.5 255.5h8m-4-4v8M574.5 272.5h8m-4-4v8M651.5 256.5h8m-4-4v8M144.5 266.5h8m-4-4v8M974.5 306.5h8m-4-4v8M223.5 273.5h8m-4-4v8M306.5 229.5h8m-4-4v8M728.5 262.5h8m-4-4v8M376.5 254.5h8m-4-4v8M865.5 306.5h8m-4-4v8M287.5 245.5h8m-4-4v8M355.5 266.5h8m-4-4v8M694.5 270.5h8m-4-4v8M848.5 330.5h8m-4-4v8M871.5 328.5h8m-4-4v8M331.5 269.5h8m-4-4v8M556.5 284.5h8m-4-4v8M447.5 263.5h8m-4-4v8M679.5 274.5h8m-4-4v8M278.5 261.5h8m-4-4v8M824.5 305.5h8m-4-4v8M710.5 257.5h8m-4-4v8M234.5 248.5h8m-4-4v8M355.5 270.5h8m-4-4v8M375.5 267.5h8m-4-4v8M918.5 305.5h8m-4-4v8M488.5 292.5h8m-4-4v8M626.5 265.5h8m-4-4v8M919.5 310.5h8m-4-4v8M436.5 266.5h8m-4-4v8M941.5 324.5h8m-4-4v8M335.5 251.5h8m-4-4v8M70.5 266.5h8m-4-4v8M168.5 291.5h8m-4-4v8M694.5 269.5h8m-4-4v8M424.5 254.5h8m-4-4v8M818.5 306.5h8m-4-4v8M557.5 285.5h8m-4-4v8M689.5 249.5h8m-4-4v8M395.5 260.5h8m-4-4v8M698.5 249.5h8m-4-4v8M420.5 272.5h8m-4-4v8M520.5 315.5h8m-4-4v8M829.5 303.5h8m-4-4v8M917.5 309.5h8m-4-4v8M392.5 249.5h8m-4-4v8M131.5 252.5h8m-4-4v8M828.5 321.5h8m-4-4v8M478.5 287.5h8m-4-4v8M967.5 305.5h8m-4-4v8M750.5 261.5h8m-4-4v8M837.5 307.5h8m-4-4v8M570.5 267.5h8m-4-4v8M710.5 245.5h8m-4-4v8M872.5 327.5h8m-4-4v8M599.5 263.5h8m-4-4v8M943.5 309.5h8m-4-4v8M437.5 266.5h8m-4-4v8M422.5 262.5h8m-4-4v8M647.5 280.5h8m-4-4v8M443.5 260.5h8m-4-4v8M705.5 244.5h8m-4-4v8M556.5 286.5h8m-4-4v8M734.5 280.5h8m-4-4v8M810.5 298.5h8m-4-4v8M588.5 268.5h8m-4-4v8M898.5 297.5h8m-4-4v8M768.5 296.5h8m-4-4v8M845.5 329.5h8m-4-4v8M78.5 252.5h8m-4-4v8M73.5 256.5h8m-4-4v8M643.5 261.5h8m-4-4v8M372.5 261.5h8m-4-4v8M862.5 327.5h8m-4-4v8M432.5 285.5h8m-4-4v8M735.5 288.5h8m-4-4v8M293.5 237.5h8m-4-4v8M885.5 319.5h8m-4-4v8M851.5 324.5h8m-4-4v8M411.5 269.5h8m-4-4v8M512.5 311.5h8m-4-4v8M385.5 255.5h8m-4-4v8M514.5 285.5h8m-4-4v8M961.5 310.5h8m-4-4v8M868.5 294.5h8m-4-4v8M355.5 266.5h8m-4-4v8M687.5 273.5h8m-4-4v8M944.5 307.5h8m-4-4v8M835.5 317.5h8m-4-4v8M783.5 303.5h8m-4-4v8M873.5 326.5h8m-4-4v8M148.5 261.5h8m-4-4v8M908.5 306.5h8m-4-4v8M980.5 321.5h8m-4-4v8M289.5 237.5h8m-4-4v8M641.5 251.5h8m-4-4v8M154.5 281.5h8m-4-4v8M615.5 253.5h8m-4-4v8M706.5 258.5h8m-4-4v8M736.5 260.5h8m-4-4v8M845.5 320.5h8m-4-4v8M336.5 267.5h8m-4-4v8M801.5 293.5h8m-4-4v8M283.5 248.5h8m-4-4v8M286.5 261.5h8m-4-4v8M762.5 291.5h8m-4-4v8M473.5 264.5h8m-4-4v8M823.5 317.5h8m-4-4v8M670.5 258.5h8m-4-4v8M829.5 304.5h8m-4-4v8M772.5 289.5h8m-4-4v8M868.5 294.5h8m-4-4v8M319.5 231.5h8m-4-4v8M399.5 274.5h8m-4-4v8M638.5 260.5h8m-4-4v8M765.5 288.5h8m-4-4v8M793.5 295.5h8m-4-4v8M347.5 268.5h8m-4-4v8M188.5 270.5h8m-4-4v8M733.5 259.5h8m-4-4v8M690.5 273.5h8m-4-4v8M320.5 234.5h8m-4-4v8M119.5 257.5h8m-4-4v8M82.5 264.5h8m-4-4v8M294.5 241.5h8m-4-4v8M317.5 239.5h8m-4-4v8M261.5 262.5h8m-4-4v8M110.5 264.5h8m-4-4v8M229.5 274.5h8m-4-4v8M392.5 271.5h8m-4-4v8M156.5 285.5h8m-4-4v8M260.5 257.5h8m-4-4v8M469.5 273.5h8m-4-4v8M835.5 310.5h8m-4-4v8M861.5 309.5h8m-4-4v8M193.5 265.5h8m-4-4v8M312.5 235.5h8m-4-4v8M678.5 263.5h8m-4-4v8M444.5 284.5h8m-4-4v8M590.5 272.5h8m-4-4v8M729.5 258.5h8m-4-4v8M662.5 263.5h8m-4-4v8M848.5 305.5h8m-4-4v8M149.5 271.5h8m-4-4v8M339.5 262.5h8m-4-4v8M95.5 258.5h8m-4-4v8M549.5 269.5h8m-4-4v8M625.5 285.5h8m-4-4v8M298.5 224.5h8m-4-4v8M117.5 266.5h8m-4-4v8M495.5 313.5h8m-4-4v8M227.5 252.5h8m-4-4v8M251.5 253.5h8m-4-4v8M424.5 282.5h8m-4-4v8M940.5 320.5h8m-4-4v8M404.5 268.5h8m-4-4v8M707.5 271.5h8m-4-4v8M416.5 259.5h8m-4-4v8M443.5 251.5h8m-4-4v8M203.5 256.5h8m-4-4v8M243.5 274.5h8m-4-4v8M758.5 266.5h8m-4-4v8M328.5 232.5h8m-4-4v8M984.5 332.5h8m-4-4v8M867.5 324.5h8m-4-4v8M307.5 248.5h8m-4-4v8M466.5 287.5h8m-4-4v8M460.5 286.5h8m-4-4v8M327.5 230.5h8m-4-4v8M159.5 290.5h8m-4-4v8M986.5 318.5h8m-4-4v8M285.5 229.5h8m-4-4v8M370.5 263.5h8m-4-4v8M897.5 302.5h8m-4-4v8M812.5 295.5h8m-4-4v8M554.5 274.5h8m-4-4v8M431.5 254.5h8m-4-4v8M618.5 274.5h8m-4-4v8M375.5 269.5h8m-4-4v8M953.5 305.5h8m-4-4v8M270.5 257.5h8m-4-4v8M804.5 288.5h8m-4-4v8M311.5 244.5h8m-4-4v8M654.5 281.5h8m-4-4v8M552.5 263.5h8m-4-4v8M549.5 272.5h8m-4-4v8M132.5 262.5h8m-4-4v8M968.5 309.5h8m-4-4v8M298.5 231.5h8m-4-4v8M400.5 268.5h8m-4-4v8M288.5 218.5h8m-4-4v8M651.5 256.5h8m-4-4v8M982.5 291.5h8m-4-4v8M441.5 262.5h8m-4-4v8M361.5 244.5h8m-4-4v8M391.5 260.5h8m-4-4v8M87.5 260.5h8m-4-4v8M153.5 268.5h8m-4-4v8M107.5 262.5h8m-4-4v8M363.5 253.5h8m-4-4v8M982.5 316.5h8m-4-4v8M204.5 262.5h8m-4-4v8M571.5 274.5h8m-4-4v8M261.5 267.5h8m-4-4v8M97.5 266.5h8m-4-4v8M822.5 311.5h8m-4-4v8M200.5 292.5h8m-4-4v8M801.5 288.5h8m-4-4v8M291.5 233.5h8m-4-4v8M254.5 268.5h8m-4-4v8M937.5 314.5h8m-4-4v8M251.5 250.5h8m-4-4v8M816.5 306.5h8m-4-4v8M348.5 246.5h8m-4-4v8M352.5 268.5h8m-4-4v8M379.5 266.5h8m-4-4v8M921.5 304.5h8m-4-4v8M892.5 316.5h8m-4-4v8M234.5 271.5h8m-4-4v8M718.5 256.5h8m-4-4v8M203.5 264.5h8m-4-4v8M341.5 272.5h8m-4-4v8M135.5 256.5h8m-4-4v8M653.5 274.5h8m-4-4v8M720.5 253.5h8m-4-4v8M761.5 286.5h8m-4-4v8M435.5 286.5h8m-4-4v8M236.5 271.5h8m-4-4v8M61.5 252.5h8m-4-4v8M471.5 285.5h8m-4-4v8M923.5 323.5h8m-4-4v8M480.5 280.5h8m-4-4v8M626.5 265.5h8m-4-4v8M900.5 320.5h8m-4-4v8M851.5 318.5h8m-4-4v8M731.5 254.5h8m-4-4v8M283.5 262.5h8m-4-4v8M739.5 261.5h8m-4-4v8M452.5 282.5h8m-4-4v8M704.5 267.5h8m-4-4v8M275.5 250.5h8m-4-4v8M934.5 304.5h8m-4-4v8M223.5 281.5h8m-4-4v8M777.5 302.5h8m-4-4v8M876.5 294.5h8m-4-4v8M854.5 313.5h8m-4-4v8M650.5 244.5h8m-4-4v8M616.5 261.5h8m-4-4v8M299.5 247.5h8m-4-4v8M368.5 259.5h8m-4-4v8M285.5 221.5h8m-4-4v8M472.5 286.5h8m-4-4v8M653.5 260.5h8m-4-4v8M722.5 264.5h8m-4-4v8M704.5 258.5h8m-4-4v8M388.5 272.5h8m-4-4v8M375.5 260.5h8m-4-4v8M751.5 280.5h8m-4-4v8M972.5 311.5h8m-4-4v8M273.5 250.5h8m-4-4v8M448.5 282.5h8m-4-4v8M319.5 230.5h8m-4-4v8M973.5 293.5h8m-4-4v8M75.5 270.5h8m-4-4v8M878.5 314.5h8m-4-4v8M755.5 288.5h8m-4-4v8M371.5 253.5h8m-4-4v8M684.5 256.5h8m-4-4v8M414.5 268.5h8m-4-4v8M644.5 280.5h8m-4-4v8M459.5 270.5h8m-4-4v8M899.5 302.5h8m-4-4v8M490.5 294.5h8m-4-4v8M797.5 304.5h8m-4-4v8M595.5 255.5h8m-4-4v8M964.5 301.5h8m-4-4v8M252.5 271.5h8m-4-4v8M892.5 316.5h8m-4-4v8M980.5 319.5h8m-4-4v8M836.5 304.5h8m-4-4v8M621.5 267.5h8m-4-4v8M632.5 259.5h8m-4-4v8M916.5 310.5h8m-4-4v8M465.5 256.5h8m-4-4v8M808.5 305.5h8m-4-4v8M762.5 270.5h8m-4-4v8M847.5 312.5h8m-4-4v8M472.5 281.5h8m-4-4v8M656.5 273.5h8m-4-4v8M156.5 290.5h8m-4-4v8M174.5 280.5h8m-4-4v8M727.5 249.5h8m-4-4v8M398.5 251.5h8m-4-4v8M892.5 309.5h8m-4-4v8M143.5 287.5h8m-4-4v8M232.5 264.5h8m-4-4v8M821.5 310.5h8m-4-4v8M453.5 281.5h8m-4-4v8M272.5 243.5h8m-4-4v8M768.5 273.5h8m-4-4v8M284.5 262.5h8m-4-4v8M972.5 289.5h8m-4-4v8M318.5 240.5h8m-4-4v8M847.5 309.5h8m-4-4v8M510.5 290.5h8m-4-4v8M926.5 323.5h8m-4-4v8M339.5 262.5h8m-4-4v8M911.5 313.5h8m-4-4v8M344.5 243.5h8m-4-4v8M480.5 299.5h8m-4-4v8M641.5 262.5h8m-4-4v8M576.5 264.5h8m-4-4v8M674.5 268.5h8m-4-4v8M697.5 244.5h8m-4-4v8M311.5 249.5h8m-4-4v8M66.5 261.5h8m-4-4v8M718.5 253.5h8m-4-4v8M614.5 250.5h8m-4-4v8M584.5 264.5h8m-4-4v8M525.5 292.5h8m-4-4v8M916.5 315.5h8m-4-4v8M339.5 245.5h8m-4-4v8M896.5 308.5h8m-4-4v8M695.5 270.5h8m-4-4v8M935.5 314.5h8m-4-4v8M214.5 265.5h8m-4-4v8M758.5 271.5h8m-4-4v8M316.5 231.5h8m-4-4v8M121.5 262.5h8m-4-4v8M464.5 286.5h8m-4-4v8M699.5 263.5h8m-4-4v8M327.5 235.5h8m-4-4v8M947.5 307.5h8m-4-4v8M58.5 262.5h8m-4-4v8M311.5 237.5h8m-4-4v8M381.5 256.5h8m-4-4v8M415.5 272.5h8m-4-4v8M342.5 264.5h8m-4-4v8M80.5 269.5h8m-4-4v8M263.5 258.5h8m-4-4v8M305.5 236.5h8m-4-4v8M420.5 258.5h8m-4-4v8M717.5 264.5h8m-4-4v8M473.5 286.5h8m-4-4v8M380.5 266.5h8m-4-4v8M219.5 282.5h8m-4-4v8M279.5 234.5h8m-4-4v8M886.5 311.5h8m-4-4v8M487.5 303.5h8m-4-4v8M354.5 252.5h8m-4-4v8M270.5 239.5h8m-4-4v8M865.5 313.5h8m-4-4v8M703.5 274.5h8m-4-4v8M695.5 250.5h8m-4-4v8M790.5 301.5h8m-4-4v8M289.5 246.5h8m-4-4v8M724.5 264.5h8m-4-4v8M136.5 268.5h8m-4-4v8M667.5 282.5h8m-4-4v8M362.5 243.5h8m-4-4v8M664.5 253.5h8m-4-4v8M278.5 247.5h8m-4-4v8M396.5 251.5h8m-4-4v8M673.5 260.5h8m-4-4v8M932.5 306.5h8m-4-4v8M380.5 272.5h8m-4-4v8M228.5 265.5h8m-4-4v8M192.5 270.5h8m-4-4v8M674.5 262.5h8m-4-4v8M880.5 296.5h8m-4-4v8M75.5 260.5h8m-4-4v8M385.5 252.5h8m-4-4v8M951.5 312.5h8m-4-4v8M198.5 258.5h8m-4-4v8M133.5 273.5h8m-4-4v8M755.5 272.5h8m-4-4v8M991.5 291.5h8m-4-4v8M761.5 287.5h8m-4-4v8M182.5 287.5h8m-4-4v8M445.5 268.5h8m-4-4v8M884.5 314.5h8m-4-4v8M743.5 291.5h8m-4-4v8M122.5 264.5h8m-4-4v8M485.5 305.5h8m-4-4v8M765.5 283.5h8m-4-4v8M566.5 266.5h8m-4-4v8M964.5 310.5h8m-4-4v8M977.5 293.5h8m-4-4v8M822.5 303.5h8m-4-4v8M592.5 256.5h8m-4-4v8M349.5 240.5h8m-4-4v8M219.5 261.5h8m-4-4v8M226.5 265.5h8m-4-4v8M647.5 267.5h8m-4-4v8M847.5 326.5h8m-4-4v8M898.5 297.5h8m-4-4v8M331.5 268.5h8m-4-4v8M373.5 266.5h8m-4-4v8M253.5 238.5h8m-4-4v8M566.5 260.5h8m-4-4v8M942.5 305.5h8m-4-4v8M746.5 274.5h8m-4-4v8M468.5 272.5h8m-4-4v8M219.5 258.5h8m-4-4v8M829.5 318.5h8m-4-4v8M881.5 301.5h8m-4-4v8M756.5 284.5h8m-4-4v8M335.5 264.5h8m-4-4v8M431.5 259.5h8m-4-4v8M601.5 253.5h8m-4-4v8M902.5 312.5h8m-4-4v8M290.5 217.5h8m-4-4v8M454.5 270.5h8m-4-4v8M123.5 268.5h8m-4-4v8M59.5 254.5h8m-4-4v8M291.5 247.5h8m-4-4v8M794.5 291.5h8m-4-4v8M679.5 270.5h8m-4-4v8M507.5 298.5h8m-4-4v8M308.5 237.5h8m-4-4v8M754.5 273.5h8m-4-4v8M517.5 300.5h8m-4-4v8M135.5 256.5h8m-4-4v8M637.5 274.5h8m-4-4v8M987.5 290.5h8m-4-4v8M137.5 266.5h8m-4-4v8M990.5 328.5h8m-4-4v8M165.5 293.5h8m-4-4v8M349.5 268.5h8m-4-4v8M975.5 310.5h8m-4-4v8M970.5 313.5h8m-4-4v8M715.5 257.5h8m-4-4v8M623.5 275.5h8m-4-4v8M437.5 255.5h8m-4-4v8M770.5 288.5h8m-4-4v8M643.5 258.5h8m-4-4v8M277.5 259.5h8m-4-4v8M520.5 289.5h8m-4-4v8M707.5 249.5h8m-4-4v8M729.5 271.5h8m-4-4v8M102.5 253.5h8m-4-4v8M93.5 267.5h8m-4-4v8M630.5 271.5h8m-4-4v8M466.5 258.5h8m-4-4v8M821.5 320.5h8m-4-4v8M969.5 307.5h8m-4-4v8M179.5 287.5h8m-4-4v8M422.5 269.5h8m-4-4v8M454.5 255.5h8m-4-4v8M569.5 261.5h8m-4-4v8M893.5 319.5h8m-4-4v8M614.5 260.5h8m-4-4v8M346.5 255.5h8m-4-4v8M665.5 262.5h8m-4-4v8M368.5 254.5h8m-4-4v8M577.5 282.5h8m-4-4v8M163.5 283.5h8m-4-4v8M585.5 284.5h8m-4-4v8M509.5 288.5h8m-4-4v8M651.5 248.5h8m-4-4v8M587.5 285.5h8m-4-4v8M592.5 259.5h8m-4-4v8M729.5 260.5h8m-4-4v8M199.5 285.5h8m-4-4v8M741.5 254.5h8m-4-4v8M634.5 273.5h8m-4-4v8M691.5 254.5h8m-4-4v8M438.5 286.5h8m-4-4v8M907.5 312.5h8m-4-4v8M811.5 311.5h8m-4-4v8M975.5 311.5h8m-4-4v8M492.5 288.5h8m-4-4v8M872.5 291.5h8m-4-4v8M861.5 320.5h8m-4-4v8M885.5 296.5h8m-4-4v8M799.5 305.5h8m-4-4v8M168.5 290.5h8m-4-4v8M199.5 295.5h8m-4-4v8M444.5 286.5h8m-4-4v8M557.5 261.5h8m-4-4v8M656.5 258.5h8m-4-4v8M585.5 282.5h8m-4-4v8M865.5 299.5h8m-4-4v8M786.5 301.5h8m-4-4v8M168.5 288.5h8m-4-4v8M379.5 254.5h8m-4-4v8M874.5 323.5h8m-4-4v8M744.5 270.5h8m-4-4v8M74.5 256.5h8m-4-4v8M636.5 280.5h8m-4-4v8M193.5 293.5h8m-4-4v8M533.5 289.5h8m-4-4v8M988.5 336.5h8m-4-4v8M139.5 259.5h8m-4-4v8M807.5 310.5h8m-4-4v8M514.5 300.5h8m-4-4v8M978.5 319.5h8m-4-4v8M848.5 331.5h8m-4-4v8M128.5 254.5h8m-4-4v8M649.5 261.5h8m-4-4v8M849.5 328.5h8m-4-4v8M322.5 237.5h8m-4-4v8M703.5 248.5h8m-4-4v8M299.5 233.5h8m-4-4v8M259.5 233.5h8m-4-4v8M371.5 247.5h8m-4-4v8M335.5 268.5h8m-4-4v8M959.5 313.5h8m-4-4v8M285.5 255.5h8m-4-4v8M458.5 251.5h8m-4-4v8M515.5 306.5h8m-4-4v8M693.5 259.5h8m-4-4v8M967.5 306.5h8m-4-4v8M624.5 264.5h8m-4-4v8M849.5 312.5h8m-4-4v8M197.5 293.5h8m-4-4v8M664.5 273.5h8m-4-4v8M231.5 268.5h8m-4-4v8M860.5 317.5h8m-4-4v8M611.5 254.5h8m-4-4v8M201.5 271.5h8m-4-4v8M837.5 326.5h8m-4-4v8M551.5 288.5h8m-4-4v8M515.5 288.5h8m-4-4v8M145.5 283.5h8m-4-4v8M891.5 312.5h8m-4-4v8M543.5 296.5h8m-4-4v8M853.5 312.5h8m-4-4v8M139.5 285.5h8m-4-4v8M683.5 268.5h8m-4-4v8M419.5 283.5h8m-4-4v8M560.5 256.5h8m-4-4v8M634.5 272.5h8m-4-4v8M810.5 299.5h8m-4-4v8M908.5 310.5h8m-4-4v8M226.5 260.5h8m-4-4v8M848.5 319.5h8m-4-4v8M185.5 270.5h8m-4-4v8M68.5 262.5h8m-4-4v8M343.5 250.5h8m-4-4v8M328.5 251.5h8m-4-4v8M758.5 269.5h8m-4-4v8M582.5 270.5h8m-4-4v8M429.5 261.5h8m-4-4v8M777.5 300.5h8m-4-4v8M927.5 305.5h8m-4-4v8M648.5 251.5h8m-4-4v8M850.5 314.5h8m-4-4v8M335.5 265.5h8m-4-4v8M989.5 293.5h8m-4-4v8M235.5 251.5h8m-4-4v8M104.5 274.5h8m-4-4v8M807.5 294.5h8m-4-4v8M233.5 255.5h8m-4-4v8M375.5 255.5h8m-4-4v8M543.5 296.5h8m-4-4v8M179.5 274.5h8m-4-4v8M457.5 252.5h8m-4-4v8M397.5 259.5h8m-4-4v8M149.5 284.5h8m-4-4v8M616.5 274.5h8m-4-4v8M483.5 293.5h8m-4-4v8M219.5 260.5h8m-4-4v8M774.5 299.5h8m-4-4v8M446.5 261.5h8m-4-4v8M85.5 271.5h8m-4-4v8M868.5 323.5h8m-4-4v8M446.5 274.5h8m-4-4v8M156.5 283.5h8m-4-4v8M331.5 246.5h8m-4-4v8M299.5 236.5h8m-4-4v8M103.5 252.5h8m-4-4v8M370.5 271.5h8m-4-4v8M228.5 266.5h8m-4-4v8M266.5 247.5h8m-4-4v8M678.5 280.5h8m-4-4v8M80.5 258.5h8m-4-4v8M338.5 270.5h8m-4-4v8M224.5 255.5h8m-4-4v8M612.5 259.5h8m-4-4v8M868.5 308.5h8m-4-4v8M815.5 311.5h8m-4-4v8M501.5 302.5h8m-4-4v8M772.5 281.5h8m-4-4v8M777.5 291.5h8m-4-4v8M643.5 269.5h8m-4-4v8M788.5 291.5h8m-4-4v8M422.5 255.5h8m-4-4v8M739.5 265.5h8m-4-4v8M550.5 271.5h8m-4-4v8M731.5 265.5h8m-4-4v8M130.5 257.5h8m-4-4v8M818.5 297.5h8m-4-4v8M460.5 263.5h8m-4-4v8M607.5 268.5h8m-4-4v8M807.5 315.5h8m-4-4v8M119.5 268.5h8m-4-4v8M675.5 260.5h8m-4-4v8M386.5 255.5h8m-4-4v8M371.5 268.5h8m-4-4v8M647.5 251.5h8m-4-4v8M147.5 272.5h8m-4-4v8M835.5 308.5h8m-4-4v8M102.5 256.5h8m-4-4v8M288.5 246.5h8m-4-4v8M369.5 254.5h8m-4-4v8M128.5 261.5h8m-4-4v8M912.5 320.5h8m-4-4v8M963.5 289.5h8m-4-4v8M889.5 297.5h8m-4-4v8M254.5 236.5h8m-4-4v8M818.5 297.5h8m-4-4v8M377.5 260.5h8m-4-4v8M331.5 249.5h8m-4-4v8M692.5 268.5h8m-4-4v8M149.5 268.5h8m-4-4v8M62.5 253.5h8m-4-4v8M919.5 318.5h8m-4-4v8M397.5 251.5h8m-4-4v8M781.5 289.5h8m-4-4v8M459.5 251.5h8m-4-4v8M157.5 295.5h8m-4-4v8M505.5 310.5h8m-4-4v8M230.5 251.5h8m-4-4v8M145.5 287.5h8m-4-4v8M77.5 265.5h8m-4-4v8M302.5 247.5h8m-4-4v8M375.5 257.5h8m-4-4v8M958.5 303.5h8m-4-4v8M813.5 304.5h8m-4-4v8M704.5 266.5h8m-4-4v8M291.5 214.5h8m-4-4v8M740.5 280.5h8m-4-4v8M698.5 270.5h8m-4-4v8M554.5 280.5h8m-4-4v8M288.5 243.5h8m-4-4v8M261.5 243.5h8m-4-4v8M454.5 274.5h8m-4-4v8M320.5 235.5h8m-4-4v8M872.5 316.5h8m-4-4v8M497.5 288.5h8m-4-4v8M681.5 259.5h8m-4-4v8M882.5 312.5h8m-4-4v8M631.5 263.5h8m-4-4v8M359.5 267.5h8m-4-4v8M907.5 313.5h8m-4-4v8M105.5 263.5h8m-4-4v8M273.5 241.5h8m-4-4v8M628.5 263.5h8m-4-4v8M842.5 323.5h8m-4-4v8M804.5 315.5h8m-4-4v8M723.5 248.5h8m-4-4v8M701.5 243.5h8m-4-4v8M417.5 269.5h8m-4-4v8M643.5 253.5h8m-4-4v8M137.5 259.5h8m-4-4v8M784.5 285.5h8m-4-4v8M197.5 269.5h8m-4-4v8M84.5 258.5h8m-4-4v8M991.5 318.5h8m-4-4v8M226.5 252.5h8m-4-4v8M600.5 254.5h8m-4-4v8M124.5 263.5h8m-4-4v8M979.5 326.5h8m-4-4v8M75.5 255.5h8m-4-4v8M690.5 250.5h8m-4-4v8M830.5 306.5h8m-4-4v8M338.5 243.5h8m-4-4v8M65.5 253.5h8m-4-4v8M97.5 262.5h8m-4-4v8M124.5 258.5h8m-4-4v8M554.5 258.5h8m-4-4v8M881.5 321.5h8m-4-4v8M641.5 268.5h8m-4-4v8M257.5 238.5h8m-4-4v8M275.5 257.5h8m-4-4v8M977.5 303.5h8m-4-4v8M949.5 307.5h8m-4-4v8M469.5 284.5h8m-4-4v8M781.5 285.5h8m-4-4v8M715.5 253.5h8m-4-4v8M321.5 236.5h8m-4-4v8M255.5 258.5h8m-4-4v8M739.5 264.5h8m-4-4v8M959.5 303.5h8m-4-4v8M981.5 303.5h8m-4-4v8M401.5 254.5h8m-4-4v8M129.5 252.5h8m-4-4v8M359.5 267.5h8m-4-4v8M984.5 303.5h8m-4-4v8M348.5 265.5h8m-4-4v8M834.5 313.5h8m-4-4v8M293.5 227.5h8m-4-4v8M956.5 299.5h8m-4-4v8M519.5 295.5h8m-4-4v8M819.5 306.5h8m-4-4v8M613.5 244.5h8m-4-4v8M753.5 282.5h8m-4-4v8M137.5 267.5h8m-4-4v8M151.5 270.5h8m-4-4v8M401.5 261.5h8m-4-4v8M866.5 313.5h8m-4-4v8M893.5 314.5h8m-4-4v8M708.5 249.5h8m-4-4v8M613.5 262.5h8m-4-4v8M108.5 275.5h8m-4-4v8M915.5 320.5h8m-4-4v8M663.5 254.5h8m-4-4v8M626.5 267.5h8m-4-4v8M828.5 318.5h8m-4-4v8M286.5 232.5h8m-4-4v8M686.5 256.5h8m-4-4v8M745.5 264.5h8m-4-4v8M159.5 272.5h8m-4-4v8M721.5 267.5h8m-4-4v8M887.5 299.5h8m-4-4v8M638.5 253.5h8m-4-4v8M229.5 257.5h8m-4-4v8M902.5 301.5h8m-4-4v8M168.5 281.5h8m-4-4v8M281.5 261.5h8m-4-4v8M843.5 328.5h8m-4-4v8M606.5 281.5h8m-4-4v8M375.5 267.5h8m-4-4v8M789.5 305.5h8m-4-4v8M652.5 249.5h8m-4-4v8M186.5 281.5h8m-4-4v8M283.5 255.5h8m-4-4v8M795.5 310.5h8m-4-4v8M795.5 299.5h8m-4-4v8M139.5 257.5h8m-4-4v8M549.5 271.5h8m-4-4v8M710.5 250.5h8m-4-4v8M365.5 265.5h8m-4-4v8M126.5 271.5h8m-4-4v8M452.5 264.5h8m-4-4v8M925.5 303.5h8m-4-4v8M266.5 262.5h8m-4-4v8M831.5 326.5h8m-4-4v8M333.5 273.5h8m-4-4v8M311.5 231.5h8m-4-4v8M236.5 250.5h8m-4-4v8M442.5 282.5h8m-4-4v8M404.5 273.5h8m-4-4v8M328.5 238.5h8m-4-4v8M863.5 320.5h8m-4-4v8M749.5 253.5h8m-4-4v8M522.5 290.5h8m-4-4v8M959.5 317.5h8m-4-4v8M949.5 302.5h8m-4-4v8M809.5 310.5h8m-4-4v8M642.5 273.5h8m-4-4v8M695.5 262.5h8m-4-4v8M762.5 279.5h8m-4-4v8M862.5 301.5h8m-4-4v8M380.5 272.5h8m-4-4v8M408.5 272.5h8m-4-4v8M293.5 233.5h8m-4-4v8M906.5 306.5h8m-4-4v8M888.5 298.5h8m-4-4v8M440.5 256.5h8m-4-4v8M198.5 283.5h8m-4-4v8M974.5 291.5h8m-4-4v8M675.5 264.5h8m-4-4v8M960.5 297.5h8m-4-4v8M641.5 245.5h8m-4-4v8M543.5 298.5h8m-4-4v8M739.5 288.5h8m-4-4v8M874.5 305.5h8m-4-4v8M831.5 307.5h8m-4-4v8M387.5 264.5h8m-4-4v8M537.5 287.5h8m-4-4v8M940.5 322.5h8m-4-4v8M536.5 299.5h8m-4-4v8M787.5 297.5h8m-4-4v8M551.5 265.5h8m-4-4v8M817.5 311.5h8m-4-4v8M133.5 266.5h8m-4-4v8M57.5 267.5h8m-4-4v8M154.5 290.5h8m-4-4v8M468.5 267.5h8m-4-4v8M412.5 268.5h8m-4-4v8M955.5 304.5h8m-4-4v8M990.5 291.5h8m-4-4v8M199.5 269.5h8m-4-4v8M819.5 322.5h8m-4-4v8M539.5 302.5h8m-4-4v8M827.5 309.5h8m-4-4v8M413.5 281.5h8m-4-4v8M760.5 271.5h8m-4-4v8M61.5 261.5h8m-4-4v8M499.5 289.5h8m-4-4v8M372.5 255.5h8m-4-4v8M297.5 219.5h8m-4-4v8M342.5 258.5h8m-4-4v8M454.5 254.5h8m-4-4v8M525.5 300.5h8m-4-4v8M551.5 284.5h8m-4-4v8M811.5 312.5h8m-4-4v8M958.5 301.5h8m-4-4v8M672.5 259.5h8m-4-4v8M301.5 225.5h8m-4-4v8M598.5 261.5h8m-4-4v8M285.5 253.5h8m-4-4v8M371.5 246.5h8m-4-4v8M280.5 244.5h8m-4-4v8M562.5 282.5h8m-4-4v8M130.5 269.5h8m-4-4v8M566.5 261.5h8m-4-4v8M448.5 271.5h8m-4-4v8M319.5 250.5h8m-4-4v8M969.5 295.5h8m-4-4v8M598.5 282.5h8m-4-4v8M597.5 286.5h8m-4-4v8M200.5 258.5h8m-4-4v8M441.5 266.5h8m-4-4v8M266.5 254.5h8m-4-4v8M565.5 287.5h8m-4-4v8M806.5 313.5h8m-4-4v8M288.5 233.5h8m-4-4v8M203.5 267.5h8m-4-4v8M203.5 282.5h8m-4-4v8M624.5 262.5h8m-4-4v8M134.5 262.5h8m-4-4v8M552.5 287.5h8m-4-4v8M795.5 287.5h8m-4-4v8M754.5 284.5h8m-4-4v8M673.5 255.5h8m-4-4v8M68.5 252.5h8m-4-4v8M464.5 263.5h8m-4-4v8M291.5 243.5h8m-4-4v8M212.5 284.5h8m-4-4v8M948.5 301.5h8m-4-4v8M869.5 302.5h8m-4-4v8M162.5 293.5h8m-4-4v8M812.5 297.5h8m-4-4v8M130.5 252.5h8m-4-4v8M378.5 253.5h8m-4-4v8M988.5 290.5h8m-4-4v8M934.5 307.5h8m-4-4v8M499.5 296.5h8m-4-4v8M701.5 274.5h8m-4-4v8M425.5 269.5h8m-4-4v8M835.5 317.5h8m-4-4v8M356.5 242.5h8m-4-4v8M260.5 244.5h8m-4-4v8M640.5 265.5h8m-4-4v8M579.5 292.5h8m-4-4v8M887.5 303.5h8m-4-4v8M208.5 287.5h8m-4-4v8M790.5 282.5h8m-4-4v8M938.5 318.5h8m-4-4v8M738.5 284.5h8m-4-4v8M183.5 296.5h8m-4-4v8M214.5 256.5h8m-4-4v8M151.5 283.5h8m-4-4v8M373.5 271.5h8m-4-4v8M747.5 269.5h8m-4-4v8M207.5 292.5h8m-4-4v8M481.5 300.5h8m-4-4v8M103.5 263.5h8m-4-4v8M682.5 266.5h8m-4-4v8M163.5 280.5h8m-4-4v8M779.5 297.5h8m-4-4v8M623.5 253.5h8m-4-4v8M248.5 265.5h8m-4-4v8M698.5 240.5h8m-4-4v8M391.5 250.5h8m-4-4v8M550.5 287.5h8m-4-4v8M578.5 268.5h8m-4-4v8M315.5 241.5h8m-4-4v8M452.5 283.5h8m-4-4v8M773.5 274.5h8m-4-4v8M853.5 314.5h8m-4-4v8M835.5 323.5h8m-4-4v8M861.5 321.5h8m-4-4v8M204.5 259.5h8m-4-4v8M982.5 312.5h8m-4-4v8M104.5 283.5h8m-4-4v8M884.5 307.5h8m-4-4v8M778.5 291.5h8m-4-4v8M777.5 282.5h8m-4-4v8M954.5 308.5h8m-4-4v8M223.5 261.5h8m-4-4v8M654.5 253.5h8m-4-4v8M61.5 252.5h8m-4-4v8M667.5 281.5h8m-4-4v8M124.5 260.5h8m-4-4v8M670.5 274.5h8m-4-4v8M86.5 256.5h8m-4-4v8M441.5 272.5h8m-4-4v8M856.5 325.5h8m-4-4v8M348.5 263.5h8m-4-4v8M966.5 302.5h8m-4-4v8M502.5 313.5h8m-4-4v8M241.5 249.5h8m-4-4v8M927.5 319.5h8m-4-4v8M215.5 254.5h8m-4-4v8M610.5 264.5h8m-4-4v8M937.5 303.5h8m-4-4v8M934.5 304.5h8m-4-4v8M577.5 292.5h8m-4-4v8M265.5 257.5h8m-4-4v8M530.5 287.5h8m-4-4v8M335.5 244.5h8m-4-4v8M355.5 242.5h8m-4-4v8M358.5 268.5h8m-4-4v8M257.5 252.5h8m-4-4v8M99.5 284.5h8m-4-4v8M70.5 271.5h8m-4-4v8M593.5 257.5h8m-4-4v8M654.5 254.5h8m-4-4v8M599.5 274.5h8m-4-4v8M509.5 287.5h8m-4-4v8M592.5 282.5h8m-4-4v8M883.5 292.5h8m-4-4v8M603.5 256.5h8m-4-4v8M865.5 308.5h8m-4-4v8M853.5 309.5h8m-4-4v8M368.5 269.5h8m-4-4v8M516.5 311.5h8m-4-4v8M143.5 270.5h8m-4-4v8M719.5 266.5h8m-4-4v8M651.5 266.5h8m-4-4v8M802.5 304.5h8m-4-4v8M148.5 280.5h8m-4-4v8M195.5 293.5h8m-4-4v8M651.5 269.5h8m-4-4v8M725.5 245.5h8m-4-4v8M91.5 266.5h8m-4-4v8M364.5 266.5h8m-4-4v8M379.5 255.5h8m-4-4v8M113.5 259.5h8m-4-4v8M162.5 284.5h8m-4-4v8M258.5 241.5h8m-4-4v8M72.5 266.5h8m-4-4v8M209.5 271.5h8m-4-4v8M85.5 269.5h8m-4-4v8M414.5 255.5h8m-4-4v8M739.5 284.5h8m-4-4v8M664.5 255.5h8m-4-4v8M617.5 259.5h8m-4-4v8M499.5 294.5h8m-4-4v8M244.5 274.5h8m-4-4v8M943.5 308.5h8m-4-4v8M798.5 297.5h8m-4-4v8M590.5 285.5h8m-4-4v8M623.5 282.5h8m-4-4v8M806.5 303.5h8m-4-4v8M289.5 225.5h8m-4-4v8M788.5 292.5h8m-4-4v8M321.5 246.5h8m-4-4v8M330.5 263.5h8m-4-4v8M230.5 267.5h8m-4-4v8M570.5 264.5h8m-4-4v8M966.5 294.5h8m-4-4v8M776.5 283.5h8m-4-4v8M187.5 280.5h8m-4-4v8M325.5 255.5h8m-4-4v8M224.5 265.5h8m-4-4v8M205.5 282.5h8m-4-4v8M724.5 269.5h8m-4-4v8M355.5 239.5h8m-4-4v8M586.5 270.5h8m-4-4v8M356.5 258.5h8m-4-4v8M982.5 333.5h8m-4-4v8M203.5 261.5h8m-4-4v8M764.5 274.5h8m-4-4v8M332.5 257.5h8m-4-4v8M487.5 289.5h8m-4-4v8M330.5 247.5h8m-4-4v8M519.5 303.5h8m-4-4v8M349.5 241.5h8m-4-4v8M361.5 253.5h8m-4-4v8M217.5 252.5h8m-4-4v8M956.5 291.5h8m-4-4v8M261.5 264.5h8m-4-4v8M326.5 227.5h8m-4-4v8M447.5 274.5h8m-4-4v8M186.5 290.5h8m-4-4v8M280.5 232.5h8m-4-4v8M444.5 251.5h8m-4-4v8M602.5 252.5h8m-4-4v8M560.5 287.5h8m-4-4v8M412.5 270.5h8m-4-4v8M680.5 256.5h8m-4-4v8M737.5 291.5h8m-4-4v8M308.5 241.5h8m-4-4v8M288.5 254.5h8m-4-4v8M635.5 258.5h8m-4-4v8M447.5 271.5h8m-4-4v8M815.5 316.5h8m-4-4v8M67.5 262.5h8m-4-4v8M564.5 273.5h8m-4-4v8M390.5 250.5h8m-4-4v8M265.5 238.5h8m-4-4v8M857.5 310.5h8m-4-4v8M269.5 245.5h8m-4-4v8M775.5 270.5h8m-4-4v8M842.5 306.5h8m-4-4v8M964.5 305.5h8m-4-4v8M184.5 296.5h8m-4-4v8M216.5 259.5h8m-4-4v8M360.5 255.5h8m-4-4v8M891.5 315.5h8m-4-4v8M649.5 264.5h8m-4-4v8M215.5 268.5h8m-4-4v8M172.5 272.5h8m-4-4v8M740.5 255.5h8m-4-4v8M633.5 271.5h8m-4-4v8M58.5 253.5h8m-4-4v8M604.5 262.5h8m-4-4v8M248.5 245.5h8m-4-4v8M336.5 266.5h8m-4-4v8M986.5 321.5h8m-4-4v8M489.5 297.5h8m-4-4v8M627.5 280.5h8m-4-4v8M258.5 242.5h8m-4-4v8M418.5 260.5h8m-4-4v8M738.5 274.5h8m-4-4v8M891.5 313.5h8m-4-4v8M294.5 231.5h8m-4-4v8M288.5 216.5h8m-4-4v8M441.5 253.5h8m-4-4v8M349.5 244.5h8m-4-4v8M803.5 286.5h8m-4-4v8M417.5 287.5h8m-4-4v8M532.5 297.5h8m-4-4v8M585.5 289.5h8m-4-4v8M396.5 252.5h8m-4-4v8M66.5 259.5h8m-4-4v8M727.5 269.5h8m-4-4v8M182.5 287.5h8m-4-4v8M842.5 304.5h8m-4-4v8M293.5 250.5h8m-4-4v8M300.5 253.5h8m-4-4v8M559.5 264.5h8m-4-4v8M891.5 299.5h8m-4-4v8M511.5 296.5h8m-4-4v8M450.5 269.5h8m-4-4v8M180.5 293.5h8m-4-4v8M331.5 258.5h8m-4-4v8M900.5 297.5h8m-4-4v8M932.5 310.5h8m-4-4v8M299.5 248.5h8m-4-4v8M904.5 321.5h8m-4-4v8M74.5 258.5h8m-4-4v8M714.5 245.5h8m-4-4v8M85.5 272.5h8m-4-4v8M460.5 257.5h8m-4-4v8M448.5 257.5h8m-4-4v8M467.5 266.5h8m-4-4v8M934.5 305.5h8m-4-4v8M395.5 265.5h8m-4-4v8M76.5 273.5h8m-4-4v8M740.5 280.5h8m-4-4v8M195.5 262.5h8m-4-4v8M121.5 261.5h8m-4-4v8M252.5 242.5h8m-4-4v8M977.5 292.5h8m-4-4v8M475.5 272.5h8m-4-4v8M209.5 264.5h8m-4-4v8M661.5 249.5h8m-4-4v8M575.5 282.5h8m-4-4v8M989.5 303.5h8m-4-4v8M699.5 258.5h8m-4-4v8M559.5 263.5h8m-4-4v8M991.5 294.5h8m-4-4v8M536.5 313.5h8m-4-4v8M485.5 306.5h8m-4-4v8M838.5 315.5h8m-4-4v8M954.5 317.5h8m-4-4v8M714.5 262.5h8m-4-4v8M409.5 285.5h8m-4-4v8M441.5 273.5h8m-4-4v8M66.5 273.5h8m-4-4v8M288.5 239.5h8m-4-4v8M764.5 282.5h8m-4-4v8M519.5 305.5h8m-4-4v8M845.5 327.5h8m-4-4v8M673.5 257.5h8m-4-4v8M587.5 280.5h8m-4-4v8M791.5 300.5h8m-4-4v8M527.5 316.5h8m-4-4v8M670.5 264.5h8m-4-4v8M519.5 307.5h8m-4-4v8M395.5 258.5h8m-4-4v8M753.5 274.5h8m-4-4v8M136.5 252.5h8m-4-4v8M976.5 314.5h8m-4-4v8M957.5 296.5h8m-4-4v8M815.5 309.5h8m-4-4v8M499.5 285.5h8m-4-4v8M482.5 302.5h8m-4-4v8M491.5 307.5h8m-4-4v8M273.5 256.5h8m-4-4v8M785.5 302.5h8m-4-4v8M869.5 318.5h8m-4-4v8M530.5 288.5h8m-4-4v8M840.5 305.5h8m-4-4v8M334.5 265.5h8m-4-4v8M848.5 312.5h8m-4-4v8M971.5 306.5h8m-4-4v8M673.5 265.5h8m-4-4v8M959.5 314.5h8m-4-4v8M720.5 255.5h8m-4-4v8M695.5 244.5h8m-4-4v8M504.5 308.5h8m-4-4v8M122.5 259.5h8m-4-4v8M192.5 274.5h8m-4-4v8M812.5 315.5h8m-4-4v8M240.5 252.5h8m-4-4v8M220.5 250.5h8m-4-4v8M744.5 282.5h8m-4-4v8M952.5 321.5h8m-4-4v8M99.5 259.5h8m-4-4v8M729.5 253.5h8m-4-4v8M506.5 306.5h8m-4-4v8M855.5 324.5h8m-4-4v8M210.5 280.5h8m-4-4v8M324.5 255.5h8m-4-4v8M903.5 313.5h8m-4-4v8M822.5 324.5h8m-4-4v8M893.5 322.5h8m-4-4v8M548.5 283.5h8m-4-4v8M678.5 274.5h8m-4-4v8M922.5 306.5h8m-4-4v8M662.5 283.5h8m-4-4v8M215.5 267.5h8m-4-4v8M59.5 269.5h8m-4-4v8M179.5 293.5h8m-4-4v8M87.5 258.5h8m-4-4v8M427.5 280.5h8m-4-4v8M627.5 284.5h8m-4-4v8M850.5 315.5h8m-4-4v8M445.5 266.5h8m-4-4v8M893.5 300.5h8m-4-4v8M901.5 317.5h8m-4-4v8M976.5 317.5h8m-4-4v8M83.5 260.5h8m-4-4v8M607.5 259.5h8m-4-4v8M639.5 254.5h8m-4-4v8M558.5 260.5h8m-4-4v8M246.5 272.5h8m-4-4v8M905.5 305.5h8m-4-4v8M560.5 263.5h8m-4-4v8M387.5 255.5h8m-4-4v8M721.5 253.5h8m-4-4v8M257.5 270.5h8m-4-4v8M763.5 296.5h8m-4-4v8M263.5 259.5h8m-4-4v8M335.5 253.5h8m-4-4v8M194.5 271.5h8m-4-4v8M871.5 323.5h8m-4-4v8M380.5 260.5h8m-4-4v8M741.5 261.5h8m-4-4v8M877.5 301.5h8m-4-4v8M326.5 249.5h8m-4-4v8M62.5 260.5h8m-4-4v8M552.5 286.5h8m-4-4v8M285.5 228.5h8m-4-4v8M863.5 300.5h8m-4-4v8M224.5 254.5h8m-4-4v8M716.5 246.5h8m-4-4v8M85.5 256.5h8m-4-4v8M314.5 253.5h8m-4-4v8M253.5 262.5h8m-4-4v8M839.5 315.5h8m-4-4v8M613.5 245.5h8m-4-4v8M350.5 248.5h8m-4-4v8M878.5 306.5h8m-4-4v8M623.5 281.5h8m-4-4v8M746.5 288.5h8m-4-4v8M531.5 313.5h8m-4-4v8M259.5 254.5h8m-4-4v8M898.5 308.5h8m-4-4v8M307.5 234.5h8m-4-4v8M229.5 249.5h8m-4-4v8M653.5 254.5h8m-4-4v8M150.5 289.5h8m-4-4v8M752.5 266.5h8m-4-4v8M709.5 269.5h8m-4-4v8M425.5 289.5h8m-4-4v8M544.5 299.5h8m-4-4v8M517.5 295.5h8m-4-4v8M139.5 261.5h8m-4-4v8M144.5 286.5h8m-4-4v8M395.5 254.5h8m-4-4v8M63.5 269.5h8m-4-4v8M244.5 265.5h8m-4-4v8M410.5 272.5h8m-4-4v8M637.5 262.5h8m-4-4v8M545.5 306.5h8m-4-4v8M233.5 272.5h8m-4-4v8M748.5 266.5h8m-4-4v8M665.5 265.5h8m-4-4v8M690.5 243.5h8m-4-4v8M298.5 221.5h8m-4-4v8M824.5 304.5h8m-4-4v8M603.5 256.5h8m-4-4v8M236.5 263.5h8m-4-4v8M688.5 250.5h8m-4-4v8M637.5 254.5h8m-4-4v8M589.5 256.5h8m-4-4v8M502.5 310.5h8m-4-4v8M754.5 259.5h8m-4-4v8M723.5 279.5h8m-4-4v8M606.5 284.5h8m-4-4v8M131.5 264.5h8m-4-4v8M283.5 259.5h8m-4-4v8M978.5 290.5h8m-4-4v8M641.5 266.5h8m-4-4v8M197.5 280.5h8m-4-4v8M591.5 289.5h8m-4-4v8M620.5 250.5h8m-4-4v8M750.5 261.5h8m-4-4v8M966.5 307.5h8m-4-4v8M488.5 283.5h8m-4-4v8M353.5 270.5h8m-4-4v8M219.5 255.5h8m-4-4v8M373.5 255.5h8m-4-4v8M474.5 285.5h8m-4-4v8M961.5 314.5h8m-4-4v8M541.5 305.5h8m-4-4v8M726.5 259.5h8m-4-4v8M71.5 260.5h8m-4-4v8M283.5 245.5h8m-4-4v8M563.5 261.5h8m-4-4v8M119.5 265.5h8m-4-4v8M211.5 270.5h8m-4-4v8M742.5 265.5h8m-4-4v8M677.5 257.5h8m-4-4v8M202.5 255.5h8m-4-4v8M829.5 315.5h8m-4-4v8M503.5 313.5h8m-4-4v8M356.5 245.5h8m-4-4v8M714.5 243.5h8m-4-4v8M672.5 262.5h8m-4-4v8M988.5 312.5h8m-4-4v8M169.5 286.5h8m-4-4v8M756.5 269.5h8m-4-4v8M62.5 248.5h8m-4-4v8M67.5 246.5h8m-4-4v8M67.5 249.5h8m-4-4v8M74.5 238.5h8m-4-4v8M74.5 241.5h8m-4-4v8M75.5 245.5h8m-4-4v8M75.5 250.5h8m-4-4v8M75.5 248.5h8m-4-4v8M78.5 241.5h8m-4-4v8M79.5 248.5h8m-4-4v8M89.5 244.5h8m-4-4v8M89.5 250.5h8m-4-4v8M96.5 239.5h8m-4-4v8M97.5 243.5h8m-4-4v8M96.5 248.5h8m-4-4v8M96.5 246.5h8m-4-4v8M96.5 251.5h8m-4-4v8M101.5 251.5h8m-4-4v8M103.5 251.5h8m-4-4v8M109.5 258.5h8m-4-4v8M111.5 253.5h8m-4-4v8M114.5 245.5h8m-4-4v8M114.5 249.5h8m-4-4v8M112.5 255.5h8m-4-4v8M116.5 248.5h8m-4-4v8M114.5 252.5h8m-4-4v8M114.5 247.5h8m-4-4v8M114.5 252.5h8m-4-4v8M117.5 245.5h8m-4-4v8M115.5 250.5h8m-4-4v8M118.5 251.5h8m-4-4v8M121.5 251.5h8m-4-4v8M131.5 247.5h8m-4-4v8M129.5 252.5h8m-4-4v8M132.5 243.5h8m-4-4v8M133.5 248.5h8m-4-4v8M132.5 252.5h8m-4-4v8M137.5 249.5h8m-4-4v8M137.5 240.5h8m-4-4v8M138.5 244.5h8m-4-4v8M139.5 250.5h8m-4-4v8M137.5 254.5h8m-4-4v8M140.5 252.5h8m-4-4v8M142.5 244.5h8m-4-4v8M140.5 248.5h8m-4-4v8M140.5 253.5h8m-4-4v8M148.5 256.5h8m-4-4v8M148.5 253.5h8m-4-4v8M149.5 257.5h8m-4-4v8M147.5 261.5h8m-4-4v8M149.5 250.5h8m-4-4v8M150.5 256.5h8m-4-4v8M148.5 260.5h8m-4-4v8M148.5 264.5h8m-4-4v8M157.5 270.5h8m-4-4v8M158.5 266.5h8m-4-4v8M156.5 272.5h8m-4-4v8M165.5 270.5h8m-4-4v8M167.5 260.5h8m-4-4v8M166.5 265.5h8m-4-4v8M166.5 269.5h8m-4-4v8M168.5 269.5h8m-4-4v8M168.5 267.5h8m-4-4v8M167.5 271.5h8m-4-4v8M169.5 270.5h8m-4-4v8M171.5 264.5h8m-4-4v8M171.5 269.5h8m-4-4v8M175.5 265.5h8m-4-4v8M175.5 269.5h8m-4-4v8M174.5 273.5h8m-4-4v8M182.5 265.5h8m-4-4v8M183.5 262.5h8m-4-4v8M183.5 268.5h8m-4-4v8M185.5 264.5h8m-4-4v8M185.5 255.5h8m-4-4v8M185.5 260.5h8m-4-4v8M184.5 265.5h8m-4-4v8M188.5 258.5h8m-4-4v8M187.5 264.5h8m-4-4v8M199.5 246.5h8m-4-4v8M199.5 251.5h8m-4-4v8M199.5 250.5h8m-4-4v8M201.5 249.5h8m-4-4v8M202.5 246.5h8m-4-4v8M203.5 251.5h8m-4-4v8M203.5 245.5h8m-4-4v8M203.5 249.5h8m-4-4v8M205.5 242.5h8m-4-4v8M206.5 246.5h8m-4-4v8M205.5 252.5h8m-4-4v8M205.5 249.5h8m-4-4v8M211.5 247.5h8m-4-4v8M210.5 251.5h8m-4-4v8M227.5 245.5h8m-4-4v8M226.5 251.5h8m-4-4v8M231.5 247.5h8m-4-4v8M234.5 247.5h8m-4-4v8M234.5 243.5h8m-4-4v8M234.5 248.5h8m-4-4v8M244.5 240.5h8m-4-4v8M246.5 240.5h8m-4-4v8M248.5 236.5h8m-4-4v8M248.5 240.5h8m-4-4v8M250.5 231.5h8m-4-4v8M250.5 237.5h8m-4-4v8M252.5 233.5h8m-4-4v8M252.5 237.5h8m-4-4v8M256.5 226.5h8m-4-4v8M255.5 232.5h8m-4-4v8M255.5 225.5h8m-4-4v8M257.5 230.5h8m-4-4v8M256.5 224.5h8m-4-4v8M256.5 230.5h8m-4-4v8M258.5 223.5h8m-4-4v8M259.5 227.5h8m-4-4v8M257.5 231.5h8m-4-4v8M258.5 230.5h8m-4-4v8M266.5 230.5h8m-4-4v8M269.5 223.5h8m-4-4v8M269.5 227.5h8m-4-4v8M267.5 232.5h8m-4-4v8M271.5 224.5h8m-4-4v8M270.5 228.5h8m-4-4v8M274.5 222.5h8m-4-4v8M273.5 226.5h8m-4-4v8M273.5 231.5h8m-4-4v8M278.5 227.5h8m-4-4v8M290.5 213.5h8m-4-4v8M297.5 210.5h8m-4-4v8M308.5 219.5h8m-4-4v8M318.5 211.5h8m-4-4v8M318.5 217.5h8m-4-4v8M319.5 222.5h8m-4-4v8M319.5 216.5h8m-4-4v8M319.5 222.5h8m-4-4v8M320.5 220.5h8m-4-4v8M321.5 224.5h8m-4-4v8M323.5 221.5h8m-4-4v8M321.5 226.5h8m-4-4v8M323.5 223.5h8m-4-4v8M326.5 220.5h8m-4-4v8M326.5 226.5h8m-4-4v8M325.5 221.5h8m-4-4v8M327.5 224.5h8m-4-4v8M327.5 228.5h8m-4-4v8M328.5 229.5h8m-4-4v8M329.5 229.5h8m-4-4v8M338.5 234.5h8m-4-4v8M338.5 239.5h8m-4-4v8M338.5 240.5h8m-4-4v8M342.5 231.5h8m-4-4v8M341.5 234.5h8m-4-4v8M343.5 240.5h8m-4-4v8M349.5 233.5h8m-4-4v8M351.5 238.5h8m-4-4v8M354.5 228.5h8m-4-4v8M353.5 235.5h8m-4-4v8M353.5 240.5h8m-4-4v8M355.5 238.5h8m-4-4v8M363.5 238.5h8m-4-4v8M365.5 239.5h8m-4-4v8M364.5 236.5h8m-4-4v8M364.5 240.5h8m-4-4v8M367.5 230.5h8m-4-4v8M369.5 236.5h8m-4-4v8M369.5 241.5h8m-4-4v8M368.5 233.5h8m-4-4v8M368.5 239.5h8m-4-4v8M371.5 238.5h8m-4-4v8M372.5 240.5h8m-4-4v8M373.5 238.5h8m-4-4v8M373.5 242.5h8m-4-4v8M373.5 241.5h8m-4-4v8M374.5 245.5h8m-4-4v8M375.5 241.5h8m-4-4v8M373.5 245.5h8m-4-4v8M378.5 241.5h8m-4-4v8M378.5 245.5h8m-4-4v8M381.5 245.5h8m-4-4v8M398.5 245.5h8m-4-4v8M397.5 251.5h8m-4-4v8M398.5 243.5h8m-4-4v8M398.5 248.5h8m-4-4v8M397.5 238.5h8m-4-4v8M397.5 242.5h8m-4-4v8M398.5 247.5h8m-4-4v8M402.5 245.5h8m-4-4v8M403.5 250.5h8m-4-4v8M408.5 252.5h8m-4-4v8M409.5 250.5h8m-4-4v8M409.5 254.5h8m-4-4v8M417.5 249.5h8m-4-4v8M417.5 254.5h8m-4-4v8M418.5 246.5h8m-4-4v8M417.5 251.5h8m-4-4v8M417.5 255.5h8m-4-4v8M419.5 249.5h8m-4-4v8M419.5 253.5h8m-4-4v8M417.5 256.5h8m-4-4v8M418.5 250.5h8m-4-4v8M418.5 256.5h8m-4-4v8M421.5 252.5h8m-4-4v8M422.5 253.5h8m-4-4v8M426.5 243.5h8m-4-4v8M428.5 246.5h8m-4-4v8M425.5 252.5h8m-4-4v8M427.5 239.5h8m-4-4v8M426.5 244.5h8m-4-4v8M426.5 249.5h8m-4-4v8M431.5 248.5h8m-4-4v8M436.5 249.5h8m-4-4v8M439.5 244.5h8m-4-4v8M440.5 248.5h8m-4-4v8M439.5 243.5h8m-4-4v8M439.5 247.5h8m-4-4v8M440.5 240.5h8m-4-4v8M441.5 244.5h8m-4-4v8M440.5 249.5h8m-4-4v8M441.5 248.5h8m-4-4v8M443.5 237.5h8m-4-4v8M442.5 243.5h8m-4-4v8M442.5 249.5h8m-4-4v8M447.5 241.5h8m-4-4v8M447.5 246.5h8m-4-4v8M448.5 242.5h8m-4-4v8M447.5 247.5h8m-4-4v8M449.5 246.5h8m-4-4v8M453.5 247.5h8m-4-4v8M452.5 244.5h8m-4-4v8M453.5 248.5h8m-4-4v8M454.5 247.5h8m-4-4v8M456.5 245.5h8m-4-4v8M456.5 250.5h8m-4-4v8M455.5 245.5h8m-4-4v8M456.5 251.5h8m-4-4v8M456.5 248.5h8m-4-4v8M459.5 243.5h8m-4-4v8M457.5 247.5h8m-4-4v8M464.5 247.5h8m-4-4v8M466.5 245.5h8m-4-4v8M466.5 251.5h8m-4-4v8M468.5 242.5h8m-4-4v8M467.5 248.5h8m-4-4v8M467.5 252.5h8m-4-4v8M471.5 249.5h8m-4-4v8M472.5 254.5h8m-4-4v8M472.5 258.5h8m-4-4v8M479.5 266.5h8m-4-4v8M478.5 270.5h8m-4-4v8M493.5 259.5h8m-4-4v8M492.5 264.5h8m-4-4v8M493.5 270.5h8m-4-4v8M492.5 274.5h8m-4-4v8M495.5 254.5h8m-4-4v8M496.5 260.5h8m-4-4v8M495.5 264.5h8m-4-4v8M496.5 268.5h8m-4-4v8M497.5 271.5h8m-4-4v8M497.5 263.5h8m-4-4v8M498.5 267.5h8m-4-4v8M497.5 271.5h8m-4-4v8M499.5 280.5h8m-4-4v8M501.5 269.5h8m-4-4v8M500.5 280.5h8m-4-4v8M512.5 281.5h8m-4-4v8M524.5 284.5h8m-4-4v8M528.5 284.5h8m-4-4v8M529.5 285.5h8m-4-4v8M529.5 283.5h8m-4-4v8M535.5 283.5h8m-4-4v8M540.5 280.5h8m-4-4v8M546.5 260.5h8m-4-4v8M544.5 265.5h8m-4-4v8M547.5 253.5h8m-4-4v8M547.5 257.5h8m-4-4v8M547.5 262.5h8m-4-4v8M551.5 247.5h8m-4-4v8M552.5 252.5h8m-4-4v8M553.5 247.5h8m-4-4v8M554.5 252.5h8m-4-4v8M555.5 245.5h8m-4-4v8M556.5 251.5h8m-4-4v8M557.5 247.5h8m-4-4v8M556.5 252.5h8m-4-4v8M558.5 247.5h8m-4-4v8M558.5 253.5h8m-4-4v8M567.5 252.5h8m-4-4v8M568.5 256.5h8m-4-4v8M568.5 261.5h8m-4-4v8M574.5 256.5h8m-4-4v8M574.5 262.5h8m-4-4v8M577.5 261.5h8m-4-4v8M575.5 254.5h8m-4-4v8M576.5 259.5h8m-4-4v8M584.5 255.5h8m-4-4v8M589.5 254.5h8m-4-4v8M590.5 248.5h8m-4-4v8M589.5 254.5h8m-4-4v8M593.5 247.5h8m-4-4v8M592.5 252.5h8m-4-4v8M594.5 249.5h8m-4-4v8M597.5 248.5h8m-4-4v8M599.5 247.5h8m-4-4v8M598.5 252.5h8m-4-4v8M601.5 248.5h8m-4-4v8M604.5 246.5h8m-4-4v8M604.5 252.5h8m-4-4v8M610.5 240.5h8m-4-4v8M614.5 237.5h8m-4-4v8M616.5 232.5h8m-4-4v8M614.5 238.5h8m-4-4v8M617.5 236.5h8m-4-4v8M620.5 237.5h8m-4-4v8M620.5 241.5h8m-4-4v8M620.5 247.5h8m-4-4v8M625.5 247.5h8m-4-4v8M625.5 253.5h8m-4-4v8M624.5 241.5h8m-4-4v8M625.5 245.5h8m-4-4v8M623.5 250.5h8m-4-4v8M629.5 255.5h8m-4-4v8M631.5 256.5h8m-4-4v8M633.5 253.5h8m-4-4v8M633.5 258.5h8m-4-4v8M637.5 246.5h8m-4-4v8M638.5 251.5h8m-4-4v8M645.5 243.5h8m-4-4v8M647.5 240.5h8m-4-4v8M646.5 245.5h8m-4-4v8M648.5 242.5h8m-4-4v8M651.5 241.5h8m-4-4v8M650.5 235.5h8m-4-4v8M652.5 241.5h8m-4-4v8M652.5 237.5h8m-4-4v8M652.5 241.5h8m-4-4v8M655.5 239.5h8m-4-4v8M654.5 237.5h8m-4-4v8M654.5 243.5h8m-4-4v8M656.5 235.5h8m-4-4v8M655.5 239.5h8m-4-4v8M656.5 242.5h8m-4-4v8M655.5 236.5h8m-4-4v8M656.5 239.5h8m-4-4v8M661.5 238.5h8m-4-4v8M660.5 243.5h8m-4-4v8M661.5 247.5h8m-4-4v8M660.5 237.5h8m-4-4v8M662.5 242.5h8m-4-4v8M662.5 247.5h8m-4-4v8M664.5 244.5h8m-4-4v8M664.5 249.5h8m-4-4v8M668.5 254.5h8m-4-4v8M674.5 243.5h8m-4-4v8M674.5 248.5h8m-4-4v8M674.5 254.5h8m-4-4v8M676.5 239.5h8m-4-4v8M676.5 243.5h8m-4-4v8M677.5 247.5h8m-4-4v8M677.5 253.5h8m-4-4v8M676.5 249.5h8m-4-4v8M687.5 234.5h8m-4-4v8M688.5 240.5h8m-4-4v8M688.5 244.5h8m-4-4v8M695.5 236.5h8m-4-4v8M695.5 241.5h8m-4-4v8M697.5 238.5h8m-4-4v8M699.5 231.5h8m-4-4v8M699.5 237.5h8m-4-4v8M705.5 241.5h8m-4-4v8M716.5 236.5h8m-4-4v8M715.5 242.5h8m-4-4v8M715.5 241.5h8m-4-4v8M720.5 242.5h8m-4-4v8M726.5 235.5h8m-4-4v8M727.5 240.5h8m-4-4v8M726.5 244.5h8m-4-4v8M725.5 244.5h8m-4-4v8M728.5 238.5h8m-4-4v8M726.5 242.5h8m-4-4v8M728.5 245.5h8m-4-4v8M731.5 247.5h8m-4-4v8M730.5 253.5h8m-4-4v8M731.5 253.5h8m-4-4v8M738.5 256.5h8m-4-4v8M740.5 252.5h8m-4-4v8M740.5 256.5h8m-4-4v8M742.5 250.5h8m-4-4v8M741.5 256.5h8m-4-4v8M750.5 252.5h8m-4-4v8M752.5 254.5h8m-4-4v8M761.5 262.5h8m-4-4v8M763.5 263.5h8m-4-4v8M765.5 258.5h8m-4-4v8M764.5 263.5h8m-4-4v8M765.5 257.5h8m-4-4v8M765.5 262.5h8m-4-4v8M766.5 267.5h8m-4-4v8M767.5 259.5h8m-4-4v8M765.5 265.5h8m-4-4v8M774.5 249.5h8m-4-4v8M773.5 255.5h8m-4-4v8M775.5 259.5h8m-4-4v8M773.5 263.5h8m-4-4v8M774.5 268.5h8m-4-4v8M775.5 268.5h8m-4-4v8M778.5 260.5h8m-4-4v8M779.5 264.5h8m-4-4v8M778.5 270.5h8m-4-4v8M793.5 265.5h8m-4-4v8M794.5 270.5h8m-4-4v8M805.5 284.5h8m-4-4v8M805.5 289.5h8m-4-4v8M807.5 290.5h8m-4-4v8M810.5 289.5h8m-4-4v8M809.5 293.5h8m-4-4v8M813.5 289.5h8m-4-4v8M813.5 296.5h8m-4-4v8M817.5 296.5h8m-4-4v8M817.5 294.5h8m-4-4v8M818.5 292.5h8m-4-4v8M817.5 298.5h8m-4-4v8M821.5 296.5h8m-4-4v8M825.5 296.5h8m-4-4v8M828.5 298.5h8m-4-4v8M828.5 295.5h8m-4-4v8M829.5 301.5h8m-4-4v8M831.5 295.5h8m-4-4v8M831.5 301.5h8m-4-4v8M833.5 293.5h8m-4-4v8M834.5 299.5h8m-4-4v8M835.5 304.5h8m-4-4v8M843.5 292.5h8m-4-4v8M844.5 297.5h8m-4-4v8M843.5 302.5h8m-4-4v8M843.5 302.5h8m-4-4v8M843.5 302.5h8m-4-4v8M844.5 304.5h8m-4-4v8M845.5 299.5h8m-4-4v8M846.5 304.5h8m-4-4v8M846.5 293.5h8m-4-4v8M846.5 299.5h8m-4-4v8M846.5 303.5h8m-4-4v8M848.5 301.5h8m-4-4v8M849.5 299.5h8m-4-4v8M850.5 305.5h8m-4-4v8M851.5 303.5h8m-4-4v8M854.5 303.5h8m-4-4v8M859.5 302.5h8m-4-4v8M861.5 298.5h8m-4-4v8M860.5 303.5h8m-4-4v8M866.5 292.5h8m-4-4v8M867.5 295.5h8m-4-4v8M867.5 292.5h8m-4-4v8M868.5 296.5h8m-4-4v8M878.5 287.5h8m-4-4v8M879.5 291.5h8m-4-4v8M888.5 286.5h8m-4-4v8M889.5 287.5h8m-4-4v8M899.5 289.5h8m-4-4v8M898.5 294.5h8m-4-4v8M901.5 290.5h8m-4-4v8M901.5 294.5h8m-4-4v8M902.5 286.5h8m-4-4v8M903.5 291.5h8m-4-4v8M903.5 295.5h8m-4-4v8M909.5 293.5h8m-4-4v8M908.5 299.5h8m-4-4v8M908.5 298.5h8m-4-4v8M909.5 303.5h8m-4-4v8M911.5 290.5h8m-4-4v8M910.5 296.5h8m-4-4v8M911.5 303.5h8m-4-4v8M912.5 299.5h8m-4-4v8M911.5 304.5h8m-4-4v8M915.5 297.5h8m-4-4v8M915.5 302.5h8m-4-4v8M920.5 302.5h8m-4-4v8M928.5 295.5h8m-4-4v8M928.5 301.5h8m-4-4v8M928.5 305.5h8m-4-4v8M929.5 302.5h8m-4-4v8M931.5 297.5h8m-4-4v8M932.5 302.5h8m-4-4v8M940.5 296.5h8m-4-4v8M940.5 301.5h8m-4-4v8M943.5 301.5h8m-4-4v8M948.5 293.5h8m-4-4v8M946.5 298.5h8m-4-4v8M949.5 296.5h8m-4-4v8M953.5 290.5h8m-4-4v8M956.5 288.5h8m-4-4v8M956.5 292.5h8m-4-4v8M958.5 289.5h8m-4-4v8M961.5 289.5h8m-4-4v8M961.5 287.5h8m-4-4v8M962.5 285.5h8m-4-4v8M963.5 288.5h8m-4-4v8M962.5 284.5h8m-4-4v8M961.5 290.5h8m-4-4v8M972.5 288.5h8m-4-4v8M979.5 288.5h8m-4-4v8M981.5 288.5h8m-4-4v8M988.5 288.5h8m-4-4v8M989.5 285.5h8m-4-4v8M57.5 286.5h8m-4-4v8M58.5 282.5h8m-4-4v8M63.5 280.5h8m-4-4v8M63.5 280.5h8m-4-4v8M69.5 282.5h8m-4-4v8M70.5 285.5h8m-4-4v8M71.5 289.5h8m-4-4v8M72.5 286.5h8m-4-4v8M72.5 280.5h8m-4-4v8M81.5 288.5h8m-4-4v8M83.5 284.5h8m-4-4v8M92.5 288.5h8m-4-4v8M90.5 282.5h8m-4-4v8M92.5 283.5h8m-4-4v8M92.5 280.5h8m-4-4v8M96.5 292.5h8m-4-4v8M96.5 285.5h8m-4-4v8M115.5 282.5h8m-4-4v8M120.5 281.5h8m-4-4v8M120.5 280.5h8m-4-4v8M120.5 284.5h8m-4-4v8M122.5 275.5h8m-4-4v8M124.5 286.5h8m-4-4v8M122.5 282.5h8m-4-4v8M126.5 291.5h8m-4-4v8M127.5 285.5h8m-4-4v8M127.5 281.5h8m-4-4v8M129.5 280.5h8m-4-4v8M138.5 289.5h8m-4-4v8M147.5 293.5h8m-4-4v8M154.5 303.5h8m-4-4v8M154.5 296.5h8m-4-4v8M155.5 297.5h8m-4-4v8M156.5 298.5h8m-4-4v8M161.5 297.5h8m-4-4v8M160.5 303.5h8m-4-4v8M160.5 298.5h8m-4-4v8M166.5 298.5h8m-4-4v8M167.5 309.5h8m-4-4v8M168.5 306.5h8m-4-4v8M167.5 301.5h8m-4-4v8M168.5 296.5h8m-4-4v8M173.5 297.5h8m-4-4v8M178.5 298.5h8m-4-4v8M180.5 306.5h8m-4-4v8M179.5 300.5h8m-4-4v8M180.5 296.5h8m-4-4v8M181.5 305.5h8m-4-4v8M180.5 300.5h8m-4-4v8M180.5 296.5h8m-4-4v8M192.5 300.5h8m-4-4v8M194.5 295.5h8m-4-4v8M193.5 299.5h8m-4-4v8M195.5 303.5h8m-4-4v8M196.5 299.5h8m-4-4v8M205.5 301.5h8m-4-4v8M205.5 295.5h8m-4-4v8M210.5 290.5h8m-4-4v8M218.5 284.5h8m-4-4v8M230.5 280.5h8m-4-4v8M239.5 288.5h8m-4-4v8M240.5 282.5h8m-4-4v8M246.5 282.5h8m-4-4v8M249.5 283.5h8m-4-4v8M251.5 283.5h8m-4-4v8M250.5 282.5h8m-4-4v8M261.5 273.5h8m-4-4v8M261.5 269.5h8m-4-4v8M262.5 270.5h8m-4-4v8M265.5 281.5h8m-4-4v8M263.5 271.5h8m-4-4v8M266.5 271.5h8m-4-4v8M266.5 266.5h8m-4-4v8M267.5 280.5h8m-4-4v8M268.5 275.5h8m-4-4v8M268.5 270.5h8m-4-4v8M268.5 266.5h8m-4-4v8M271.5 269.5h8m-4-4v8M272.5 264.5h8m-4-4v8M272.5 269.5h8m-4-4v8M273.5 265.5h8m-4-4v8M273.5 271.5h8m-4-4v8M273.5 267.5h8m-4-4v8M273.5 271.5h8m-4-4v8M272.5 266.5h8m-4-4v8M284.5 271.5h8m-4-4v8M283.5 266.5h8m-4-4v8M284.5 266.5h8m-4-4v8M284.5 267.5h8m-4-4v8M286.5 263.5h8m-4-4v8M289.5 262.5h8m-4-4v8M290.5 256.5h8m-4-4v8M296.5 257.5h8m-4-4v8M295.5 264.5h8m-4-4v8M294.5 258.5h8m-4-4v8M295.5 254.5h8m-4-4v8M304.5 258.5h8m-4-4v8M305.5 253.5h8m-4-4v8M306.5 257.5h8m-4-4v8M305.5 251.5h8m-4-4v8M308.5 256.5h8m-4-4v8M309.5 254.5h8m-4-4v8M312.5 262.5h8m-4-4v8M312.5 257.5h8m-4-4v8M313.5 261.5h8m-4-4v8M312.5 255.5h8m-4-4v8M314.5 255.5h8m-4-4v8M316.5 255.5h8m-4-4v8M318.5 260.5h8m-4-4v8M317.5 255.5h8m-4-4v8M322.5 256.5h8m-4-4v8M323.5 260.5h8m-4-4v8M325.5 256.5h8m-4-4v8M324.5 266.5h8m-4-4v8M324.5 262.5h8m-4-4v8M325.5 256.5h8m-4-4v8M328.5 268.5h8m-4-4v8M331.5 269.5h8m-4-4v8M333.5 274.5h8m-4-4v8M333.5 274.5h8m-4-4v8M336.5 273.5h8m-4-4v8M335.5 280.5h8m-4-4v8M343.5 282.5h8m-4-4v8M342.5 274.5h8m-4-4v8M343.5 273.5h8m-4-4v8M348.5 274.5h8m-4-4v8M357.5 282.5h8m-4-4v8M371.5 272.5h8m-4-4v8M377.5 271.5h8m-4-4v8M378.5 274.5h8m-4-4v8M380.5 279.5h8m-4-4v8M382.5 271.5h8m-4-4v8M383.5 271.5h8m-4-4v8M388.5 274.5h8m-4-4v8M388.5 285.5h8m-4-4v8M387.5 279.5h8m-4-4v8M387.5 273.5h8m-4-4v8M392.5 281.5h8m-4-4v8M397.5 286.5h8m-4-4v8M397.5 282.5h8m-4-4v8M399.5 283.5h8m-4-4v8M410.5 298.5h8m-4-4v8M412.5 292.5h8m-4-4v8M411.5 287.5h8m-4-4v8M415.5 288.5h8m-4-4v8M420.5 298.5h8m-4-4v8M420.5 292.5h8m-4-4v8M420.5 287.5h8m-4-4v8M427.5 301.5h8m-4-4v8M427.5 296.5h8m-4-4v8M427.5 290.5h8m-4-4v8M428.5 292.5h8m-4-4v8M429.5 288.5h8m-4-4v8M430.5 291.5h8m-4-4v8M432.5 301.5h8m-4-4v8M432.5 296.5h8m-4-4v8M432.5 291.5h8m-4-4v8M433.5 290.5h8m-4-4v8M434.5 296.5h8m-4-4v8M436.5 292.5h8m-4-4v8M434.5 287.5h8m-4-4v8M437.5 290.5h8m-4-4v8M438.5 289.5h8m-4-4v8M440.5 293.5h8m-4-4v8M440.5 290.5h8m-4-4v8M439.5 293.5h8m-4-4v8M442.5 288.5h8m-4-4v8M446.5 294.5h8m-4-4v8M446.5 290.5h8m-4-4v8M451.5 289.5h8m-4-4v8M453.5 288.5h8m-4-4v8M453.5 285.5h8m-4-4v8M454.5 288.5h8m-4-4v8M454.5 289.5h8m-4-4v8M454.5 285.5h8m-4-4v8M472.5 292.5h8m-4-4v8M473.5 296.5h8m-4-4v8M473.5 291.5h8m-4-4v8M473.5 298.5h8m-4-4v8M472.5 294.5h8m-4-4v8M472.5 298.5h8m-4-4v8M473.5 293.5h8m-4-4v8M474.5 289.5h8m-4-4v8M484.5 318.5h8m-4-4v8M483.5 313.5h8m-4-4v8M484.5 309.5h8m-4-4v8M485.5 313.5h8m-4-4v8M484.5 309.5h8m-4-4v8M487.5 321.5h8m-4-4v8M485.5 317.5h8m-4-4v8M486.5 311.5h8m-4-4v8M491.5 315.5h8m-4-4v8M496.5 317.5h8m-4-4v8M498.5 312.5h8m-4-4v8M498.5 318.5h8m-4-4v8M498.5 313.5h8m-4-4v8M499.5 315.5h8m-4-4v8M504.5 321.5h8m-4-4v8M504.5 315.5h8m-4-4v8M505.5 325.5h8m-4-4v8M506.5 320.5h8m-4-4v8M507.5 315.5h8m-4-4v8M508.5 316.5h8m-4-4v8M510.5 317.5h8m-4-4v8M515.5 320.5h8m-4-4v8M518.5 322.5h8m-4-4v8M518.5 318.5h8m-4-4v8M521.5 317.5h8m-4-4v8M521.5 328.5h8m-4-4v8M521.5 322.5h8m-4-4v8M521.5 317.5h8m-4-4v8M527.5 322.5h8m-4-4v8M527.5 316.5h8m-4-4v8M530.5 317.5h8m-4-4v8M536.5 318.5h8m-4-4v8M537.5 314.5h8m-4-4v8M541.5 312.5h8m-4-4v8M543.5 309.5h8m-4-4v8M544.5 316.5h8m-4-4v8M544.5 310.5h8m-4-4v8M549.5 296.5h8m-4-4v8M559.5 301.5h8m-4-4v8M560.5 296.5h8m-4-4v8M560.5 292.5h8m-4-4v8M559.5 293.5h8m-4-4v8M564.5 296.5h8m-4-4v8M564.5 292.5h8m-4-4v8M571.5 296.5h8m-4-4v8M569.5 292.5h8m-4-4v8M571.5 296.5h8m-4-4v8M573.5 303.5h8m-4-4v8M572.5 298.5h8m-4-4v8M574.5 293.5h8m-4-4v8M574.5 299.5h8m-4-4v8M573.5 293.5h8m-4-4v8M580.5 302.5h8m-4-4v8M579.5 298.5h8m-4-4v8M581.5 295.5h8m-4-4v8M588.5 298.5h8m-4-4v8M587.5 294.5h8m-4-4v8M587.5 289.5h8m-4-4v8M591.5 294.5h8m-4-4v8M593.5 289.5h8m-4-4v8M592.5 290.5h8m-4-4v8M605.5 292.5h8m-4-4v8M604.5 286.5h8m-4-4v8M611.5 290.5h8m-4-4v8M611.5 284.5h8m-4-4v8M612.5 285.5h8m-4-4v8M620.5 285.5h8m-4-4v8M622.5 293.5h8m-4-4v8M622.5 287.5h8m-4-4v8M626.5 296.5h8m-4-4v8M627.5 292.5h8m-4-4v8M626.5 292.5h8m-4-4v8M627.5 292.5h8m-4-4v8M634.5 296.5h8m-4-4v8M632.5 292.5h8m-4-4v8M633.5 287.5h8m-4-4v8M635.5 288.5h8m-4-4v8M638.5 288.5h8m-4-4v8M641.5 287.5h8m-4-4v8M650.5 291.5h8m-4-4v8M652.5 287.5h8m-4-4v8M654.5 290.5h8m-4-4v8M654.5 286.5h8m-4-4v8M653.5 281.5h8m-4-4v8M657.5 290.5h8m-4-4v8M656.5 286.5h8m-4-4v8M659.5 283.5h8m-4-4v8M660.5 288.5h8m-4-4v8M660.5 281.5h8m-4-4v8M661.5 283.5h8m-4-4v8M661.5 285.5h8m-4-4v8M670.5 286.5h8m-4-4v8M669.5 282.5h8m-4-4v8M672.5 289.5h8m-4-4v8M673.5 284.5h8m-4-4v8M674.5 280.5h8m-4-4v8M676.5 283.5h8m-4-4v8M678.5 283.5h8m-4-4v8M679.5 289.5h8m-4-4v8M678.5 285.5h8m-4-4v8M678.5 281.5h8m-4-4v8M681.5 289.5h8m-4-4v8M681.5 285.5h8m-4-4v8M682.5 281.5h8m-4-4v8M684.5 288.5h8m-4-4v8M683.5 282.5h8m-4-4v8M682.5 290.5h8m-4-4v8M684.5 284.5h8m-4-4v8M692.5 284.5h8m-4-4v8M698.5 283.5h8m-4-4v8M697.5 280.5h8m-4-4v8M700.5 283.5h8m-4-4v8M703.5 284.5h8m-4-4v8M706.5 291.5h8m-4-4v8M704.5 286.5h8m-4-4v8M704.5 282.5h8m-4-4v8M706.5 286.5h8m-4-4v8M707.5 282.5h8m-4-4v8M710.5 286.5h8m-4-4v8M713.5 284.5h8m-4-4v8M715.5 289.5h8m-4-4v8M715.5 285.5h8m-4-4v8M716.5 280.5h8m-4-4v8M716.5 282.5h8m-4-4v8M722.5 284.5h8m-4-4v8M724.5 286.5h8m-4-4v8M725.5 280.5h8m-4-4v8M731.5 291.5h8m-4-4v8M730.5 287.5h8m-4-4v8M730.5 294.5h8m-4-4v8M733.5 289.5h8m-4-4v8M732.5 285.5h8m-4-4v8M733.5 292.5h8m-4-4v8M732.5 287.5h8m-4-4v8M735.5 290.5h8m-4-4v8M739.5 294.5h8m-4-4v8M741.5 291.5h8m-4-4v8M742.5 298.5h8m-4-4v8M743.5 294.5h8m-4-4v8M744.5 299.5h8m-4-4v8M744.5 294.5h8m-4-4v8M743.5 296.5h8m-4-4v8M742.5 290.5h8m-4-4v8M743.5 293.5h8m-4-4v8M747.5 298.5h8m-4-4v8M747.5 292.5h8m-4-4v8M751.5 289.5h8m-4-4v8M750.5 285.5h8m-4-4v8M760.5 303.5h8m-4-4v8M759.5 297.5h8m-4-4v8M759.5 293.5h8m-4-4v8M759.5 299.5h8m-4-4v8M761.5 293.5h8m-4-4v8M763.5 311.5h8m-4-4v8M763.5 306.5h8m-4-4v8M763.5 301.5h8m-4-4v8M763.5 297.5h8m-4-4v8M765.5 308.5h8m-4-4v8M765.5 302.5h8m-4-4v8M764.5 296.5h8m-4-4v8M766.5 310.5h8m-4-4v8M765.5 305.5h8m-4-4v8M764.5 300.5h8m-4-4v8M766.5 305.5h8m-4-4v8M764.5 301.5h8m-4-4v8M765.5 297.5h8m-4-4v8M770.5 307.5h8m-4-4v8M769.5 301.5h8m-4-4v8M776.5 316.5h8m-4-4v8M776.5 310.5h8m-4-4v8M776.5 304.5h8m-4-4v8M782.5 310.5h8m-4-4v8M781.5 306.5h8m-4-4v8M787.5 308.5h8m-4-4v8M789.5 311.5h8m-4-4v8M789.5 307.5h8m-4-4v8M794.5 314.5h8m-4-4v8M794.5 309.5h8m-4-4v8M794.5 314.5h8m-4-4v8M805.5 319.5h8m-4-4v8M804.5 316.5h8m-4-4v8M806.5 325.5h8m-4-4v8M807.5 320.5h8m-4-4v8M807.5 322.5h8m-4-4v8M807.5 318.5h8m-4-4v8M809.5 324.5h8m-4-4v8M808.5 318.5h8m-4-4v8M815.5 330.5h8m-4-4v8M816.5 327.5h8m-4-4v8M816.5 321.5h8m-4-4v8M815.5 325.5h8m-4-4v8M815.5 328.5h8m-4-4v8M816.5 324.5h8m-4-4v8M820.5 330.5h8m-4-4v8M819.5 326.5h8m-4-4v8M820.5 326.5h8m-4-4v8M828.5 328.5h8m-4-4v8M828.5 335.5h8m-4-4v8M829.5 330.5h8m-4-4v8M840.5 331.5h8m-4-4v8M845.5 334.5h8m-4-4v8M845.5 329.5h8m-4-4v8M844.5 336.5h8m-4-4v8M845.5 330.5h8m-4-4v8M846.5 338.5h8m-4-4v8M846.5 332.5h8m-4-4v8M848.5 334.5h8m-4-4v8M848.5 330.5h8m-4-4v8M848.5 333.5h8m-4-4v8M850.5 335.5h8m-4-4v8M851.5 332.5h8m-4-4v8M862.5 335.5h8m-4-4v8M865.5 344.5h8m-4-4v8M864.5 339.5h8m-4-4v8M865.5 335.5h8m-4-4v8M866.5 339.5h8m-4-4v8M868.5 335.5h8m-4-4v8M868.5 338.5h8m-4-4v8M869.5 332.5h8m-4-4v8M869.5 333.5h8m-4-4v8M880.5 337.5h8m-4-4v8M879.5 333.5h8m-4-4v8M879.5 327.5h8m-4-4v8M881.5 328.5h8m-4-4v8M881.5 323.5h8m-4-4v8M888.5 326.5h8m-4-4v8M889.5 323.5h8m-4-4v8M890.5 327.5h8m-4-4v8M890.5 330.5h8m-4-4v8M890.5 325.5h8m-4-4v8M892.5 324.5h8m-4-4v8M895.5 334.5h8m-4-4v8M895.5 330.5h8m-4-4v8M895.5 325.5h8m-4-4v8M895.5 322.5h8m-4-4v8M898.5 330.5h8m-4-4v8M897.5 326.5h8m-4-4v8M898.5 322.5h8m-4-4v8M899.5 324.5h8m-4-4v8M904.5 328.5h8m-4-4v8M905.5 324.5h8m-4-4v8M909.5 325.5h8m-4-4v8M915.5 326.5h8m-4-4v8M917.5 322.5h8m-4-4v8M918.5 325.5h8m-4-4v8M921.5 335.5h8m-4-4v8M920.5 330.5h8m-4-4v8M921.5 325.5h8m-4-4v8M921.5 325.5h8m-4-4v8M929.5 328.5h8m-4-4v8M928.5 323.5h8m-4-4v8M931.5 329.5h8m-4-4v8M930.5 322.5h8m-4-4v8M930.5 328.5h8m-4-4v8M929.5 323.5h8m-4-4v8M931.5 330.5h8m-4-4v8M933.5 325.5h8m-4-4v8M933.5 330.5h8m-4-4v8M933.5 327.5h8m-4-4v8M933.5 323.5h8m-4-4v8M941.5 336.5h8m-4-4v8M940.5 330.5h8m-4-4v8M941.5 326.5h8m-4-4v8M943.5 330.5h8m-4-4v8M944.5 324.5h8m-4-4v8M950.5 330.5h8m-4-4v8M955.5 328.5h8m-4-4v8M955.5 324.5h8m-4-4v8M957.5 328.5h8m-4-4v8M957.5 323.5h8m-4-4v8M958.5 323.5h8m-4-4v8M957.5 318.5h8m-4-4v8M959.5 324.5h8m-4-4v8M960.5 318.5h8m-4-4v8M964.5 321.5h8m-4-4v8M965.5 315.5h8m-4-4v8M970.5 317.5h8m-4-4v8M970.5 317.5h8m-4-4v8M970.5 314.5h8m-4-4v8M973.5 316.5h8m-4-4v8M975.5 318.5h8m-4-4v8M975.5 324.5h8m-4-4v8M975.5 319.5h8m-4-4v8M977.5 324.5h8m-4-4v8M980.5 341.5h8m-4-4v8M981.5 336.5h8m-4-4v8M990.5 342.5h8m-4-4v8M990.5 348.5h8m-4-4v8M989.5 342.5h8m-4-4v8M990.5 337.5h8m-4-4v8M65.5 236.5h8m-4-4v8M95.5 239.5h8m-4-4v8M124.5 242.5h8m-4-4v8M135.5 231.5h8m-4-4v8M205.5 234.5h8m-4-4v8M205.5 242.5h8m-4-4v8M220.5 244.5h8m-4-4v8M249.5 237.5h8m-4-4v8M68.5 294.5h8m-4-4v8M88.5 292.5h8m-4-4v8M103.5 304.5h8m-4-4v8M118.5 294.5h8m-4-4v8M139.5 304.5h8m-4-4v8M140.5 312.5h8m-4-4v8M161.5 312.5h8m-4-4v8M179.5 310.5h8m-4-4v8M204.5 305.5h8m-4-4v8M223.5 296.5h8m-4-4v8M169.5 265.5h8m-4-4v8M184.5 260.5h8m-4-4v8M261.5 223.5h8m-4-4v8M295.5 202.5h8m-4-4v8M289.5 212.5h8m-4-4v8M299.5 214.5h8m-4-4v8M326.5 220.5h8m-4-4v8M343.5 234.5h8m-4-4v8M359.5 232.5h8m-4-4v8M367.5 233.5h8m-4-4v8M383.5 237.5h8m-4-4v8M408.5 233.5h8m-4-4v8M408.5 243.5h8m-4-4v8M433.5 241.5h8m-4-4v8M448.5 238.5h8m-4-4v8M303.5 255.5h8m-4-4v8M311.5 257.5h8m-4-4v8M424.5 296.5h8m-4-4v8M423.5 302.5h8m-4-4v8M435.5 297.5h8m-4-4v8M434.5 305.5h8m-4-4v8M463.5 239.5h8m-4-4v8M484.5 250.5h8m-4-4v8M484.5 260.5h8m-4-4v8M503.5 264.5h8m-4-4v8M499.5 265.5h8m-4-4v8M554.5 241.5h8m-4-4v8M561.5 243.5h8m-4-4v8M617.5 229.5h8m-4-4v8M614.5 233.5h8m-4-4v8M645.5 238.5h8m-4-4v8M653.5 236.5h8m-4-4v8M464.5 294.5h8m-4-4v8M489.5 318.5h8m-4-4v8M502.5 325.5h8m-4-4v8M515.5 337.5h8m-4-4v8M538.5 323.5h8m-4-4v8M537.5 327.5h8m-4-4v8M575.5 305.5h8m-4-4v8M609.5 296.5h8m-4-4v8M626.5 302.5h8m-4-4v8M641.5 290.5h8m-4-4v8M660.5 234.5h8m-4-4v8M676.5 236.5h8m-4-4v8M717.5 230.5h8m-4-4v8M750.5 243.5h8m-4-4v8M771.5 260.5h8m-4-4v8M782.5 256.5h8m-4-4v8M790.5 262.5h8m-4-4v8M797.5 269.5h8m-4-4v8M666.5 294.5h8m-4-4v8M706.5 295.5h8m-4-4v8M743.5 305.5h8m-4-4v8M767.5 313.5h8m-4-4v8M773.5 313.5h8m-4-4v8M798.5 322.5h8m-4-4v8M816.5 334.5h8m-4-4v8M839.5 337.5h8m-4-4v8M854.5 344.5h8m-4-4v8M868.5 344.5h8m-4-4v8M894.5 339.5h8m-4-4v8M950.5 340.5h8m-4-4v8M984.5 348.5h8m-4-4v8M985.5 350.5h8m-4-4v8" stroke="#00f" stroke-width="1.4" fill="none"/>
<rect x="57" y="271" width="943" height="13" fill="#008000"/>
<path d="M60.5 253H996.5M60.5 301H996.5" stroke="#00bfbf" stroke-width="2.08" fill="none"/></g>
<g stroke="#000" stroke-width="1.11" fill="none">
<rect x="60.5" y="27.5" width="936" height="158"/>
<rect x="60.5" y="195.5" width="936" height="159"/>
<path d="M55.4 74.5H60.5"/>
<path d="M55.4 126.5H60.5"/>
<path d="M55.4 178.5H60.5"/>
<path d="M55.4 210.5H60.5"/>
<path d="M55.4 243.5H60.5"/>
<path d="M55.4 277.5H60.5"/>
<path d="M55.4 310.5H60.5"/>
<path d="M55.4 344.5H60.5"/>
<path d="M60.5 354.5V359.6"/>
<path d="M216.5 354.5V359.6"/>
<path d="M372.5 354.5V359.6"/>
<path d="M528.5 354.5V359.6"/>
<path d="M684.5 354.5V359.6"/>
<path d="M840.5 354.5V359.6"/>
</g>
<text x="24.080000000000002" y="78.69999999999999" font-size="14" textLength="26.52" lengthAdjust="spacingAndGlyphs" text-anchor="start" >200</text>
<text x="24.080000000000002" y="131.5" font-size="14" textLength="26.52" lengthAdjust="spacingAndGlyphs" text-anchor="start" >100</text>
<text x="41.760000000000005" y="183.7" font-size="14" textLength="8.84" lengthAdjust="spacingAndGlyphs" text-anchor="start" >0</text>
<text x="41.760000000000005" y="215.5" font-size="14" textLength="8.84" lengthAdjust="spacingAndGlyphs" text-anchor="start" >2</text>
<text x="41.760000000000005" y="249.0" font-size="14" textLength="8.84" lengthAdjust="spacingAndGlyphs" text-anchor="start" >1</text>
<text x="41.760000000000005" y="282.5" font-size="14" textLength="8.84" lengthAdjust="spacingAndGlyphs" text-anchor="start" >0</text>
<text x="30.12" y="315.90000000000003" font-size="14" textLength="20.48" lengthAdjust="spacingAndGlyphs" text-anchor="start" >−1</text>
<text x="30.12" y="349.40000000000003" font-size="14" textLength="20.48" lengthAdjust="spacingAndGlyphs" text-anchor="start" >−2</text>
<text x="41.1" y="375.2" font-size="14" textLength="38.8" lengthAdjust="spacingAndGlyphs" text-anchor="start" >1.590</text>
<text x="197.1" y="375.2" font-size="14" textLength="38.8" lengthAdjust="spacingAndGlyphs" text-anchor="start" >1.591</text>
<text x="353.1" y="375.2" font-size="14" textLength="38.8" lengthAdjust="spacingAndGlyphs" text-anchor="start" >1.592</text>
<text x="509.1" y="375.2" font-size="14" textLength="38.8" lengthAdjust="spacingAndGlyphs" text-anchor="start" >1.593</text>
<text x="665.1" y="375.2" font-size="14" textLength="38.8" lengthAdjust="spacingAndGlyphs" text-anchor="start" >1.594</text>
<text x="821.1" y="375.2" font-size="14" textLength="38.8" lengthAdjust="spacingAndGlyphs" text-anchor="start" >1.595</text>
<text x="970.4" y="393" font-size="14" textLength="25.0" lengthAdjust="spacingAndGlyphs" text-anchor="start" >1e8</text>
<text x="469.2" y="18" font-size="16.8" textLength="118.6" lengthAdjust="spacingAndGlyphs" text-anchor="start" >./results/gsof4</text>
<text transform="translate(15.6 122.03) rotate(-90)" font-size="14" textLength="28.06" lengthAdjust="spacingAndGlyphs">Deg</text>
<text transform="translate(20.6 291.63) rotate(-90)" font-size="14" textLength="28.06" lengthAdjust="spacingAndGlyphs">Deg</text>
<rect x="67.5" y="153.5" width="78" height="24.7" rx="2.8" fill="#fff" fill-opacity="0.8" stroke="#ccc" stroke-opacity="0.8" stroke-width="1.11"/>
<circle cx="86.4" cy="165.6" r="3.1" fill="#f00"/>
<text x="112.1" y="170.3" font-size="14" textLength="28.1" lengthAdjust="spacingAndGlyphs" text-anchor="start" >yaw</text>
<rect x="830.5" y="202.5" width="159" height="109" rx="2.8" fill="#fff" fill-opacity="0.8" stroke="#ccc" stroke-opacity="0.8" stroke-width="1.11"/>
<path d="M845.5 214.5h8m-4-4v8" stroke="#00f" stroke-width="1.4" fill="none"/>
<circle cx="849.5" cy="235.4" r="3.1" fill="#008000"/>
<circle cx="849.5" cy="256.2" r="3.1" fill="#008000"/>
<path d="M834.1 277H863.9M834.1 297.8H863.9" stroke="#00bfbf" stroke-width="2.08" fill="none"/>
<text x="874" y="218.9" font-size="14" textLength="81.3" lengthAdjust="spacingAndGlyphs" text-anchor="start" >yaw - mean</text>
<text x="874" y="239.7" font-size="14" textLength="110.0" lengthAdjust="spacingAndGlyphs" text-anchor="start" >+ sqrt(yaw var)</text>
<text x="874" y="260.6" font-size="14" textLength="103.0" lengthAdjust="spacingAndGlyphs" text-anchor="start" >- sqrt(yaw var)</text>
<text x="874" y="281.4" font-size="14" textLength="76.6" lengthAdjust="spacingAndGlyphs" text-anchor="start" >+ std(yaw)</text>
<text x="874" y="302.2" font-size="14" textLength="70.0" lengthAdjust="spacingAndGlyphs" text-anchor="start" >- std(yaw)</text>
</svg></body></html>
